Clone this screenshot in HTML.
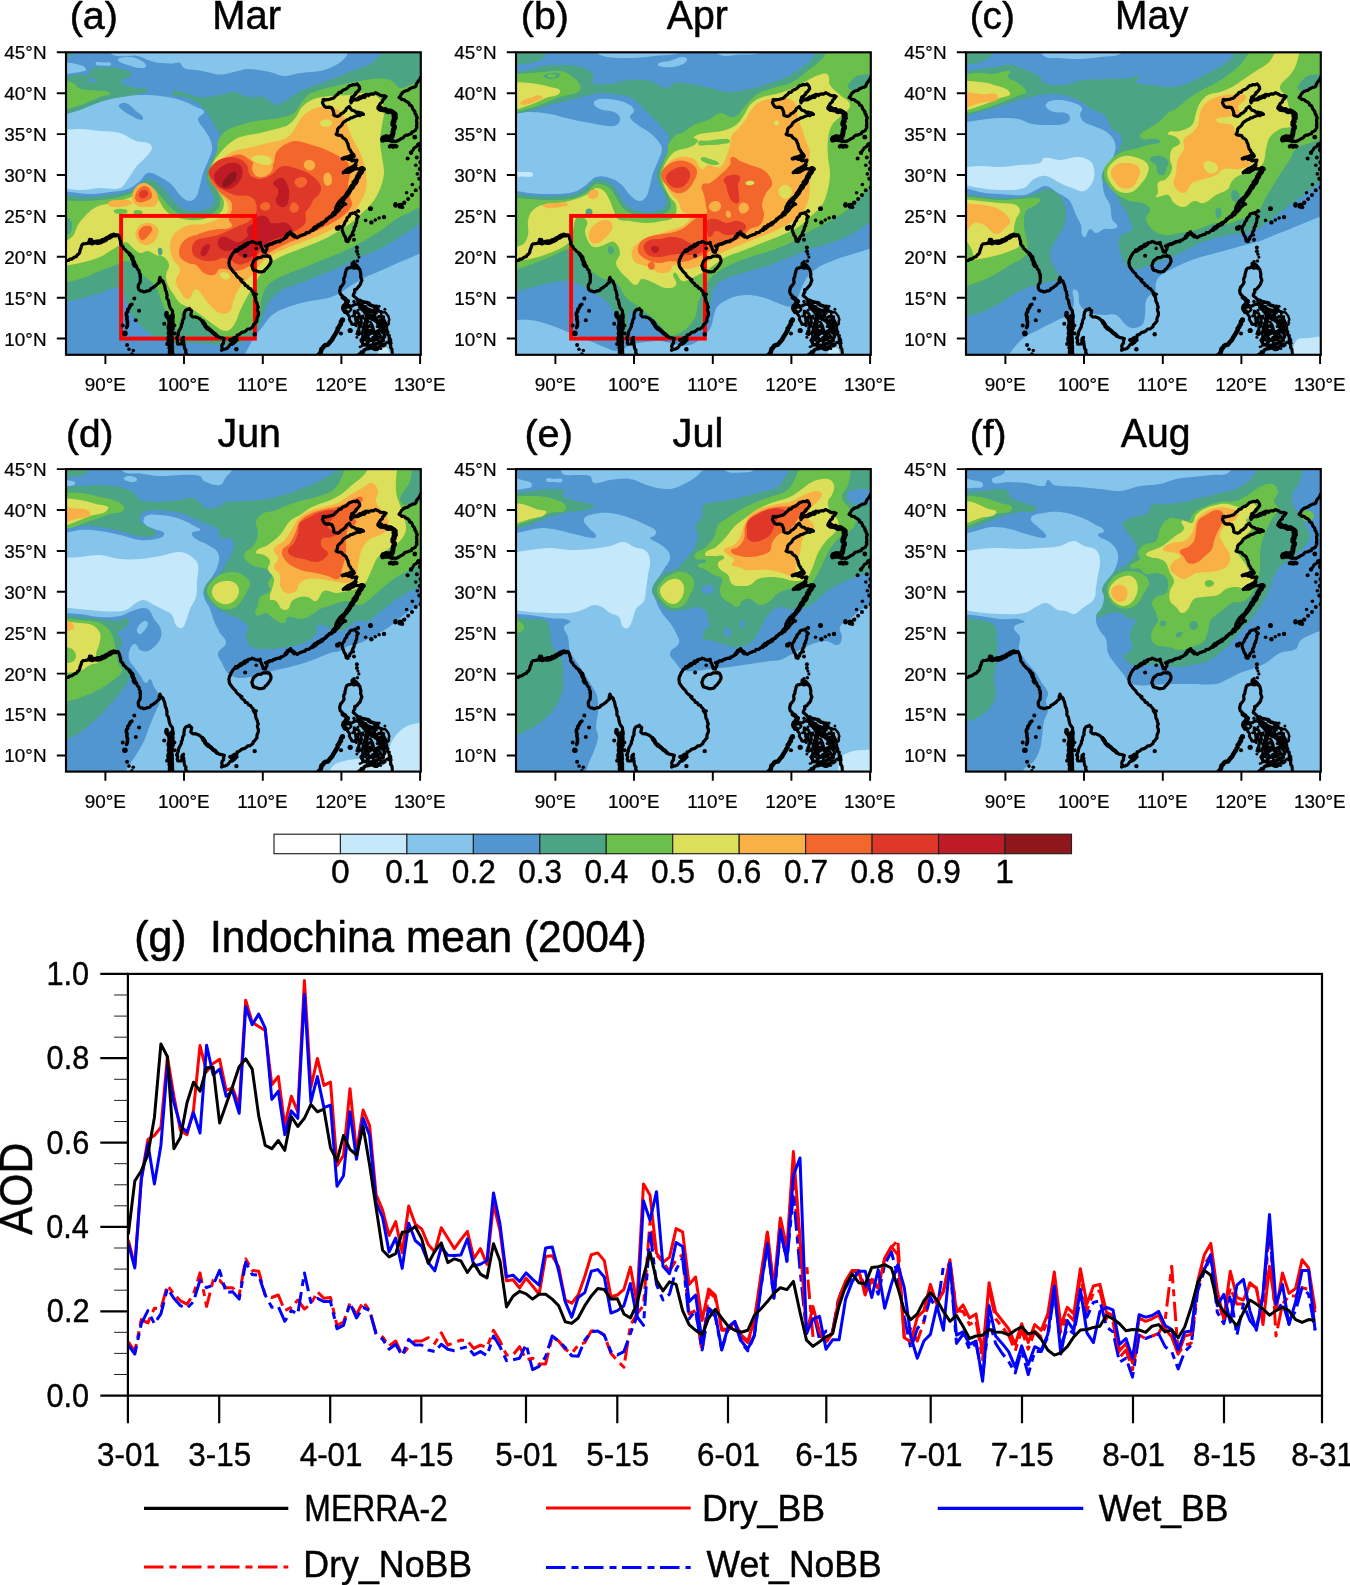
<!DOCTYPE html>
<html><head><meta charset="utf-8"><title>AOD</title>
<style>html,body{margin:0;padding:0;background:#fff}svg{display:block}text{font-family:"Liberation Sans",sans-serif;fill:#000;stroke:#000;stroke-width:0.013em;stroke-linejoin:round}</style></head><body>
<svg width="1350" height="1585" viewBox="0 0 1350 1585">
<rect width="1350" height="1585" fill="#fff"/>
<g style="opacity:0.9999">
<defs>
<clipPath id="pc"><rect x="0" y="0" width="354.8" height="302.5"/></clipPath>
<g id="coast" fill="none" stroke="#000" stroke-width="3.2" stroke-linejoin="round" stroke-linecap="round">
<path d="M-2.1 209.8 L-0.7 209 L0.8 208.2 L2.6 208.1 L3.8 206.9 L5.6 206.8 L7.1 205.8 L8.6 204.7 L10.4 204.3 L11.3 202.5 L12.9 201.4 L13.8 199.9 L13.9 198.3 L14.5 196.8 L15.1 195.4 L15.6 193.2 L17.1 191.5 L19.1 191.3 L21.2 191 L23 189.9 L23.3 188.2 L23.6 187.1 L25.6 187.3 L26.2 189.1 L27.7 189.6 L29.4 189.1 L31.1 188.7 L32.8 188.5 L34.7 188.7 L36 187.3 L37.8 186.9 L39.4 186.1 L40.9 185.1 L42.6 184.4 L44 183.1 L45.9 182.4 L48.1 181.8 L49.9 182.6 L52 182.6 L53.1 184.4 L53.7 186.5 L54.2 188.1 L54.7 189.6 L54.5 191.5 L55.6 193 L57 194.4 L57.6 196.2 L59.3 197.4 L60.6 199.1 L62.3 200.2 L64 201.4 L64.6 203.6 L66.8 204.7 L67.1 206.7 L67.4 208.8 L68.7 210.4 L69.3 212.5 L70.7 214.1 L71 215.9 L71.9 217.2 L73.1 218.3 L73.2 220.4 L74.3 222.1 L74.4 224.1 L74.3 226 L74.2 228 L74.2 229.9 L73.1 231.4 L72.3 232.9 L72.2 234.7 L72.5 236.5 L73.2 237.6 L74.7 238.7 L76.3 238.9 L78 239.7 L79.6 239.3 L81.2 238.5 L82.7 238.5 L84.2 237.8 L85 236.2 L86.6 235.7 L88.4 234.2 L90.2 233 L91.6 231.3 L93.7 229.9 L93.1 228.3 L93.4 226.7 L94 225 L94.7 227.2 L96.7 228.7 L97.3 230.5 L98.2 232.2 L98.7 233.8 L99.1 235.8 L99.4 237.7 L100.4 239.5 L100.6 241.2 L101.1 242.9 L100.8 244.7 L101.1 246.4 L102.4 247.9 L102.7 249.6 L103 251.3 L103.3 252.9 L103.8 254.5 L104.4 256 L105.5 257.3 L106.5 258.7 L106.5 260.8 L107.1 262.7 L107.3 264.6 L106.8 266.6 L107 268.5 L107.1 270.4 L106.8 272.4 L106.7 274.3 L107.3 276.3 L106.1 278.1 L106.2 280.1 L105.9 282 L105.9 283.9 L106.3 285.9 L106.2 287.8 L106.5 289.8 L105.8 291.7 L106.5 293.6 L106.6 295.2 L106.5 296.8 L106.6 298.4 L106.5 300 L106.9 301.6 L106.4 303.3"/>
<circle cx="-3" cy="208.8" r="1.1" fill="#000" stroke="none"/>
<circle cx="12.3" cy="202.8" r="1" fill="#000" stroke="none"/>
<circle cx="20.8" cy="190.7" r="1" fill="#000" stroke="none"/>
<circle cx="73.3" cy="223.7" r="1.1" fill="#000" stroke="none"/>
<circle cx="87.1" cy="235.3" r="1.2" fill="#000" stroke="none"/>
<circle cx="97.4" cy="229.3" r="1.2" fill="#000" stroke="none"/>
<circle cx="106.2" cy="294.3" r="1.4" fill="#000" stroke="none"/>
<path d="M23 190.8 L24.6 191 L26.1 191.6 L27.7 191 L29.4 190.5 L31.3 191.1 L33 191 L34.8 190.4 L36.7 189.5 L38.6 188.7 L40.5 187.8 L41.7 186.2 L43.6 185.9 L45.1 184.8 L46.5 183.8 L48.2 183.3 L50 183.6" stroke-width="3.2"/>
<path d="M63.5 201.9 L64.7 203.2 L65.7 204.6 L66.1 206.4 L66.6 207.9 L67.9 209.6 L67.6 211.7 L68.8 213.5" stroke-width="4"/>
<path d="M100.6 260.8 L100.4 262.6 L100.9 264.1 L102.3 265.4 L103 266.8 L103.5 268.5 L103.6 270.1 L103.7 271.7 L103.1 273.3 L102.7 275 L102.9 276.6 L103.6 278.2 L103.2 279.8 L102.9 281.4 L104 283 L103 284.6 L102.5 286.2 L102.6 287.9 L102.9 289.8 L103.6 291.7 L104.3 293.5 L103.6 295.6 L104.5 297.2 L104 299 L104 300.7 L105 302.3" stroke-width="4.5"/>
<path d="M105 263.7 L105.2 265.3 L105.1 266.9 L104.3 268.5 L104.6 270.1 L105.5 271.7 L105.6 273.4 L105.5 275 L104.3 276.5 L104.4 278.2 L105.4 279.8 L104.3 281.4 L104 283 L104.6 284.6 L105.1 286.2 L104.8 287.8 L105.5 289.4 L105.7 291 L105 292.6" stroke-width="4"/>
<path d="M65.9 252.1 L64.3 252.9 L63.8 254.5 L63 256 L61.7 257.3 L61.8 259.2 L60.5 260.7 L60.3 262.7 L61.1 264.7 L60.8 266.5 L61.1 268.1 L61.6 269.7 L61.4 271.4 L61.4 273.4 L60.6 275.3" stroke-width="3.6"/>
<path d="M121.2 303.3 L120.5 301.6 L119.6 300 L120 298 L118.8 296.6 L118.4 294.9 L118.1 293.3 L118 291.6 L116.9 289.8 L117 288 L117.5 285.1 L116.1 286.1 L115.8 287.9 L116 289.9 L115.1 291.7 L111.8 291.9 L111.2 290 L111.8 287.8 L110.6 285.8 L111.5 284.2 L112.2 282.6 L112.5 280.8 L112.8 279 L113.7 277.4 L114.5 275.8 L115.4 274.2 L115.4 272.2 L116.4 270.7 L116.5 268.9 L117 267.2 L118.1 265.6 L117.9 263.7 L118.2 261.8 L118.5 260 L119.8 257.9 L121.6 257 L123.5 256.8 L125.7 258.4 L125.3 260.5 L124.8 262.9 L126.5 264.6 L128.1 264.7 L129.7 264.6 L131 265.1 L133.1 266.1 L134.8 267.4 L136.2 269.1 L138.3 270.3 L139 271.8 L139.6 273.3 L140.6 274.5 L142.3 275.3 L143.2 276.6 L143.9 278.1 L145.4 278.7 L146.6 279.8 L148 280.6 L149.5 282.4 L151.4 283.8 L153.2 285.1 L155.5 285.5 L158.3 286.3 L157.6 288.5 L157.5 290.8 L156.2 292.3 L155.7 294 L156.2 295.9 L155.5 298 L157.3 297 L159.3 296.7 L161.3 295.9 L162.7 294.4 L163.9 292.5 L165.7 291.7 L167.3 290.8 L168.7 289.7 L169.2 288 L169.9 286.4 L171 284.9 L171.1 282.7 L172.8 282.4 L174.2 281.5 L175.4 280.2 L177 279.8 L178.7 279.3 L180.3 278.2 L181.7 276.7 L183.9 276.7 L185.6 275.5 L186.9 274.5 L187.4 272.5 L188.8 271.5 L189.6 270.3 L191 268.8 L190.9 267 L191.2 265.3 L192 263.7 L192.5 261.9 L192.4 260.2 L191.6 258.5 L191.4 256.8 L192.3 254.9 L191.5 253.1 L191.2 251.1 L190.1 249.3 L189.7 247.5 L189.6 245.3 L188.5 243.5 L187.3 241.8 L187.1 239.6 L185.6 238.2 L184.6 236.4 L182.5 235.8 L181.4 233.8 L179.2 233.2 L178.6 231.3 L177.1 230.4 L175.8 229.3 L174.8 227.9 L173.8 226.1 L171.9 224.9 L170.5 223.4 L169.6 221.5 L168 220.1 L166.6 218.6 L165.5 217 L164.3 215.4 L163.3 213.6 L163.2 211.9 L162.9 210.3 L163.2 208.8 L163.5 207.1 L164.5 205.8 L164.9 204.2 L165.9 202.8 L166.9 200.9 L168.4 199.5 L169.6 197.6 L171.5 197.3 L172.8 196.2 L174 194.9 L175.7 194.2 L177.4 193.8 L178.3 192.1 L180.2 192 L181.4 190.7 L183.1 190.3 L184.8 190.1 L186.3 189.1 L188.2 189.9 L190.2 190.9 L192.2 191 L194.2 190.1 L194.3 192 L195.1 193.6 L195.8 195.2 L196.4 196.7 L196.9 198.3 L197.1 199.5 L199.4 200.1 L199.7 198.4 L200.9 196.9 L200.8 195 L201.9 193.6 L203.1 192.2 L204.8 191.7 L206.4 191.2 L207.9 190.5 L209.4 189.6 L211.7 189.1 L214 188.9"/>
<circle cx="121.1" cy="302.4" r="1.2" fill="#000" stroke="none"/>
<circle cx="118.2" cy="289.2" r="1.2" fill="#000" stroke="none"/>
<circle cx="111.9" cy="285.3" r="1.1" fill="#000" stroke="none"/>
<circle cx="116.1" cy="270.6" r="1.2" fill="#000" stroke="none"/>
<circle cx="123.5" cy="255.6" r="1.1" fill="#000" stroke="none"/>
<circle cx="134.5" cy="266.2" r="0.9" fill="#000" stroke="none"/>
<circle cx="144.7" cy="278.9" r="1.2" fill="#000" stroke="none"/>
<circle cx="188.6" cy="240.9" r="1.3" fill="#000" stroke="none"/>
<circle cx="165.2" cy="216.4" r="1.3" fill="#000" stroke="none"/>
<circle cx="194.4" cy="192" r="1.4" fill="#000" stroke="none"/>
<path d="M136.6 269 L137.3 270.9 L138.7 272.2 L139.3 274.1 L140.7 275.5 L141.9 276.7 L143.7 277.4 L145.1 278.4 L146.1 279.6 L147.5 281 L149.3 281.8 L150.6 283.5" stroke-width="4"/>
<path d="M164.1 287.8 L166 287.5 L167.4 286.3 L168.8 285.5 L170.7 287.7 L169.4 288.5 L168.3 289.8 L166.4 291.3 L165.9 288.9 Z" stroke-width="4"/>
<path d="M169.9 199 L171.5 198.5 L172.8 197.3 L174.3 196.5 L175.8 195.9 L176.8 194.2 L178.8 194.3 L179.8 192.8 L181.5 192.3" stroke-width="3.4"/>
<path d="M186.8 210.6 L187.5 208.8 L188.8 207.5 L190.3 206.5 L191.7 205.3 L193.6 205.3 L195.4 205 L196.9 203.8 L198.6 203.7 L200.3 203.8 L202 204.1 L203.4 204 L204.3 205.8 L205 207.6 L204.9 209.6 L204.1 211.3 L203.2 212.9 L202 214.2 L200.9 215.9 L199.3 217 L198.1 218.9 L196.4 219.3 L194.7 219.6 L193.1 219.6 L191.4 218.9 L189.6 218.3 L187.5 217.9 L186.8 215.7 L185.8 213.5 Z"/>
<circle cx="201.3" cy="203" r="1.5" fill="#000" stroke="none"/>
<circle cx="186.7" cy="216.5" r="1.5" fill="#000" stroke="none"/>
<path d="M199.4 193.7 L201 193.1 L202.6 192.2 L204.3 191.6 L206.3 191.8 L207.6 190.5 L209.2 190.4 L210.6 189.4 L212.3 189.4 L214.1 189.3 L214.9 187.7 L216.7 187.5 L217.9 186.3 L219.5 185.8 L220.8 184.7 L221.3 183.1 L222.9 182.3 L223.5 180.7 L225.7 181.3 L227.7 182.3 L229.3 184.1 L231.2 185.3 L232.7 184.4 L234.1 183.5 L235.8 183 L237.3 182.2 L239.1 182 L240.2 180.3 L242.2 180.4 L243.7 179.7 L244.9 178.2 L246.9 178.2 L248.3 177 L250 176.3 L251.1 174.7 L252.7 173.8 L254.3 172.9 L256.2 172.2 L257.3 170.6 L258.6 169.2 L260.1 168.1 L261.4 167 L262.5 165.8 L263.9 164.9 L265.8 164.6 L266.8 163.1 L268.9 162.4 L269.9 160.5 L271.5 159.3 L273 157.9 L274 156 L275.5 154.5 L277.3 153 L278 150.8"/>
<path d="M219.6 184.1 L221.1 183.2 L221.6 181.4 L223.5 181.1 L224.5 179.7 L225.4 181.6 L226.8 183.1 L228.3 184.5" stroke-width="3.6"/>
<path d="M246.7 176.8 L247.8 175.6 L249 174.4 L251.2 174.7 L251.8 172.7 L253.5 172.3 L254.8 171.2 L256.1 170.3 L258 169.7 L259.7 168.9 L260.4 166.9 L262.2 166.2 L263.3 164.7 L265.1 163.9 L266.1 162.5 L267.1 161.1 L268.3 159.9 L269.6 158.8 L271.6 158.4 L272.4 156.8 L273.7 155.6" stroke-width="3.4"/>
<path d="M266.8 162.1 L267.2 160.5 L268.7 159.4 L269.5 158 L269.7 156.3 L270 154.7 L270.8 153.3 L271.4 151.8 L272.5 150.4 L273.4 148.9 L274.6 147.8 L275.8 146.5 L277.2 145.4 L278.6 144.4 L279.6 143 L280.2 141.4 L281.2 140.1 L282.3 138.8 L283.1 137.3 L284 136 L284.5 134.4 L285.6 133 L287.1 132 L287 130.1 L288.2 128.8 L289.1 127.5 L290.3 126.1 L290.7 124.1 L291.7 122.6 L292.6 121 L293.7 119.6 L294.7 118.3 L296.2 117.4 L296.7 115.4 L295.1 115.4 L293.5 116.5 L292.1 116.5 L290.2 116.3 L288.5 116.7 L287.1 117.8 L285.4 118.3 L283.9 119.7 L282.1 120 L280.4 120.1 L278.7 120 L277.2 120.5 L278.7 119.8 L279.7 118.1 L281 117.1 L282.5 116.3 L284.2 115.8 L285.9 114.7 L287.7 113.6 L289.2 112.1 L290.1 110.1 L290.9 107.8 L289.3 108.1 L287.7 108 L285.9 108.6 L284.3 107.1 L282.2 107.1 L280.3 105.6 L278.3 106.2 L276.2 106.4 L277.6 105.6 L279.2 105.1 L280.8 105 L282.3 104.4 L284.1 103.4 L286 103.1 L288.1 103.2 L287.2 101.9 L286 100.8 L284.9 99.5 L284.5 97.9 L283.2 96.8 L282.8 95.1 L282.2 93.6 L282 91.7 L281 90.1 L280.5 88.3 L279.3 86.9 L277.9 86.1 L276.6 85.2 L275.7 83.4 L274 83.1 L272.2 82.9 L270.1 81.9 L271 80.4 L271.5 78.8 L271.6 77.1 L272.7 75.4 L274.4 74.1 L275.8 72.8 L276.7 70.9 L278 69.5 L279.7 68.6 L281.2 67.5 L283.1 66.9 L284.5 65.5 L286.5 65.3 L288.1 64.4 L290 63.7 L291.8 62.9 L293.9 63.3 L295.5 62.2 L297.5 62 L295.7 60.6 L293.8 60.5 L291.9 59.7 L289.9 60 L288.3 58.4 L286.1 57.9 L284.9 56.8 L283.9 55.5 L283.3 54.1 L281.8 55.2 L280.3 56.2 L279.7 58.2 L278.2 59.3 L277 60.7 L275.2 61.2 L273.8 63.1 L271.5 64.2 L269.6 63.7 L267.7 62.7 L267.8 60.7 L267.3 58.7 L265.9 55.7 L264.4 55 L262.7 54.8 L260.9 55.2 L258.9 54.4 L257.7 52.9 L256.4 50.3 L258.1 47.2 L259.8 47.8 L261.3 47.3 L262.9 47.1 L264.5 46.7 L266.1 46.2 L267.3 45.9 L268.9 44.5 L270.2 43 L271.9 41.9 L273 40.1 L275.1 40 L276.3 38.3 L277.8 37.5 L279.6 37 L281 36 L282.2 34.7 L283.6 33.4 L285.5 33.1 L287.1 32.2 L289.1 32.6 L291.2 31.6 L292.5 33.2 L293.4 34.5 L293.7 36.5 L292.6 38 L291.7 39.2 L290.4 40.3 L289.7 41.9 L288.5 42.8 L287.5 44 L285.7 44.7 L285.4 46.3 L284.6 48.2 L285 50.5 L286.2 48.6 L287.9 47 L290.2 47 L292 45.8 L293.7 44.6 L295.5 44.5 L296.8 43.5 L298.4 42.9 L299.8 42 L301.6 42.3 L303.5 42.2 L305.4 41.6 L307.4 41.8 L309.4 40.4 L311.1 41.2 L312.7 41.9 L314.2 43 L315.9 43.5 L318 43.3 L320.1 44.1 L319 45.4 L318 46.8 L316.6 47.9 L316.3 49.7 L314.8 50.6 L313.8 52 L312.8 53.9 L311.9 56.2 L314.1 58 L315.8 57.7 L317.5 57.7 L319.2 57.7 L320.8 58.2 L322.9 57.7 L324.8 58.2 L326.4 59.1 L328.3 60.1 L330.1 61.7 L330.1 63.4 L329.5 65 L329.7 66.7 L327.7 67.6 L326.2 69.6 L326.8 71.3 L328.2 72.6 L329 74.5 L328.4 76.1 L327.3 77.5 L326.4 79.1 L326.7 80.7 L327 82.3 L326.7 84 L324.7 83.8 L322.8 83.7 L320.8 83.7 L319.2 83.9 L317.6 84.4 L316.5 84.9 L315.6 86.8 L316 88.5 L317.7 88.5 L319.2 88 L320.8 88.1 L322.9 88.1 L324.8 88.8 L326.6 89.4 L328.2 88.9 L330.2 89.2 L331.7 88.4 L333.3 87.6 L334.9 86.4 L337 85.7 L338.2 84 L339.8 82.9 L341.8 82.8 L343.4 81.9 L345.3 81.5 L346 79.7 L347.5 79.1 L349.2 78.3 L350 76.7 L350.9 75.2 L350.7 73.4 L350.9 71.4 L350.6 69.5 L350.5 67.6 L351.3 65.4 L350.3 64 L350.1 62.3 L348.9 61 L348.9 59.3 L347.8 57.9 L346.7 56.7 L346.2 55 L345.4 53.5 L343.6 52.8 L343.1 51 L341.5 49.7 L339.6 48.8 L338.2 47.4 L336.5 47 L334.9 46.3 L333.1 45.2 L334.5 43.5 L335.4 41.6 L336.8 40.2 L338.4 39 L340.3 38.4 L342.2 37.8 L343.5 36.5 L345.1 35.9 L346.6 35 L348.4 34.8 L349.9 33.8 L350.2 32.1 L351 30.6 L352.1 29.4 L353.1 28 L354 26.6 L354.6 25.1"/>
<circle cx="265.9" cy="162.6" r="1.1" fill="#000" stroke="none"/>
<circle cx="272.9" cy="150.1" r="1.1" fill="#000" stroke="none"/>
<circle cx="286.6" cy="100" r="0.9" fill="#000" stroke="none"/>
<circle cx="256.8" cy="47.3" r="1.3" fill="#000" stroke="none"/>
<circle cx="285.8" cy="32.8" r="1.2" fill="#000" stroke="none"/>
<circle cx="289.9" cy="40.3" r="1.5" fill="#000" stroke="none"/>
<circle cx="287.9" cy="47.8" r="1.5" fill="#000" stroke="none"/>
<circle cx="302.6" cy="43.4" r="1.5" fill="#000" stroke="none"/>
<circle cx="315.2" cy="57.7" r="1.4" fill="#000" stroke="none"/>
<circle cx="319.9" cy="83.1" r="1.1" fill="#000" stroke="none"/>
<circle cx="350" cy="73.1" r="1.2" fill="#000" stroke="none"/>
<circle cx="335.8" cy="47.6" r="1.4" fill="#000" stroke="none"/>
<circle cx="343.6" cy="37.2" r="0.9" fill="#000" stroke="none"/>
<path d="M272.6 152.5 L273.3 150.8 L275 150 L276 148.7 L277.3 147.5 L278 145.8 L279.3 144.7 L280.4 143.5 L281.2 142.1 L282.5 141 L283.2 139.5 L284.1 138.3 L284.5 136.6 L286.3 135.6 L287.1 133.9 L287.7 132.2 L289.4 131.1 L290.4 129.5 L290.9 127.7 L291.5 125.9 L292.8 124.6 L293.3 122.8 L294.3 121.3 L295.7 119.9 L296.2 118 L297.7 116.8" stroke-width="4.4"/>
<path d="M277.9 119.7 L279.4 118.8 L281.1 118.2 L282.3 116.8 L284.3 116.9 L285.3 115.2 L287.3 115.1 L288.8 114.2 L290 112.9" stroke-width="3.4"/>
<path d="M276.5 106.6 L278.4 106.2 L280.2 105 L282.3 105.2 L284.2 104.7 L286.2 105.2 L288 104.2" stroke-width="3.4"/>
<path d="M286.1 48.2 L287.9 47 L290.2 47.5 L292.1 47.1 L293.6 46.2 L295.1 45.8 L296.4 44.4 L298.3 45.1 L299.6 43.9" stroke-width="3.6"/>
<path d="M313.1 55 L314.7 55.7 L315.9 57 L317.5 57.6 L319.5 57.2 L320.7 58.8 L322.4 59.5 L324.4 58.7 L326 59.6 L327.2 60.4 L328.6 61.9 L328 64 L329.4 65.7 L328 67 L328.3 69 L327.1 70.4 L326.8 72.2 L328.2 73.6 L328.5 75.4 L327.4 77.2 L327.1 79.2 L326.9 81.1 L326.4 83 L325.7 84.9" stroke-width="5"/>
<path d="M317 85.9 L318.8 85 L321 85.9 L322.6 85.1 L323.8 86.8 L325.7 87.8" stroke-width="4"/>
<path d="M323.8 94.1 L325.4 93.5 L327.1 94.5 L328.8 93.5 L330.5 94.1" stroke-width="4.2"/>
<path d="M354.6 90.7 L353 91.9 L351.3 93.1 L350 94.7 L348.1 95.6 L347.3 97.4 L346.1 98.8 L345 100.4" stroke-width="3"/>
<path d="M289.5 160.4 L290.3 162.6 L292.4 164.4 L290.9 166.1 L290.8 168.1 L290.6 170.1 L289.6 171.9 L289.7 173.6 L288.3 174.9 L288.2 176.6 L287.8 178.2 L286.8 179.6 L286.2 181.4 L285.5 183.3 L283.9 184.6 L283.5 186.9 L281.6 187.1 L280.1 188.5 L279.8 186.7 L279.4 184.8 L278.2 183.3 L277.6 181.6 L276.9 179.8 L276.2 177.9 L276 175.6 L276.8 174 L278 172.5 L278.6 170.8 L279.4 169.1 L280.7 168 L280.9 166.1 L282 164.9 L283.4 163.8 L284 161.8 L285.8 161.1 L287.7 160.9 Z"/>
<circle cx="289.1" cy="159.7" r="1.3" fill="#000" stroke="none"/>
<circle cx="280.1" cy="186.6" r="1" fill="#000" stroke="none"/>
<path d="M286.1 211.1 L287.7 211.7 L289.2 212.4 L290.7 213.2 L291.8 214.6 L292.6 216 L293.7 216.9 L294.2 218.6 L294.5 220.4 L294.9 222 L294.6 224.2 L295.2 226.1 L295.9 228 L295 229.9 L294.5 231.9 L293.5 233.4 L292.1 234.8 L290.8 236.6 L288.6 237.5 L288.9 239.7 L287.7 241.5 L287.2 243.3 L288.8 244.6 L290.2 245.8 L291.8 247.6 L294 247.7 L295.7 248.9 L297.5 250 L299.8 249.8 L301.4 250.8 L302.8 252.2 L304.5 253.1 L306.4 253.6 L308.3 254.1 L310.6 253.9 L311.3 257.1 L309.4 258.1 L307.2 259.4 L305.5 257.9 L303.7 257.6 L302.4 256.7 L300.6 256.4 L299.8 254.6 L298.1 254.1 L296.4 253.8 L294.9 252.8 L293.2 252.5 L291.5 252.1 L290.2 251.6 L288.2 252.4 L286.4 253.6 L284.3 254.2 L282.3 254.7 L280.3 254.8 L278.4 254.6 L276.7 255.2 L277.2 253.5 L278.4 252.5 L279.3 251.1 L281 250.5 L282.3 249.2 L280.7 248.7 L279.5 247.6 L278.3 246.1 L276.2 245.5 L276.1 243.2 L274.3 241.7 L273.8 239.6 L273.7 238 L274.3 236.3 L274.4 235.1 L275.9 233.5 L277.2 231.8 L278.1 230 L277.7 228 L277.8 226 L278.9 224.2 L279 222.2 L279.6 220.3 L280 218.4 L280.5 216.9 L281.9 215.7 L283.7 215.5 L285.1 214.7 L288 215.9 L290 215.4 L291.9 215.4"/>
<circle cx="287.8" cy="237.8" r="0.9" fill="#000" stroke="none"/>
<circle cx="308.2" cy="257.1" r="1.5" fill="#000" stroke="none"/>
<circle cx="294" cy="251.6" r="0.9" fill="#000" stroke="none"/>
<path d="M288 212.5 L289.7 212.9 L290.5 214.6 L291.9 215.4" stroke-width="4"/>
<path d="M277.4 245.4 L279.2 246.5 L280.3 248.3 L281.8 248.9 L280.8 250.5 L280.9 252.8 L279.4 254" stroke-width="4.5"/>
<path d="M276.5 256 L277 257.6 L277.9 258.9 L278.8 260.3 L280.8 260.7 L281.7 262.1 L282.8 263.4 L283.7 264.9 L283.3 267 L284.1 268.5 L285.2 270 L285.9 271.9 L287.6 272.2 L289.5 272.4 L290.3 273.4 L290.1 271.7 L290.9 269.9 L289.8 268.3 L289.7 266.7 L289.4 264.7 L288.3 262.9 L288.2 260.9 L288.2 258.6 L289.8 260.1 L292.1 260.7 L293.1 262.1 L293.2 264.1 L294.8 265.1 L295.2 266.4 L295.1 268.5 L295.5 270.6 L294.5 272.4 L293.9 274.3 L292.8 275.7 L292.9 277.5 L291.8 278.8 L291.5 280.5 L290.9 281.6 L292.7 282.3 L294 280.7 L296.1 281.4 L296.6 279.5 L297.6 278.1 L299 277.1 L301 276.3 L301.6 274.4 L300.3 272.3 L301.3 270.4 L301.5 268.5 L301.5 266.7 L300.1 265.3 L300.1 263.4 L299.7 261.5 L301.3 263.2 L303.7 263.3 L304.6 265 L306.5 264.8 L308 265.5 L309.4 266.9 L311.2 265.6 L313.1 264 L315.1 264.9 L317.6 264.4 L317.3 266.3 L318.2 267.7 L318.8 269.2 L319.7 270.5 L320.4 272.3 L320.5 274.3 L320.8 276.2 L320.3 278.3 L322 279.9 L321.2 282.2 L323 283.8 L323.2 285.8 L323.6 287.7 L323.1 289.9 L324.2 291.7 L324.9 293.6 L324.5 295.4 L325.9 296.7 L326 298.4 L326.3 300.1 L326.3 301.7 L327.1 303.3" stroke-width="3"/>
<path d="M291.9 249.2 L292.8 250.7 L294.1 251.7 L295.6 252.5 L296.7 253.6 L298.1 254.6 L298.8 256.6 L300.4 257.6 L301.8 258.9 L303.3 259.3 L305.1 259.3 L307 259.3 L308.6 258.5 L310.8 258.2 L309.6 259.4 L308.2 260.5 L308.4 262.4 L307.8 263.5 L308.4 265.1 L308.6 266.9 L309.2 268.6 L310.9 269.6 L311.7 271.1 L312.5 272.6 L313.4 274.1 L314.1 275.8 L315.5 276.8 L316.6 278.3 L318 279.4 L318.2 280.9 L318.1 282.6 L318.6 284.6 L316.8 285.9 L317.4 288.3 L315.7 288.9 L313.7 289.1 L312.4 290.3 L311.1 291.3 L309.3 292.3 L307.5 293.1 L305.4 292.9 L303.3 294.2 L301.4 293.4 L299.6 292.5 L297.1 292.1 L296.6 290.5 L296.1 288.8 L295 288 L296.2 286.4 L297.8 285.1 L299.1 284.1 L300.3 283 L302.1 282.9 L303.4 281.9 L305.1 280.7 L306.6 279.2 L307.2 277.2 L306.8 275.5 L306.4 273.8 L305.5 272.5 L303.7 273.7 L301.2 274.2 L300.5 275.8 L300.2 277.6 L299.8 279.3 L299.1 281.3 L300.3 282.9 L301.4 284.5 L302.6 286.1 L303.5 287.5 L305.4 288 L307.3 287.2 L309.2 287.7 L311.2 286.9 L312.7 285.5 L314.1 284" stroke-width="3.4"/>
<path d="M293.8 255 L294.8 256.3 L296.4 257 L297.4 258.4 L298.5 259.6 L299.5 260.9 L301.2 261.9 L302.3 263.4 L303.5 264.9 L305.6 265.2 L306.8 266.6 L308.1 267.5 L309.8 267.6 L311.2 268.5 L311.9 270.3 L314.1 270.4 L314.8 272.2 L316.5 273.1 L316.6 275.2 L317.4 276.9 L318.9 278.2" stroke-width="3.6"/>
<path d="M303.5 278.2 L305.4 278.8 L307.6 278.8 L309.3 280.2 L311.2 279.2 L312.8 278 L312.4 279.8 L311.5 281.5 L310.5 283 L310.2 284.9 L308.7 285.7 L306.8 285.5 L305.7 287.2 L304 287.6 L302.9 288.9 L301.6 289.7" stroke-width="3.4"/>
<path d="M292.9 302.1 L294.5 301.5 L295.2 299.7 L297.4 300 L298.1 298.2 L299.5 296.8 L301.5 296.6 L303.4 296.3 L305.2 295.3 L307.3 295.4 L309 295.2 L310.8 295.4 L312.4 294.6 L314 294.2 L315.5 293.5 L317.5 293.6 L318.9 292.6" stroke-width="3.4"/>
<path d="M323.8 286.8 L323.6 289 L324.7 290.7" stroke-width="4"/>
<path d="M279.4 253.6 L281.3 253.4 L283.6 252.9 L283.8 255.2 L285.3 257.1 L284 258.7 L282 260.3 L280.8 258.5 L279.4 258 L279.3 255.7 Z" stroke-width="2.4"/>
<path d="M291.9 264.7 L293.5 264.3 L295.1 264.1 L297.1 263.5 L297.1 265.7 L298.9 266.8 L299.4 268.4 L298.5 270.3 L297.9 272.2 L297.7 274.4 L295.7 274.1 L293.9 273.3 L292.6 272 L293 269.9 L291.7 268.5 L292.5 266.6 Z" stroke-width="2.4"/>
<path d="M296.7 275.3 L298.6 274.4 L300.8 274.3 L301.2 275.9 L301.2 277.7 L301.8 279.3 L302.3 281.3 L300.7 282.7 L300.9 284.5 L300.5 286.2 L299.5 288.1 L296.7 286.9 L296.4 285.2 L296.5 283.4 L296.3 281.7 L295.6 280.1 L296.8 278.6 L297 277 Z" stroke-width="2.4"/>
<path d="M304 269.5 L305.3 270.8 L304.8 272.9 L305.3 274.4 L305.8 276.1 L307.2 277.6 L306.5 279.5 L307.1 281.1 L308.4 282.5 L308.8 284.1 L308.3 285.9" stroke-width="2.4"/>
<path d="M308.8 282 L311.1 282.2 L312.9 281.2 L314.2 282.6 L314.9 285 L313.2 285.9 L311 286.7 L309.2 284.9 Z" stroke-width="2.4"/>
<path d="M313.6 267.5 L315.4 267.8 L317.5 268.4 L316.7 270.5 L317.2 272.5 L318.5 274.4 L317.1 275.9 L317.3 277.7 L316.8 279.3 L317.1 280.8 L315.2 280 L314.9 278.4 L314.9 276.7 L313.7 275.1 L314.4 273.3 L314 271.4 L314.2 269.4 Z" stroke-width="2.4"/>
<path d="M314.1 258.9 L315.7 259.1 L317.2 260.1 L318.9 259.9 L320.2 261.1 L321.2 262.5 L322.3 263.8 L322.8 265.6 L323.4 267.4 L322.6 269 L323 270.7 L322.3 272.4 L320.6 271.9 L319 271.4 L318.7 269.7 L316.8 268.9 L317.2 266.8 L316 265.6 L315.6 263.9 L315.3 262.2 L315.1 260.4 Z" stroke-width="2.4"/>
<path d="M301.6 262.7 L303.1 262.2 L304.7 262 L305.9 262.3 L308.5 262.7 L309.6 264.5 L307.9 265.7 L306.2 267.8 L304.5 266.4 L302.8 266 L302.7 264.2 Z" stroke-width="2.4"/>
<path d="M301.6 250.2 L303.3 250.9 L304.4 252.8 L306.4 253.1 L308 254 L309.3 255.5 L311.8 255.6 L311.9 257.6 L313.1 258.9" stroke-width="3.2"/>
<path d="M293.8 294.6 L295.4 294 L296.6 292.9 L298.4 292.9 L299.7 291.5 L301.6 292 L303.5 292.4 L305.6 293.1 L307.2 291.6 L309.2 291.3 L311.2 290.6 L313.1 291.1 L315 291.9 L316.9 291.4 L319.2 291.2 L321 289.6 L322.1 290.7 L323.7 291.4 L324.7 292.6 L324.5 294.5 L325.4 295.9 L326.2 297.5" stroke-width="2.4"/>
<path d="M297.7 297.5 L299.8 297.3 L301.5 295.9 L303.6 295.3 L305.5 295.9 L307.3 297 L309.3 297.7 L311.3 297.6 L313 296.1 L315.1 296.5" stroke-width="2.4"/>
<path d="M251.9 303.3 L253.2 301.9 L254.5 300.5 L255.1 298.7 L255.5 296.7 L257 295.3 L258.1 293.7 L259.7 292.7 L261.9 292.4 L263.1 290.8 L264.1 289.5 L265.3 288.3 L266.4 287 L267 285.4 L267.9 284.1 L268.9 282.5 L270 280.9 L270.8 279.2 L271.7 277.8 L271.7 276 L273.1 274.9 L273.5 273.3 L274.9 271.8 L274.9 269.5 L276.5 268" stroke-width="4.6"/>
<circle cx="98.2" cy="271.4" r="2" fill="#000" stroke="none"/>
<circle cx="101.1" cy="291.7" r="2" fill="#000" stroke="none"/>
<circle cx="100.2" cy="263.7" r="1.6" fill="#000" stroke="none"/>
<circle cx="108.4" cy="273.3" r="2" fill="#000" stroke="none"/>
<circle cx="108.8" cy="281.1" r="2" fill="#000" stroke="none"/>
<circle cx="68.3" cy="246.3" r="2" fill="#000" stroke="none"/>
<circle cx="73.1" cy="258.4" r="2" fill="#000" stroke="none"/>
<circle cx="69.8" cy="268" r="2" fill="#000" stroke="none"/>
<circle cx="56.7" cy="273.3" r="2" fill="#000" stroke="none"/>
<circle cx="58.9" cy="281.1" r="2.8" fill="#000" stroke="none"/>
<circle cx="61.1" cy="292.6" r="2" fill="#000" stroke="none"/>
<circle cx="63" cy="297" r="1.8" fill="#000" stroke="none"/>
<circle cx="67.3" cy="298.2" r="1.8" fill="#000" stroke="none"/>
<circle cx="65.9" cy="301.8" r="1.8" fill="#000" stroke="none"/>
<circle cx="179.1" cy="203.4" r="2" fill="#000" stroke="none"/>
<circle cx="188.7" cy="282" r="2.2" fill="#000" stroke="none"/>
<circle cx="170.4" cy="297" r="2.2" fill="#000" stroke="none"/>
<circle cx="190.2" cy="196.1" r="1.8" fill="#000" stroke="none"/>
<circle cx="175.7" cy="227.5" r="1.8" fill="#000" stroke="none"/>
<circle cx="190.2" cy="242" r="1.8" fill="#000" stroke="none"/>
<circle cx="348.8" cy="84.9" r="2.4" fill="#000" stroke="none"/>
<circle cx="352.7" cy="92.6" r="2.6" fill="#000" stroke="none"/>
<circle cx="354.6" cy="97.5" r="2.6" fill="#000" stroke="none"/>
<circle cx="345" cy="100.4" r="2.2" fill="#000" stroke="none"/>
<circle cx="341.6" cy="106.1" r="2" fill="#000" stroke="none"/>
<circle cx="350.8" cy="105.2" r="2" fill="#000" stroke="none"/>
<circle cx="354.6" cy="110" r="2.2" fill="#000" stroke="none"/>
<circle cx="349.8" cy="112.9" r="1.8" fill="#000" stroke="none"/>
<circle cx="353.7" cy="116.8" r="2" fill="#000" stroke="none"/>
<circle cx="351.3" cy="121.6" r="1.8" fill="#000" stroke="none"/>
<circle cx="353.2" cy="126.4" r="2" fill="#000" stroke="none"/>
<circle cx="346.4" cy="132.2" r="1.8" fill="#000" stroke="none"/>
<circle cx="354.6" cy="135.1" r="2" fill="#000" stroke="none"/>
<circle cx="340.6" cy="140.4" r="1.8" fill="#000" stroke="none"/>
<circle cx="349.8" cy="138" r="2" fill="#000" stroke="none"/>
<circle cx="346" cy="142.8" r="2" fill="#000" stroke="none"/>
<circle cx="342.1" cy="146.7" r="2" fill="#000" stroke="none"/>
<circle cx="338.2" cy="150.5" r="2.2" fill="#000" stroke="none"/>
<circle cx="334.4" cy="153.4" r="2.4" fill="#000" stroke="none"/>
<circle cx="329.5" cy="152" r="2.2" fill="#000" stroke="none"/>
<circle cx="336.3" cy="154.9" r="2" fill="#000" stroke="none"/>
<circle cx="304.5" cy="156.3" r="2.4" fill="#000" stroke="none"/>
<circle cx="279.4" cy="152" r="1.8" fill="#000" stroke="none"/>
<circle cx="291.9" cy="158.3" r="1.6" fill="#000" stroke="none"/>
<circle cx="271.6" cy="175.9" r="2.6" fill="#000" stroke="none"/>
<circle cx="273.6" cy="174.4" r="2" fill="#000" stroke="none"/>
<circle cx="292.4" cy="159" r="1.8" fill="#000" stroke="none"/>
<circle cx="304.5" cy="156.6" r="2.2" fill="#000" stroke="none"/>
<circle cx="299.6" cy="168.1" r="1.8" fill="#000" stroke="none"/>
<circle cx="305.4" cy="170.1" r="2.2" fill="#000" stroke="none"/>
<circle cx="309.3" cy="167.7" r="1.8" fill="#000" stroke="none"/>
<circle cx="313.1" cy="165.7" r="1.8" fill="#000" stroke="none"/>
<circle cx="318" cy="164.8" r="2.2" fill="#000" stroke="none"/>
<circle cx="334.4" cy="153.5" r="3" fill="#000" stroke="none"/>
<circle cx="329.5" cy="153.2" r="2.2" fill="#000" stroke="none"/>
<circle cx="287.6" cy="182.6" r="1.6" fill="#000" stroke="none"/>
<circle cx="288" cy="187.4" r="2" fill="#000" stroke="none"/>
<circle cx="281.8" cy="188.9" r="2" fill="#000" stroke="none"/>
<circle cx="290.9" cy="195.2" r="2" fill="#000" stroke="none"/>
<circle cx="290.9" cy="199" r="2" fill="#000" stroke="none"/>
<circle cx="291.9" cy="201.9" r="1.6" fill="#000" stroke="none"/>
<circle cx="292.9" cy="204.8" r="1.6" fill="#000" stroke="none"/>
<circle cx="291.4" cy="208.7" r="1.8" fill="#000" stroke="none"/>
<circle cx="288" cy="209.6" r="1.8" fill="#000" stroke="none"/>
<circle cx="286.6" cy="212.1" r="2" fill="#000" stroke="none"/>
<circle cx="284.2" cy="278.2" r="2.6" fill="#000" stroke="none"/>
<circle cx="276.5" cy="267.5" r="2.6" fill="#000" stroke="none"/>
<circle cx="275" cy="281.1" r="2" fill="#000" stroke="none"/>
<circle cx="288" cy="249.2" r="1.7" fill="#000" stroke="none"/>
<circle cx="291.9" cy="257.9" r="1.5" fill="#000" stroke="none"/>
<circle cx="286.6" cy="263.7" r="1.5" fill="#000" stroke="none"/>
<circle cx="289" cy="271.4" r="1.7" fill="#000" stroke="none"/>
<circle cx="292.9" cy="278.2" r="1.5" fill="#000" stroke="none"/>
<circle cx="303.5" cy="258.9" r="1.5" fill="#000" stroke="none"/>
<circle cx="310.2" cy="260.8" r="1.7" fill="#000" stroke="none"/>
<circle cx="300.6" cy="271.4" r="1.5" fill="#000" stroke="none"/>
<circle cx="311.2" cy="274.3" r="1.5" fill="#000" stroke="none"/>
<circle cx="320.9" cy="278.2" r="1.7" fill="#000" stroke="none"/>
<circle cx="323.3" cy="283" r="1.5" fill="#000" stroke="none"/>
<circle cx="307.3" cy="289.7" r="1.5" fill="#000" stroke="none"/>
<circle cx="301.6" cy="290.7" r="1.5" fill="#000" stroke="none"/>
<circle cx="316" cy="287.8" r="1.7" fill="#000" stroke="none"/>
<circle cx="295.8" cy="289.7" r="1.5" fill="#000" stroke="none"/>
<circle cx="290.9" cy="284.9" r="1.5" fill="#000" stroke="none"/>
<circle cx="318.9" cy="256.9" r="1.5" fill="#000" stroke="none"/>
<circle cx="313.1" cy="254" r="1.5" fill="#000" stroke="none"/>
<circle cx="297.7" cy="249.2" r="1.5" fill="#000" stroke="none"/>
<circle cx="324.7" cy="287.8" r="1.7" fill="#000" stroke="none"/>
</g>
</defs>
<g transform="translate(66 52.3)">
<g clip-path="url(#pc)">
<rect x="0" y="0" width="354.8" height="302.5" fill="#5196d0"/>
<path d="M45 -7.3 C45 -7.3 42.9 -1.1 45 1.1 C47.7 4 51.7 3.6 55.6 3.9 C60.7 4.4 64.7 2.6 69.8 3.3 C74.3 3.9 77.3 6.1 81.6 7.5 C85.4 8.7 88.4 9.9 92.4 10.5 C97.5 11.2 101.5 11.1 106.6 11.1 C109.1 11.1 111.3 9.5 113.6 10.5 C116 11.5 116 14.9 118.4 15.9 C122.3 17.6 126 17 130.2 17.7 C134.5 18.4 137.8 19.1 142 19.9 C146.3 20.7 149.6 22.3 154 22.3 C159.1 22.3 163 20.7 168 19.7 C173.1 18.7 176.8 16.7 182 16.7 C190 16.7 196.2 18.2 204 19.7 C209.1 20.7 212.8 23.5 218 23.7 C223.9 23.9 228.2 21.5 234 20.7 C241.2 19.7 246.9 20 254 18.7 C258.5 17.9 261.9 16.7 266 14.7 C270.6 12.4 274.5 10.5 278 6.7 C281.9 2.4 286 -7.3 286 -7.3 C286 -7.3 45 -7.3 45 -7.3 Z" fill="#86c5eb"/>
<path d="M52 6.7 C55.9 4.7 59.6 4.5 64 4.7 C67.8 4.9 70.7 5.9 74 7.7 C76.7 9.2 80 10.6 80 13.7 C80 16 76.3 15.8 74 15.7 C69.6 15.5 66.3 14 62 12.7 C59.1 11.8 56.6 11.3 54 9.7 C52.9 9 50.8 7.3 52 6.7 Z" fill="#86c5eb"/>
<path d="M-10 8.7 C-10 8.7 3 9.8 10 11.7 C13.9 12.7 18.2 13.1 20 16.7 C21.1 18.9 16.4 19.2 14 19.7 C5.5 21.4 -10 22.7 -10 22.7 C-10 22.7 -10 8.7 -10 8.7 Z" fill="#86c5eb"/>
<path d="M-10 0.1 C-10 0.1 0.4 -1.3 6 0.1 C7.4 0.5 5.4 3.2 4 3.7 C-0.8 5.4 -10 5.7 -10 5.7 C-10 5.7 -10 0.1 -10 0.1 Z" fill="#4ba483"/>
<path d="M-10 61.7 C-10 61.7 5.5 59 14 56.7 C21.4 54.7 26.7 51.9 34 49.7 C41.1 47.6 46.7 46 54 44.7 C61.1 43.5 66.8 42.9 74 42.7 C81.2 42.5 86.8 42.8 94 43.7 C101.3 44.6 107 45.6 114 47.7 C120 49.5 124.4 51.9 130 54.7 C133 56.2 137.4 56.3 138 59.7 C138.5 63 132 63.4 132 66.7 C132 70.9 135.8 73.1 138 76.7 C140.2 80.3 142.4 82.8 144 86.7 C145.4 90.1 146.3 93 146 96.7 C145.6 101.2 143.6 104.4 142 108.7 C140.4 113.1 138.5 116.3 137 120.7 C135.6 124.9 135.2 128.4 134 132.7 C132.7 137.1 132.6 140.9 130 144.7 C128.4 147.1 125.9 149.1 123 148.7 C119.1 148.2 116.8 145.4 114 142.7 C110.6 139.5 109.4 135.8 106 132.7 C102.1 129.2 98.6 127 94 124.7 C89.9 122.7 86.5 119.8 82 120.7 C78 121.5 77.2 126.2 74 128.7 C69.9 131.9 66.9 134.9 62 136.7 C55.8 139 50.5 138.8 44 139.7 C36.8 140.6 31.2 142 24 141.7 C11.7 141.2 -10 137.7 -10 137.7 C-10 137.7 -10 61.7 -10 61.7 Z" fill="#86c5eb"/>
<path d="M53 52.7 C54.7 50.7 57.5 49.8 60 50.7 C64.3 52.2 66.4 55.8 70 58.7 C72.6 60.8 75.4 61.8 77 64.7 C77.6 65.8 76.3 67.9 75 67.7 C70.7 67 67.8 64.8 64 62.7 C60.6 60.8 57.9 59.3 55 56.7 C53.8 55.6 52 53.9 53 52.7 Z" fill="#5196d0"/>
<path d="M-10 78.7 C-10 78.7 5.3 76.7 14 76.7 C21.2 76.7 26.8 78 34 78.7 C41.2 79.4 47 78.8 54 80.7 C60.2 82.4 63.9 86.5 70 88.7 C74.1 90.2 78 88.9 82 90.7 C84.1 91.6 86.6 93.5 86 95.7 C84.8 100.5 81.2 103 78 106.7 C75.4 109.8 72.5 111.5 70 114.7 C66.8 118.8 65.1 122.6 62 126.7 C59.4 130.1 58.1 134.4 54 135.7 C47.1 137.9 41.2 135.3 34 135.7 C26.8 136.1 21.2 137.9 14 137.7 C5.3 137.4 -10 134.3 -10 134.3 C-10 134.3 -10 78.7 -10 78.7 Z" fill="#c5e8fa"/>
<path d="M174 312.7 C174 312.7 181 297 186 288.7 C189.7 282.5 193.6 278.4 198 272.7 C200.8 269 202.3 265.5 206 262.7 C211.2 258.8 216 256.9 222 254.7 C229.7 251.9 236 250.5 244 248.7 C251.1 247.1 256.9 247 264 245.1 C267.8 244.1 270.6 242.6 274 240.7 C278.5 238.2 281.6 235.4 286 232.7 C290.9 229.7 294.8 227.3 300 224.7 C304.9 222.2 309 220.9 314 218.7 C321.2 215.5 326.8 212.9 334 209.7 C344.8 205 364 196.7 364 196.7 C364 196.7 364 312.7 364 312.7 C364 312.7 174 312.7 174 312.7 Z" fill="#86c5eb"/>
<path d="M310 312.7 C310 312.7 310.4 301.4 314 296.7 C315.7 294.4 320.5 294.3 322 296.7 C325.1 301.6 324 312.7 324 312.7 C324 312.7 310 312.7 310 312.7 Z" fill="#c5e8fa"/>
<path d="M-10 24.7 C-10 24.7 -2.8 24.5 1.2 24.1 C5 23.7 8 22.7 11.8 22.3 C16 21.8 19.7 23.3 23.6 21.7 C25.5 20.9 24.2 17.5 26 16.5 C29 14.9 32 15.4 35.4 15.3 C40.9 15.2 45.3 15 50.8 15.9 C56 16.7 60.3 17.4 65 19.9 C66.1 20.5 65.9 22.6 65 23.5 C63 25.5 60.3 25.5 58 27.1 C56.9 27.9 54.8 29 55.6 30.1 C57.3 32.4 60.1 32.7 62.8 33.7 C66.1 34.8 68.8 35.3 72.2 35.9 C75.6 36.5 79.2 34.7 81.6 37.1 C83.1 38.6 79 40 77 40.7 C72.9 42.2 69.3 42.3 65 43.1 C59.9 44 55.9 44.6 50.8 45.5 C46.5 46.3 43.2 46.6 39 47.9 C33.3 49.6 29.1 51.5 23.6 53.7 C19.3 55.4 16.2 57.1 11.8 58.5 C4 61 -10 64.7 -10 64.7 C-10 64.7 -10 24.7 -10 24.7 Z" fill="#4ba483"/>
<path d="M21.8 27.1 C23 25.6 25.1 26 27 26.3 C28.6 26.6 31.8 27.5 30.8 28.7 C29.2 30.6 26.4 30.3 24 29.9 C22.7 29.7 21 28.1 21.8 27.1 Z" fill="#5196d0"/>
<path d="M29.6 11.1 C29.6 8.4 34.3 10.2 37 10.3 C39.9 10.4 45 8.8 45 11.7 C45 14.6 39.9 13.2 37 13.1 C34.2 13 29.6 13.9 29.6 11.1 Z" fill="#86c5eb"/>
<path d="M-10 28.3 C-10 28.3 -2.8 28.2 1.2 28.9 C3.8 29.3 5.9 30 8.2 31.3 C10.7 32.7 11.5 35.6 14.2 36.5 C19.5 38.2 24.1 37.5 29.6 38.3 C34.7 39 40.2 37 43.8 40.7 C46.1 43.1 38.4 43 35.4 44.3 C31.2 46.1 27.9 47.4 23.6 49.1 C19.4 50.8 16.1 52.3 11.8 53.7 C4 56.1 -10 59.7 -10 59.7 C-10 59.7 -10 28.3 -10 28.3 Z" fill="#6bc04b"/>
<path d="M106 40.3 C106 34.5 116.3 40.7 122 41.7 C126.4 42.5 129.5 45 134 45.1 C141.2 45.3 146.8 43.8 154 42.7 C159.1 41.9 162.9 39.3 168 39.7 C173.3 40.1 176.7 43.8 182 44.7 C187.7 45.6 192.5 43.1 198 44.7 C203 46.1 204.8 52.3 210 52.7 C214.8 53.1 217.8 49.1 222 46.7 C226.5 44.1 229.4 41 234 38.7 C239.5 35.9 244.2 34.9 250 32.7 C255.8 30.5 260.3 28.9 266 26.7 C273.2 23.9 278.8 21.6 286 18.7 C293.2 15.8 299.7 15.2 306 10.7 C313 5.6 322 -7.3 322 -7.3 C322 -7.3 364 -7.3 364 -7.3 C364 -7.3 364 164.7 364 164.7 C364 164.7 344.9 177.7 334 184.7 C326.9 189.2 321.5 192.9 314 196.7 C307.1 200.2 301.1 201.5 294 204.7 C286.7 208 281.3 211.4 274 214.7 C266.9 217.9 261.2 219.8 254 222.7 C246.8 225.6 241.2 227.8 234 230.7 C226.8 233.6 220.6 234.7 214 238.7 C209.6 241.3 207 244.6 204 248.7 C201.2 252.6 199.9 256.2 198 260.7 C196.2 264.9 196.2 268.7 194 272.7 C191.8 276.7 189.4 279.6 186 282.7 C182.1 286.2 179 289.2 174 290.7 C167.1 292.9 161.2 292.7 154 292.7 C146.8 292.7 141.2 291.1 134 290.7 C126.8 290.3 121.2 291.4 114 290.7 C106.7 290 100.8 289.4 94 286.7 C87.7 284.2 83.2 281.1 78 276.7 C73 272.4 69.6 268.3 66 262.7 C63 258.1 62.2 253.7 60 248.7 C57.9 244 58.9 237.2 54 235.7 C46.9 233.5 41.2 238.7 34 240.7 C26.8 242.7 21.3 244.9 14 246.7 C5.4 248.8 -10 251.7 -10 251.7 C-10 251.7 -10 141.7 -10 141.7 C-10 141.7 11.7 144.5 24 144.7 C31.2 144.8 36.8 143.6 44 142.7 C50.5 141.8 55.8 141.8 62 139.7 C66.7 138.1 69.9 135.6 74 132.7 C76.5 130.9 77.1 127.5 80 126.7 C82.9 125.9 85.4 127.3 88 128.7 C92 130.9 94.7 133.4 98 136.7 C101.3 140 102.9 143.3 106 146.7 C108.7 149.7 110.6 152.4 114 154.7 C117.2 156.9 120.2 158.2 124 158.7 C129 159.3 133.2 159.3 138 157.7 C142.2 156.3 146.1 154.7 148 150.7 C149.6 147.4 147.2 144.2 146 140.7 C145 137.6 143 135.8 142 132.7 C140.8 129.2 139.7 126.4 140 122.7 C140.4 118.2 142.1 114.8 144 110.7 C146.4 105.4 150 102.2 152 96.7 C153.7 91.9 154.8 87.7 154 82.7 C153.3 78.6 150 76.4 148 72.7 C146.1 69.2 145.3 66 143 62.7 C140.2 58.7 137.8 55.7 134 52.7 C130.1 49.6 126.6 47.7 122 45.7 C116.4 43.2 106 46.4 106 40.3 Z" fill="#4ba483"/>
<path d="M152 88.7 C153.9 84.5 156.3 81.4 160 78.7 C164.4 75.5 168.8 74.4 174 72.7 C179.6 70.8 184.2 69.8 190 68.7 C195.7 67.6 200.3 67.5 206 66.7 C210.3 66.1 213.8 65.9 218 64.7 C221.7 63.7 224.9 63 228 60.7 C230.9 58.5 231.8 55.5 234 52.7 C236.8 49.1 238.3 45.5 242 42.7 C245.7 39.9 249.5 39.1 254 37.7 C261.1 35.5 266.8 34.3 274 32.7 C281.2 31.1 286.7 29.9 294 28.7 C301.2 27.6 306.7 26.3 314 26.3 C318.4 26.3 322 26.8 326 28.7 C329.5 30.3 330.3 34.9 334 35.7 C337.7 36.5 340.5 34 344 32.7 C351.3 30 364 24.7 364 24.7 C364 24.7 364 150.7 364 150.7 C364 150.7 344.4 158.9 334 164.7 C326.3 169 321.4 173.9 314 178.7 C307 183.3 301.4 186.7 294 190.7 C286.9 194.6 281.3 197.4 274 200.7 C266.9 203.9 261.2 205.8 254 208.7 C246.8 211.6 241.2 213.8 234 216.7 C226.8 219.6 220.9 221.2 214 224.7 C209.4 227 205.5 228.8 202 232.7 C198.8 236.3 197.4 240.1 196 244.7 C194.5 249.6 195.1 253.7 194 258.7 C192.9 263.8 192.8 268.3 190 272.7 C187.5 276.6 184.1 278.5 180 280.7 C175.3 283.2 171.3 285.3 166 285.7 C161.6 286 158 284.6 154 282.7 C149.3 280.5 146.3 277.6 142 274.7 C137.7 271.8 134.3 269.6 130 266.7 C125.7 263.8 123.2 258.1 118 258.7 C114.2 259.2 115.6 265.2 114 268.7 C112.7 271.6 113.2 277.3 110 276.7 C105.9 275.9 106 270.4 104 266.7 C101.7 262.5 100 259.1 98 254.7 C96.4 251.2 95.4 248.3 94 244.7 C92.6 241.1 92.2 237.9 90 234.7 C87.7 231.3 85.1 229.4 82 226.7 C79.3 224.3 76.5 223.2 74 220.7 C71.5 218.2 70.7 215 68 212.7 C65.6 210.6 63.2 208.7 60 208.7 C56.1 208.7 53.6 211.3 50 212.7 C44.3 214.9 39.7 216.5 34 218.7 C26.8 221.5 21.4 224.5 14 226.7 C5.5 229.2 -10 231.7 -10 231.7 C-10 231.7 -10 147.7 -10 147.7 C-10 147.7 5.4 148.7 14 148.7 C21.2 148.7 26.8 148.4 34 147.7 C41.2 147 46.9 146.5 54 144.7 C60 143.2 64.6 141.6 70 138.7 C73.4 136.9 74.3 132.6 78 131.7 C81 131 83.5 133 86 134.7 C89.4 137 91.3 139.7 94 142.7 C97.1 146.1 98.7 149.4 102 152.7 C105.3 156 108 158.5 112 160.7 C116 162.9 119.5 164.2 124 164.7 C129.7 165.3 134.5 165.3 140 163.7 C144.8 162.3 148.8 160.6 152 156.7 C154.3 153.9 154.4 150.4 154 146.7 C153.6 142.8 151.9 140.1 150 136.7 C148.3 133.6 145.6 131.9 144 128.7 C142.7 126 141.7 123.7 142 120.7 C142.4 116.8 144.5 114.3 146 110.7 C147.8 106.4 149.8 103.2 151 98.7 C152 95.2 150.5 92 152 88.7 Z" fill="#6bc04b"/>
<path d="M-10 166.7 C-10 166.7 -2.1 164.2 2 165.7 C4.7 166.7 5.8 169.8 6 172.7 C6.2 176.1 5.9 179.9 3 181.7 C-1 184.2 -10 182.7 -10 182.7 C-10 182.7 -10 166.7 -10 166.7 Z" fill="#4ba483"/>
<path d="M146 112.7 C148.1 108 150.7 104.7 154 100.7 C157.2 96.8 160 93.9 164 90.7 C167.3 88.1 170 86 174 84.7 C181 82.4 186.8 82.3 194 80.7 C199.8 79.4 204.3 78.3 210 76.7 C214.4 75.4 218.1 75 222 72.7 C225.5 70.6 227.5 67.9 230 64.7 C232.6 61.4 233 57.7 236 54.7 C239.7 51 243.2 48.6 248 46.7 C253.5 44.6 258.2 44.3 264 43.7 C271.2 42.9 276.8 43.3 284 42.7 C290.5 42.2 295.5 39.8 302 40.7 C306.8 41.3 310.8 43.1 314 46.7 C317 50.1 317.7 54.2 318 58.7 C318.4 63.8 316.7 67.7 316 72.7 C315.2 78.5 314 82.9 314 88.7 C314 94.5 315.3 98.9 316 104.7 C316.7 110.5 318.4 114.9 318 120.7 C317.6 126.6 316.2 131.2 314 136.7 C311.8 142.1 309.5 146.1 306 150.7 C302.3 155.5 298.5 158.6 294 162.7 C289.9 166.5 286.6 169.4 282 172.7 C276.5 176.6 271.9 179.3 266 182.7 C261.8 185.1 258.4 186.8 254 188.7 C246.9 191.8 241.2 193.8 234 196.7 C226.8 199.6 220.9 201.2 214 204.7 C209.4 207 205.9 209.2 202 212.7 C198.6 215.8 196.6 218.9 194 222.7 C191.6 226.1 190.1 229.1 188 232.7 C185.1 237.7 182.8 241.6 180 246.7 C177.7 251 176 254.3 174 258.7 C171.7 263.7 171.1 268.2 168 272.7 C165.9 275.6 163.6 278.7 160 278.7 C155.2 278.7 152.1 275.2 148 272.7 C144.9 270.8 142.9 268.9 140 266.7 C137.1 264.5 135 262.7 132 260.7 C128.5 258.4 125.7 256.7 122 254.7 C119.2 253.1 116.4 252.8 114 250.7 C111.3 248.4 110 245.7 108 242.7 C105.7 239.2 103.6 236.6 102 232.7 C100.6 229.3 99.8 226.4 100 222.7 C100.2 218.9 103.4 216.4 103 212.7 C102.6 209.3 100.7 206.8 98 204.7 C95.6 202.9 92.8 203.7 90 202.7 C87 201.6 85.2 199.1 82 198.7 C79.1 198.3 76.9 201.4 74 200.7 C70.5 199.8 68.8 196.9 66 194.7 C63.8 193 62.8 190.2 60 189.7 C57.6 189.3 56.1 191.5 54 192.7 C50.3 194.8 47.6 196.5 44 198.7 C40.4 200.9 37.9 203.1 34 204.7 C27 207.5 21.3 209 14 210.7 C5.5 212.6 -10 214.7 -10 214.7 C-10 214.7 -10 192.7 -10 192.7 C-10 192.7 1.2 189 6 184.7 C9.6 181.5 9.4 176.8 12 172.7 C14.5 168.8 16.7 166 20 162.7 C23.3 159.4 25.9 156.8 30 154.7 C34.7 152.4 38.9 152.1 44 150.7 C49.7 149.2 54.4 148.7 60 146.7 C64.5 145.1 68 143.4 72 140.7 C74.5 139 75 135.4 78 134.7 C80.3 134.1 82.2 136.1 84 137.7 C87.3 140.5 89.4 143.3 92 146.7 C95.1 150.8 96.3 155 100 158.7 C103 161.7 106.1 163.2 110 164.7 C114.8 166.5 118.9 167.3 124 167.7 C129 168.1 133.1 167.8 138 166.7 C144 165.3 149.2 164.5 154 160.7 C157 158.3 158 154.6 158 150.7 C158 146.8 155.7 144.2 154 140.7 C152.1 136.9 150 134.4 148 130.7 C146.4 127.9 144.4 125.9 144 122.7 C143.6 119.1 144.5 116 146 112.7 Z" fill="#dbdf5a"/>
<path d="M48 157.7 C52 156.1 55.8 156.1 60 157.1 C61.3 157.4 62.2 160.2 61 160.7 C57.3 162.2 53.9 162 50 161.1 C48.6 160.8 46.7 158.2 48 157.7 Z" fill="#6bc04b"/>
<path d="M68 158.7 C70.1 157.3 72.6 157.4 75 158.3 C76.2 158.7 77.1 161 76 161.7 C73.9 163.1 71.4 163 69 162.1 C67.8 161.7 66.9 159.4 68 158.7 Z" fill="#6bc04b"/>
<path d="M92 196.7 C92.2 195.6 94.2 194.9 95 195.7 C96.4 197 96.7 198.9 96.4 200.7 C96.2 202 94.6 204 93.6 203.1 C91.8 201.5 91.6 199 92 196.7 Z" fill="#4ba483"/>
<path d="M148 114.7 C151.2 110.7 154 107.9 158 104.7 C161.3 102.1 164 100.1 168 98.7 C174.3 96.5 179.5 96.2 186 94.7 C191.8 93.3 196.2 92.1 202 90.7 C207.8 89.3 212.5 89 218 86.7 C221.3 85.3 223.6 83.4 226 80.7 C228.8 77.5 229.6 74.1 232 70.7 C234.6 66.9 236.3 63.4 240 60.7 C244.4 57.5 248.7 56 254 54.7 C257.5 53.8 260.5 54 264 54.7 C267.8 55.5 271.1 56.1 274 58.7 C277.2 61.5 278.3 64.9 280 68.7 C281.9 72.8 282.2 76.5 284 80.7 C285.9 85.2 287.8 88.4 290 92.7 C292.2 97 294.4 100.2 296 104.7 C298 110.3 299.3 114.8 300 120.7 C300.7 126.4 301.1 131.1 300 136.7 C298.9 142.1 296.6 145.9 294 150.7 C291.5 155.3 289.5 158.9 286 162.7 C282.2 166.9 278.8 169.7 274 172.7 C267.2 177 261.3 179.4 254 182.7 C246.9 185.9 241.2 187.8 234 190.7 C226.8 193.6 221 195.4 214 198.7 C208.7 201.2 204.7 203.3 200 206.7 C196.7 209.1 194.7 211.7 192 214.7 C188.9 218.1 187.1 221.3 184 224.7 C180.6 228.5 177 230.6 174 234.7 C171.2 238.6 169.9 242.2 168 246.7 C166.2 250.9 167.2 255.5 164 258.7 C161.4 261.3 157.5 261.8 154 260.7 C149.6 259.4 147.3 256 144 252.7 C140.7 249.4 139 246.2 136 242.7 C134 240.4 132.9 235.9 130 236.7 C125.6 238 126.6 246.1 122 246.7 C118 247.2 116.3 242.1 114 238.7 C111.8 235.5 110 232.6 110 228.7 C110 224.1 114.5 221.2 114 216.7 C113.6 213.1 109.6 211.9 108 208.7 C106 204.6 104.4 201.2 104 196.7 C103.6 192.3 104 188.6 106 184.7 C107.8 181.1 110.6 179 114 176.7 C117.2 174.5 120.2 173.5 124 172.7 C128.9 171.7 133.1 172.8 138 171.7 C143.2 170.6 147.3 169.2 152 166.7 C156.1 164.5 160.1 162.9 162 158.7 C163.5 155.3 161.6 152 160 148.7 C157.9 144.6 154.6 142.5 152 138.7 C149.6 135.3 147.5 132.6 146 128.7 C144.9 126 144.6 123.6 145 120.7 C145.3 118.3 146.5 116.6 148 114.7 Z" fill="#f9b146"/>
<path d="M254 69.7 C255.2 67.7 257.6 67.1 260 67.1 C262.4 67.1 265.1 67.5 266 69.7 C266.8 71.5 264.8 73.6 263 74.3 C260.7 75.2 258.3 74.9 256 73.7 C254.6 73 253.2 71.1 254 69.7 Z" fill="#dbdf5a"/>
<path d="M267 139.7 C268.3 137.7 270.6 136.2 273 136.7 C275.3 137.2 277 139.4 277 141.7 C277 143.7 274.9 145.1 273 145.7 C271.3 146.3 269.3 146 268 144.7 C266.7 143.4 266 141.3 267 139.7 Z" fill="#dbdf5a"/>
<path d="M154 221.7 C154.3 219.5 157.9 219.7 160 220.3 C162.1 220.9 164.3 222.6 164 224.7 C163.7 226.7 160.9 227.7 159 227.1 C156.5 226.3 153.6 224.3 154 221.7 Z" fill="#dbdf5a"/>
<path d="M66 144.7 C66 140.8 67.5 137.6 70 134.7 C72.1 132.3 74.8 130.7 78 130.7 C81.2 130.7 83.7 132.4 86 134.7 C89 137.7 91.1 140.6 92 144.7 C92.6 147.6 92.3 150.8 90 152.7 C87.2 155.1 83.7 154.7 80 154.7 C76.3 154.7 73 154.8 70 152.7 C67.4 150.8 66 147.9 66 144.7 Z" fill="#f9b146"/>
<path d="M69 144.7 C69.2 141.5 70.8 139.1 73 136.7 C74.6 134.9 76.6 133.5 79 133.7 C81.3 133.9 82.8 135.8 84 137.7 C85.4 139.9 86.9 142.2 86 144.7 C85.1 147.1 82.4 147.8 80 148.7 C77.3 149.7 74.7 150.7 72 149.7 C70 149 68.8 146.8 69 144.7 Z" fill="#f3672c"/>
<path d="M73 141.7 C73.5 139.7 75 138.1 77 137.7 C78.9 137.3 81.2 137.9 82 139.7 C82.8 141.5 81.5 143.4 80 144.7 C78.6 145.9 76.7 146.4 75 145.7 C73.5 145.1 72.6 143.3 73 141.7 Z" fill="#e03828"/>
<path d="M42 150.7 C44.9 147.3 49.6 147.9 54 147.7 C58.4 147.5 62.9 146.6 66 149.7 C67.8 151.5 62.5 153 60 153.7 C55.8 154.9 52.3 155.4 48 154.7 C45.4 154.3 40.3 152.7 42 150.7 Z" fill="#f9b146"/>
<path d="M70 178.7 C71.4 175.7 73.1 173.3 76 171.7 C78.5 170.3 81.2 169.8 84 170.7 C87.4 171.8 90.7 173.3 92 176.7 C93.3 180.1 91.9 183.6 90 186.7 C88.1 189.8 85.5 191.8 82 192.7 C79.1 193.4 76.5 192.3 74 190.7 C71.8 189.3 70.8 187.2 70 184.7 C69.3 182.7 69.1 180.7 70 178.7 Z" fill="#f9b146"/>
<path d="M73 178.7 C74.4 176.3 76.3 174.3 79 173.7 C81.6 173.1 85.2 173.2 86 175.7 C86.9 178.8 84.1 181.2 82 183.7 C80.3 185.7 78.6 187.7 76 187.7 C74.2 187.7 73.6 185.4 73 183.7 C72.4 182 72.1 180.2 73 178.7 Z" fill="#f3672c"/>
<path d="M149 116.7 C152.4 112.5 155.4 109.4 160 106.7 C164.6 104.1 168.7 102.1 174 102.3 C178.1 102.5 180.5 105.7 184 107.7 C186.9 109.4 188.7 111.9 192 112.7 C196.9 113.8 201.8 115.5 206 112.7 C209.8 110.2 207.7 104.6 210 100.7 C212.1 97.2 214.5 94.8 218 92.7 C221.9 90.4 225.4 88.7 230 88.7 C235.9 88.7 240.3 91.1 246 92.7 C250.4 94 253.8 94.9 258 96.7 C263.9 99.2 268.4 101.5 274 104.7 C277.1 106.5 280.1 107.6 282 110.7 C283.9 113.8 284 117 284 120.7 C284 125.1 282 128.3 282 132.7 C282 137.1 283.1 140.4 284 144.7 C284.6 147.6 286.9 149.9 286 152.7 C284.5 157.1 281.4 159.6 278 162.7 C274.1 166.2 270.5 168.1 266 170.7 C261.8 173.1 258.3 174.5 254 176.7 C248.2 179.6 243.9 182.1 238 184.7 C232.4 187.2 227.6 188.2 222 190.7 C216.1 193.3 211.6 195.5 206 198.7 C201.5 201.3 198.3 203.8 194 206.7 C189.7 209.6 186.6 212.4 182 214.7 C177.9 216.7 174.5 218.4 170 218.7 C164.2 219.1 159.7 215.7 154 216.7 C151 217.2 151 222 148 222.7 C144.4 223.6 141.2 222.5 138 220.7 C134.4 218.7 133.5 214.9 130 212.7 C127.5 211.1 124.7 212 122 210.7 C118.8 209.1 115.6 207.9 114 204.7 C112.4 201.5 112.9 198.1 114 194.7 C115.1 191.3 117.1 188.9 120 186.7 C123.1 184.4 126.4 184 130 182.7 C134.3 181.1 137.6 179.8 142 178.7 C146.2 177.6 149.7 177.2 154 176.7 C156.4 176.4 158.3 177.1 160.6 176.5 C162.8 175.9 165.6 175.6 166.2 173.3 C166.8 171 163 170.1 162.8 167.7 C162.6 164.8 164.3 162.7 165.2 159.9 C165.6 158.7 166.2 157.8 166.2 156.5 C166.2 154.1 166.3 152 165.2 149.9 C164.2 147.9 162.3 147 160.6 145.5 C158.7 143.8 157.1 142.8 155.2 141.1 C153.1 139.2 151.3 137.8 149.6 135.5 C147.3 132.5 144.1 130.3 144 126.5 C143.9 122.5 146.5 119.8 149 116.7 Z" fill="#f3672c"/>
<path d="M238 110.7 C239 108.5 241.6 107.5 244 107.7 C246.3 107.9 248.5 109.4 249 111.7 C249.5 114.1 248.1 116.5 246 117.7 C244.1 118.8 241.6 118.1 240 116.7 C238.3 115.2 237.1 112.8 238 110.7 Z" fill="#f9b146"/>
<path d="M258 122.7 C258.8 120.9 261.4 119.5 263 120.7 C265.5 122.5 266.2 125.6 266 128.7 C265.8 131 264.2 133.1 262 133.7 C260.4 134.1 259 132.3 258.4 130.7 C257.4 128 256.8 125.3 258 122.7 Z" fill="#f9b146"/>
<path d="M142.3 121 C142.1 117.9 144.3 115.7 146.2 113.3 C148.2 110.8 150.1 109.2 152.9 107.7 C155.8 106.1 158.5 105.3 161.8 104.9 C165 104.5 167.6 104.7 170.7 105.5 C173.3 106.1 175.2 107.1 177.3 108.8 C179.3 110.4 180.7 112 181.8 114.4 C182.8 116.6 181.9 118.8 182.9 121 C183.6 122.6 184.7 123.5 186.2 124.4 C188.4 125.6 190.4 126.6 192.9 126.6 C196.2 126.6 198.7 125.7 201.8 124.4 C204.4 123.2 206.2 121.7 208.4 119.9 C210.2 118.5 211 116.7 212.9 115.5 C214.7 114.4 216.4 113.9 218.4 113.8 C221.3 113.7 223.5 114.3 226.2 114.9 C229.5 115.7 232 116.4 235.1 117.7 C238.4 119 241 120.2 244 122.1 C247.1 124.2 249.4 126 251.8 128.8 C253.5 130.9 254.9 132.8 255.1 135.5 C255.3 138 254.2 140 252.9 142.1 C251.4 144.5 249 145.4 247.3 147.7 C245.8 149.9 245.4 152.1 244 154.4 C242.6 156.5 240.3 157.5 239.6 159.9 C238.6 163.4 240.9 166.6 239.6 169.9 C238.3 173.1 235.6 174.6 232.9 176.6 C230.7 178.2 228.5 178.5 226.2 179.9 C223.3 181.7 221.3 183.6 218.4 185.5 C215.7 187.2 213.5 188.4 210.7 189.9 C207.5 191.6 204.9 192.6 201.8 194.4 C199.3 195.8 197.4 197 195.1 198.8 C193.3 200.2 192.3 201.7 190.7 203.3 C189.1 204.9 188.1 206.4 186.2 207.7 C184 209.2 182.1 210.2 179.6 211 C176.9 211.9 174.6 212.6 171.8 212.1 C169.5 211.8 168.3 209.8 166.2 208.8 C163.1 207.4 160.7 205.7 157.3 205.5 C154.8 205.3 153.1 207.2 150.7 207.7 C147.5 208.4 145 209 141.8 208.8 C138.5 208.6 135.9 208 132.9 206.6 C130.6 205.5 128.6 204.4 127.3 202.1 C126 199.7 125.6 197.1 126.2 194.4 C126.9 191.6 128.3 189.3 130.7 187.7 C133.4 185.9 136.3 186.2 139.6 185.5 C143.5 184.6 146.8 184.4 150.7 183.3 C154.8 182 157.8 180.6 161.8 178.8 C165 177.4 167.4 175.9 170.7 174.4 C172.6 173.5 174.2 172.9 176.2 172.1 C178.2 171.3 180 171.1 181.8 169.9 C183.7 168.7 184.6 167.1 186.2 165.5 C187.4 164.3 188.8 163.7 189.6 162.1 C190.5 160.3 190.7 158.6 190.7 156.6 C190.7 154.2 190.5 152.2 189.6 149.9 C188.8 148.1 187.9 146.6 186.2 145.5 C184.1 144.1 182.1 143.6 179.6 143.3 C176.8 142.8 174.5 143.7 171.8 143.3 C168.9 142.8 166.7 142.1 164 141 C161.5 140.1 159.7 139 157.3 137.7 C155.3 136.6 153.5 135.9 151.8 134.4 C149.9 132.7 148.8 130.9 147.3 128.8 C145.4 126.1 142.6 124.4 142.3 121 Z" fill="#e03828"/>
<path d="M194 153.3 C194.9 151.5 196.5 150.4 198.4 149.9 C200 149.5 201.7 149.9 202.9 151 C204.1 152.2 204.7 154 204 155.5 C203.2 157.2 201.4 158 199.6 158.3 C197.9 158.5 196.4 157.7 195.1 156.6 C194.2 155.7 193.4 154.4 194 153.3 Z" fill="#f3672c"/>
<path d="M224 154.4 C224.8 152.5 225.4 150.2 227.3 149.9 C229.5 149.6 231.2 151.4 232.3 153.3 C233.2 154.6 233.2 156.4 232.3 157.7 C231.2 159.4 229.4 160.5 227.3 160.5 C225.8 160.5 224.7 159.1 224 157.7 C223.4 156.6 223.5 155.5 224 154.4 Z" fill="#f3672c"/>
<path d="M228.4 128.8 C229.3 126.5 231.6 125.5 234 124.9 C236 124.4 238.1 124.7 239.6 126 C240.9 127.3 241.5 129.4 240.7 131 C239.6 133.4 237.6 134.8 235.1 135.5 C233.5 135.9 231.9 135 230.7 133.8 C229.3 132.4 227.8 130.7 228.4 128.8 Z" fill="#f3672c"/>
<path d="M238.4 111 C239.5 109.3 240.9 107.7 242.9 107.7 C245.2 107.7 247.1 109.1 248.4 111 C249.4 112.3 249.5 114.3 248.4 115.5 C247 117 245 117.4 242.9 117.1 C241.2 116.9 240 115.8 239 114.4 C238.3 113.4 237.8 112.1 238.4 111 Z" fill="#f9b146"/>
<path d="M147.9 124.4 C147.7 122.1 149.2 120.5 150.7 118.8 C152.7 116.4 154.6 114.8 157.3 113.3 C159.9 111.8 162.2 110.8 165.1 110.5 C167.9 110.2 170.4 110.2 172.9 111.6 C174.8 112.6 175.6 114.5 176.2 116.6 C176.9 118.9 176.8 120.9 176.2 123.3 C175.6 125.9 174.6 127.8 172.9 129.9 C170.9 132.3 169.1 134.2 166.2 135.5 C163.7 136.7 161.2 137.2 158.4 136.6 C155.6 135.9 153.7 134.3 151.8 132.1 C149.7 129.8 148.1 127.5 147.9 124.4 Z" fill="#be1b26"/>
<path d="M156.2 132.1 C156.5 129.5 157.9 127.6 159.6 125.5 C161.2 123.3 162.8 121.9 165.1 120.5 C166.5 119.6 168.1 118.6 169.6 119.4 C170.9 120 170.8 121.8 170.7 123.3 C170.4 125.4 169.8 127.1 168.4 128.8 C166.9 130.8 165.1 131.9 162.9 133.3 C161.4 134.1 160.1 135.2 158.4 134.9 C157.2 134.7 156.1 133.4 156.2 132.1 Z" fill="#8f161b"/>
<path d="M207.3 131 C207.3 128.8 209.8 127.6 211.8 126.6 C213.6 125.7 215.5 125.1 217.3 126 C219.3 127 219.7 129.1 220.7 131 C221.8 133.3 222.5 135.2 222.9 137.7 C223.3 140.5 223.3 142.7 222.9 145.5 C222.5 148.4 222.3 150.9 220.7 153.3 C219.7 154.7 217.9 155.1 216.2 154.9 C214.3 154.7 213.1 153.5 211.8 152.1 C210.6 150.8 209.6 149.5 209.6 147.7 C209.6 145.5 211.4 144.3 211.8 142.1 C212.2 140.2 212.5 138.4 211.8 136.6 C210.8 134.2 207.3 133.6 207.3 131 Z" fill="#be1b26"/>
<path d="M190.7 165.5 C192.3 164.1 194.1 163.3 196.2 163.3 C198.4 163.3 200.1 164.1 201.8 165.5 C203.1 166.6 202.5 169 204 169.9 C206.1 171.2 208.2 171 210.7 171 C213.5 171 215.7 169.5 218.4 169.9 C220.7 170.3 222.5 171.5 224 173.3 C225.4 174.9 226.7 176.7 226.2 178.8 C225.7 180.8 223.6 181.3 221.8 182.1 C218.7 183.7 216.1 184.3 212.9 185.5 C209.7 186.7 207.1 187.3 204 188.8 C201.4 190.1 199.6 191.5 197.3 193.3 C195.6 194.7 194.5 196.1 192.9 197.7 C190.9 199.7 189.7 201.6 187.3 203.3 C185.6 204.5 183.9 205.3 181.8 205.5 C179.4 205.7 177.3 205.5 175.1 204.4 C173.1 203.4 172.5 201.3 170.7 199.9 C169.2 198.8 168 197.9 166.2 197.7 C164.2 197.5 162.7 199 160.7 198.8 C158.5 198.6 156.8 197.9 155.1 196.6 C153.5 195.4 152.2 194.1 151.8 192.1 C151.3 190.2 151.7 188.2 152.9 186.6 C153.9 185.1 155.5 184.4 157.3 184.4 C159.9 184.4 161.7 185.6 164 186.6 C166.5 187.6 168 189.7 170.7 189.9 C173.2 190.1 175.2 189 177.3 187.7 C179.3 186.5 181.1 185.4 181.8 183.3 C182.4 181.3 180.2 179.7 180.7 177.7 C181.1 175.7 182.6 174.7 184 173.3 C185.4 171.8 187.1 171.4 188.4 169.9 C189.6 168.6 189.3 166.6 190.7 165.5 Z" fill="#be1b26"/>
<path d="M134.6 199.9 C135 197.7 135.9 196.1 137.3 194.4 C138.6 192.9 139.9 191.7 141.8 191.6 C142.9 191.5 143.9 192.7 144 193.8 C144.1 195.7 143.3 197.2 142.3 198.8 C141.2 200.8 140.3 202.5 138.4 203.8 C137.6 204.4 136.4 204 135.7 203.3 C134.8 202.4 134.3 201.2 134.6 199.9 Z" fill="#be1b26"/>
<path d="M186.2 116.6 C185.9 114.6 186.4 112.9 187.3 111 C188.1 109.5 189.1 108.4 190.7 107.7 C192.9 106.7 194.9 106.5 197.3 106.6 C199.8 106.7 202 106.8 204 108.3 C205.7 109.4 206.5 111.2 206.8 113.3 C207.1 115.3 206.6 117 205.7 118.8 C204.7 120.6 203.5 121.7 201.8 122.7 C199.6 124 197.6 124.8 195.1 124.9 C193 125 191.1 124.7 189.6 123.3 C187.6 121.4 186.7 119.2 186.2 116.6 Z" fill="#f9b146"/>
<path d="M185.7 106 C186 104 188.7 103.7 190.7 103.3 C193 102.7 195 102.9 197.3 103.3 C199.8 103.7 202 103.9 204 105.5 C205.3 106.5 206.2 108.3 205.7 109.9 C205.2 111.6 203.5 112.4 201.8 112.7 C199.4 113.1 197.5 112.1 195.1 111.6 C193.1 111.1 191.4 111 189.6 109.9 C187.8 108.9 185.3 108 185.7 106 Z" fill="#dbdf5a"/>
<rect x="55.1" y="163.6" width="133.8" height="122.7" fill="none" stroke="#ff0000" stroke-width="3.9"/>
<use href="#coast"/>
</g>
<rect x="0" y="0" width="354.8" height="302.5" fill="none" stroke="#000" stroke-width="2.15"/>
<text transform="translate(-61.65 293.20) scale(1.0100 1)" font-size="18.70">10°N</text>
<text transform="translate(-61.65 252.30) scale(1.0100 1)" font-size="18.70">15°N</text>
<text transform="translate(-61.65 211.40) scale(1.0100 1)" font-size="18.70">20°N</text>
<text transform="translate(-61.65 170.50) scale(1.0100 1)" font-size="18.70">25°N</text>
<text transform="translate(-61.65 129.60) scale(1.0100 1)" font-size="18.70">30°N</text>
<text transform="translate(-61.65 88.70) scale(1.0100 1)" font-size="18.70">35°N</text>
<text transform="translate(-61.65 47.80) scale(1.0100 1)" font-size="18.70">40°N</text>
<text transform="translate(-61.65 6.90) scale(1.0100 1)" font-size="18.70">45°N</text>
<text transform="translate(18.72 338.90) scale(1.0100 1)" font-size="18.70">90°E</text>
<text transform="translate(91.92 338.90) scale(1.0100 1)" font-size="18.70">100°E</text>
<text transform="translate(171.30 338.90) scale(1.0100 1)" font-size="18.70">110°E</text>
<text transform="translate(249.32 338.90) scale(1.0100 1)" font-size="18.70">120°E</text>
<text transform="translate(328.02 338.90) scale(1.0100 1)" font-size="18.70">130°E</text>
<path d="M-9.2 286.3 H0 M-9.2 245.4 H0 M-9.2 204.5 H0 M-9.2 163.6 H0 M-9.2 122.7 H0 M-9.2 81.8 H0 M-9.2 40.9 H0 M-9.2 0 H0 M39.4 302.5 v9.2 M118 302.5 v9.2 M196.8 302.5 v9.2 M275.4 302.5 v9.2 M354.1 302.5 v9.2" stroke="#000" stroke-width="1.95" fill="none"/>
<text transform="translate(3.63 -23.60) scale(0.9986 1)" font-size="39.60">(a)</text>
<text transform="translate(146.31 -23.60) scale(0.9822 1)" font-size="40.60">Mar</text>
</g>
<g transform="translate(516 52.3)">
<g clip-path="url(#pc)">
<rect x="0" y="0" width="354.8" height="302.5" fill="#5196d0"/>
<path d="M76 -7.3 C76 -7.3 79.6 1.2 84 2.7 C94.3 6.2 103.1 5.5 114 5.7 C122.7 5.9 129.4 4.5 138 3.7 C145.9 3 152.1 2.8 160 1.7 C165.1 1 174 -1.3 174 -1.3 C174 -1.3 174 -7.3 174 -7.3 C174 -7.3 76 -7.3 76 -7.3 Z" fill="#86c5eb"/>
<path d="M142 11.7 C145.1 8.6 149.7 9.9 154 8.7 C158.4 7.4 161.5 5 166 4.7 C168.1 4.6 171.9 5.8 171 7.7 C169.4 11.3 165.7 12.6 162 13.7 C157.2 15.2 153 15.2 148 14.7 C145.6 14.5 140.3 13.4 142 11.7 Z" fill="#86c5eb"/>
<path d="M194 -7.3 C194 -7.3 199.2 1.1 204 2.7 C210.9 4.9 216.8 2.7 224 2.3 C231.2 1.9 237.1 2.9 244 0.7 C248.4 -0.7 254 -7.3 254 -7.3 C254 -7.3 194 -7.3 194 -7.3 Z" fill="#86c5eb"/>
<path d="M-10 61.7 C-10 61.7 5.3 59.7 14 59.7 C21.2 59.7 26.9 60.5 34 61.7 C41.3 63 46.8 65.1 54 66.7 C61.2 68.3 66.7 69.5 74 70.7 C82.6 72.1 89.3 74.6 98 73.7 C101 73.4 103.5 70.7 104 67.7 C104.4 64.8 102.5 62.1 100 60.7 C94.8 57.8 89.4 59.2 84 56.7 C81.2 55.4 78 53.8 78 50.7 C78 48.1 81.4 47.1 84 46.7 C89.7 45.9 94.3 46.6 100 47.7 C105.2 48.7 109.4 49.9 114 52.7 C116.2 54.1 118 56.1 118 58.7 C118 61.3 113.3 62.2 114 64.7 C115.1 68.6 118.8 70.2 122 72.7 C126.1 75.9 129.9 77.5 134 80.7 C137.2 83.2 139.6 85.4 142 88.7 C143.9 91.3 146 93.5 146 96.7 C146 101.3 143.6 104.4 142 108.7 C140.4 113.1 138.5 116.3 137 120.7 C135.6 124.9 135.2 128.4 134 132.7 C132.7 137.1 132.6 140.9 130 144.7 C128.4 147.1 125.9 149.1 123 148.7 C119.1 148.2 116.8 145.4 114 142.7 C110.6 139.5 109.5 135.7 106 132.7 C102.2 129.5 98.8 127.2 94 125.7 C89.2 124.2 84.9 123.3 80 124.7 C75.6 126 73.8 130.1 70 132.7 C65.9 135.5 62.9 138.5 58 139.7 C49.6 141.8 42.7 141.5 34 141.7 C26.8 141.9 21.2 141.6 14 140.7 C5.3 139.6 -10 136.3 -10 136.3 C-10 136.3 -10 61.7 -10 61.7 Z" fill="#86c5eb"/>
<path d="M-10 118.7 C-10 118.7 0.3 118.9 6 119.7 C10 120.2 17 118.2 17 122.3 C17 126.3 10 123.9 6 124.3 C0.3 124.9 -10 125.1 -10 125.1 C-10 125.1 -10 118.7 -10 118.7 Z" fill="#c5e8fa"/>
<path d="M-10 268.7 C-10 268.7 5.4 266.9 14 267.7 C21.4 268.4 26.9 270.4 34 272.7 C41.4 275.1 46.8 277.8 54 280.7 C61.2 283.6 66.8 285.7 74 288.7 C79.1 290.8 82.8 292.9 88 294.7 C92.9 296.5 96.8 299.1 102 298.7 C106.8 298.3 109.5 294.5 114 292.7 C116.8 291.6 119.1 291.1 122 290.7 C129.9 289.6 136.1 288.5 144 288.7 C149.2 288.8 152.9 291 158 291.7 C163.7 292.5 168.3 293.8 174 292.7 C178.1 291.9 180.7 289.3 184 286.7 C188 283.5 191.4 281.1 194 276.7 C196.6 272.2 196.4 267.7 198 262.7 C199 259.6 199.3 256.8 201.4 254.3 C204 251.2 207 249.6 210.6 247.7 C214.3 245.8 217.3 244.4 221.4 243.7 C227.1 242.7 231.7 242.6 237.4 243.1 C242.3 243.5 245.9 244.8 250.6 246.3 C255.5 247.9 259.1 250.1 264 251.7 C267.7 252.9 270.7 254.9 274.6 254.3 C277.3 253.9 278.7 251.4 280 249.1 C283.1 243.7 283.8 238.7 286.6 233.1 C288.7 229 290.4 225.8 293.4 222.3 C295.8 219.5 298.3 217.7 301.4 215.7 C305 213.4 308.1 212 312 210.3 C316.7 208.2 320.5 206.8 325.4 205.1 C330.1 203.5 333.8 202.5 338.6 201.1 C347.7 198.4 364 193.7 364 193.7 C364 193.7 364 312.7 364 312.7 C364 312.7 -10 312.7 -10 312.7 C-10 312.7 -10 268.7 -10 268.7 Z" fill="#86c5eb"/>
<path d="M311 312.7 C311 312.7 309.9 302.2 313 297.7 C314.8 295 320.1 294.1 322 296.7 C325.4 301.4 324 312.7 324 312.7 C324 312.7 311 312.7 311 312.7 Z" fill="#c5e8fa"/>
<path d="M-10 -7.3 C-10 -7.3 32 -7.3 32 -7.3 C32 -7.3 31.2 1.5 28 4.7 C24.1 8.6 19.4 9.6 14 10.7 C5.5 12.5 -10 12.7 -10 12.7 C-10 12.7 -10 -7.3 -10 -7.3 Z" fill="#4ba483"/>
<path d="M-10 20.7 C-10 20.7 5.5 19.4 14 17.7 C18.5 16.8 21.5 14.4 26 13.7 C32.4 12.6 37.5 12.5 44 12.7 C51.2 12.9 57.1 12.7 64 14.7 C69.6 16.3 74.4 18.2 78 22.7 C79.6 24.7 73.7 28.4 76 29.7 C81.7 32.9 87.5 32 94 31.7 C101.3 31.3 106.7 28.2 114 27.7 C121.2 27.2 126.9 27.4 134 28.7 C137.2 29.3 139 31.5 142 32.7 C145.5 34.1 148.3 36.2 152 35.7 C154.8 35.4 155.2 31.2 158 30.7 C163.7 29.7 168.3 30.9 174 31.7 C181.3 32.7 186.8 34.3 194 35.7 C201.2 37.1 206.7 39.5 214 39.7 C221.3 39.9 226.9 38.3 234 36.7 C241.3 35 246.8 32.9 254 30.7 C257.6 29.6 260.5 29.1 264 27.7 C267.7 26.2 270.5 24.6 274 22.7 C277.7 20.7 280.6 19.1 284 16.7 C287.8 14.1 291 12.2 294 8.7 C298.3 3.5 304 -7.3 304 -7.3 C304 -7.3 364 -7.3 364 -7.3 C364 -7.3 364 162.7 364 162.7 C364 162.7 345.3 176.4 334 182.7 C327.2 186.5 321.3 188.1 314 190.7 C306.9 193.2 301.1 194.2 294 196.7 C286.7 199.3 281.2 201.8 274 204.7 C266.8 207.6 261.3 210.1 254 212.7 C246.9 215.2 241.2 216.5 234 218.7 C226.8 220.9 221 221.8 214 224.7 C208.6 226.9 204.1 228.6 200 232.7 C197.3 235.4 196.9 238.9 196 242.7 C194.8 247.6 195 251.7 194 256.7 C192.8 262.5 193 267.6 190 272.7 C187.7 276.7 184 278.4 180 280.7 C175.3 283.5 171.3 285.5 166 286.7 C161.8 287.7 158.1 287.9 154 286.7 C150.6 285.7 148.7 283.1 146 280.7 C142.9 278 140.9 275.6 138 272.7 C135.8 270.5 134.4 268.6 132 266.7 C128.6 263.9 126.2 261.1 122 259.7 C119.2 258.8 115.8 258.4 114 260.7 C111.3 264.2 113.3 268.5 112 272.7 C111.1 275.8 111.2 280.7 108 280.7 C104.6 280.7 104.5 275.7 103 272.7 C100.9 268.5 100.1 264.9 98 260.7 C96.1 256.9 94.8 253.8 92 250.7 C88.9 247.3 85.8 245.3 82 242.7 C77.9 239.9 74.5 237.9 70 235.7 C64.4 232.9 60.2 229.6 54 228.7 C46.8 227.7 41.1 229.5 34 230.7 C26.7 232 21.2 233.8 14 235.7 C5.3 238 -10 242.3 -10 242.3 C-10 242.3 -10 139.7 -10 139.7 C-10 139.7 5.3 142.2 14 143.1 C21.2 143.8 26.8 144.2 34 144.1 C42.7 143.9 49.6 144.3 58 142.3 C62.8 141.2 65.9 138.4 70 135.7 C73.8 133.2 75.5 128.6 80 127.7 C85 126.6 89.6 128.1 94 130.7 C98 133 99.3 137 102 140.7 C105.1 144.9 106.1 149.2 110 152.7 C113.6 155.9 117.3 157.5 122 158.7 C127.6 160.1 132.4 160.9 138 159.7 C142.9 158.7 147.7 157.1 150 152.7 C152 148.8 149.3 144.9 148 140.7 C146.8 136.9 144.3 134.5 143 130.7 C141.8 127.2 140.5 124.3 141 120.7 C141.6 116.1 144.2 113 146 108.7 C148.1 103.7 150.8 100 152 94.7 C153 90.5 153.5 86.8 152 82.7 C150.4 78.4 147 76.2 144 72.7 C142 70.4 140.2 68.9 138 66.7 C135.1 63.8 132.9 61.6 130 58.7 C127.1 55.8 125.1 53.4 122 50.7 C119.3 48.3 117.4 46 114 44.7 C108.5 42.6 103.8 42.4 98 41.7 C92.3 41 87.8 40.5 82 40.7 C79 40.8 76.9 42 74 42.7 C66.8 44.5 61.2 45.9 54 47.7 C46.8 49.5 41.2 50.7 34 52.7 C26.8 54.7 21.3 57 14 58.7 C5.5 60.7 -10 63.1 -10 63.1 C-10 63.1 -10 20.7 -10 20.7 Z" fill="#4ba483"/>
<path d="M-10 22.7 C-10 22.7 5.4 21.4 14 20.7 C19 20.3 23 20 28 19.7 C33.8 19.3 38.3 18 44 18.7 C47.9 19.1 50.8 20.5 54 22.7 C58.2 25.6 61.8 28.1 64 32.7 C65.1 35.1 64.2 38.4 62 39.7 C56.2 43.2 50.4 42.5 44 44.7 C36.7 47.2 31.3 50.1 24 52.7 C16.9 55.2 11.2 56.7 4 58.7 C-1 60.1 -10 62.1 -10 62.1 C-10 62.1 -10 22.7 -10 22.7 Z" fill="#6bc04b"/>
<path d="M28 22.7 C30.3 20.8 33 20.7 36 20.7 C39 20.7 44 19.7 44 22.7 C44 25.9 39.1 26 36 26.7 C33.9 27.2 32 26.7 30 25.7 C28.8 25.1 27 23.5 28 22.7 Z" fill="#4ba483"/>
<path d="M31 23.1 C31.2 21.3 34.1 21.9 36 21.9 C37.5 21.9 40.2 21.6 40 23.1 C39.8 24.8 37.3 25.1 35.6 25.1 C33.8 25.1 30.8 24.9 31 23.1 Z" fill="#6bc04b"/>
<path d="M-10 29.7 C-10 29.7 5.4 29.7 14 30.7 C21.3 31.5 27 32.6 34 34.7 C37.9 35.9 45.4 35.9 44 39.7 C42.1 44.9 35 43.5 30 45.7 C24.2 48.2 19.9 50.6 14 52.7 C5.5 55.8 -10 60.1 -10 60.1 C-10 60.1 -10 29.7 -10 29.7 Z" fill="#dbdf5a"/>
<path d="M4 50.7 C6.6 47.6 10.1 46.8 14 45.7 C18.2 44.5 22.9 41.2 26 44.3 C28.5 46.8 21.1 48.2 18 49.7 C14.6 51.3 11.7 52.4 8 52.7 C6.4 52.8 3 51.9 4 50.7 Z" fill="#f9b146"/>
<path d="M152 92.7 C154.1 88.6 156.5 85.7 160 82.7 C161.7 81.2 164 81.8 166 80.7 C170.5 78.2 173.4 75 178 72.7 C183.5 69.9 188.4 69.3 194 66.7 C197.8 64.9 199.8 61 204 60.7 C209.2 60.3 213 66.2 218 64.7 C223.8 62.9 225.7 57 230 52.7 C233.6 49.1 235.8 45.5 240 42.7 C244.6 39.7 248.9 38.6 254 36.7 C257.5 35.4 260.4 34.8 264 33.7 C267.6 32.6 270.6 32.2 274 30.7 C277.8 29 280.6 27.1 284 24.7 C287.8 22.1 290.4 19.6 294 16.7 C298.4 13.1 302.4 11 306 6.7 C309.7 2.2 314 -7.3 314 -7.3 C314 -7.3 364 -7.3 364 -7.3 C364 -7.3 364 128.7 364 128.7 C364 128.7 350.9 138.6 344 144.7 C338.7 149.4 335.6 154.2 330 158.7 C324.7 162.9 319.9 165.4 314 168.7 C307 172.6 301.1 174.8 294 178.7 C286.6 182.7 281.5 186.9 274 190.7 C267.1 194.2 261.3 196.1 254 198.7 C246.9 201.2 241.1 202.2 234 204.7 C226.7 207.3 221 209.4 214 212.7 C208.7 215.2 204.8 217.4 200 220.7 C197.5 222.5 195.8 224.3 194 226.7 C191.5 230.1 189.9 232.9 188 236.7 C185.5 241.6 183.6 245.5 182 250.7 C180.7 254.9 181.5 258.6 180 262.7 C178.6 266.6 176.8 269.6 174 272.7 C170.9 276.1 168.1 278.6 164 280.7 C160.7 282.3 157.4 284.1 154 282.7 C149.3 280.8 147.6 276.3 144 272.7 C141.1 269.8 139.1 267.4 136 264.7 C133.3 262.3 130.9 260.9 128 258.7 C125.1 256.5 122.9 254.8 120 252.7 C117.9 251.2 116 250.4 114 248.7 C111.7 246.7 109.8 245.2 108 242.7 C106.1 240.1 105.9 237.3 104 234.7 C102.2 232.2 100.7 230.1 98 228.7 C94.7 227.1 91.5 227.9 88 226.7 C84.9 225.7 82.6 224.6 80 222.7 C77.5 220.9 76.2 218.9 74 216.7 C71.1 213.8 68.7 211.8 66 208.7 C63.6 206 62.5 203.2 60 200.7 C58.2 198.9 56.6 196.3 54 196.7 C46.3 197.9 41.2 201.8 34 204.7 C26.8 207.6 21.3 210.1 14 212.7 C5.5 215.7 -10 220.3 -10 220.3 C-10 220.3 -10 144.7 -10 144.7 C-10 144.7 5.4 146.1 14 146.7 C21.2 147.2 26.8 147.9 34 147.7 C42.7 147.5 49.6 147.7 58 145.7 C63.5 144.4 67.2 141.7 72 138.7 C75.2 136.6 76.2 132.5 80 131.7 C84.4 130.8 88.3 132.3 92 134.7 C95.9 137.2 97.3 141 100 144.7 C103.1 148.9 104.1 153.2 108 156.7 C111.6 159.9 115.3 161.6 120 162.7 C126.3 164.2 131.6 164.8 138 163.7 C144.2 162.6 150.5 161.9 154 156.7 C156.8 152.5 153.6 147.5 152 142.7 C150.7 138.7 147.4 136.6 146 132.7 C144.5 128.6 143.6 125.1 144 120.7 C144.4 116.2 146.4 113 148 108.7 C149.3 105.1 151.1 102.5 152 98.7 C152.5 96.6 151 94.6 152 92.7 Z" fill="#6bc04b"/>
<path d="M364 22.7 C364 22.7 351 21.1 344 22.7 C339.7 23.7 337 26.5 334 29.7 C332.5 31.4 330.6 33.9 332 35.7 C333.8 38.1 337.1 38.2 340 37.7 C344 37 346.1 33.8 350 32.7 C354.9 31.3 364 30.7 364 30.7 C364 30.7 364 22.7 364 22.7 Z" fill="#4ba483"/>
<path d="M-10 194.7 C-10 194.7 0.9 195.5 6 192.7 C9.7 190.7 11 186.8 12 182.7 C13.2 177.8 11.2 173.7 12 168.7 C12.6 164.9 13.4 161.6 16 158.7 C18.8 155.5 22 153.9 26 152.7 C32.3 150.9 37.6 151.8 44 150.7 C49.8 149.7 54.4 148.6 60 146.7 C65.2 145 69.2 143.3 74 140.7 C76.5 139.3 77.2 136.1 80 135.7 C83 135.3 85.7 136.6 88 138.7 C91.1 141.6 92.1 144.9 94 148.7 C95.7 152.2 96.4 155.2 98 158.7 C99.3 161.6 99.3 165 102 166.7 C105.7 169 109.7 168.1 114 168.7 C119.7 169.5 124.2 170.7 130 170.7 C135.8 170.7 140.3 169.9 146 168.7 C150.5 167.7 155 168.1 158 164.7 C160.9 161.4 160.9 157 160 152.7 C159.3 149.2 155.9 147.8 154 144.7 C151.5 140.6 149.5 137.3 148 132.7 C146.6 128.5 145.3 125 146 120.7 C146.8 115.3 149.1 111.3 152 106.7 C154.2 103.3 156.4 100.7 160 98.7 C164.6 96.2 169.2 96.9 174 94.7 C177.3 93.2 180.7 92 182 88.7 C182.8 86.8 176.6 86.1 178 84.7 C181.2 81.5 185.5 81.7 190 80.7 C195.7 79.5 200.4 80.2 206 78.7 C211.3 77.3 215.6 75.9 220 72.7 C223.7 70 225.4 66.5 228 62.7 C230.4 59.3 231.1 55.8 234 52.7 C237 49.5 239.9 47.3 244 45.7 C250.9 42.9 256.9 43 264 40.7 C271.4 38.3 277 36 284 32.7 C287.8 30.9 290.2 28.6 294 26.7 C298.2 24.6 301.4 22.7 306 21.7 C308.1 21.2 310.7 20.9 312 22.7 C314.2 25.7 312.1 29.6 314 32.7 C316.6 37.1 320.4 39.1 324 42.7 C327.6 46.3 333.5 47.6 334 52.7 C334.5 57.3 329.1 59.3 326 62.7 C322.6 66.5 318.6 68.3 316 72.7 C313.4 77.2 312.7 81.5 312 86.7 C311.2 93.1 311.6 98.2 312 104.7 C312.3 110.5 314 114.9 314 120.7 C314 126.5 313.4 131.1 312 136.7 C310.5 142.7 309.3 147.5 306 152.7 C302.7 157.8 298.5 160.6 294 164.7 C289.9 168.5 286.7 171.7 282 174.7 C276.6 178.2 271.9 180.1 266 182.7 C258.9 185.8 253.2 187.8 246 190.7 C238.8 193.6 233.2 195.9 226 198.7 C220.3 200.9 215.5 201.9 210 204.7 C205.4 207 202.3 209.7 198 212.7 C195.1 214.8 193.1 216.8 190 218.7 C187.3 220.4 184.9 221.3 182 222.7 C179.1 224.1 177 225.6 174 226.7 C171.2 227.7 168.8 229.7 166 228.7 C162.2 227.3 161.4 218.4 158 220.7 C154.4 223.1 162.1 228.8 160 232.7 C158.2 236 153.7 236 150 235.7 C145.3 235.3 142.4 232.3 138 230.7 C133.7 229.1 130.5 226.2 126 226.7 C123 227 123.1 232.7 120 232.7 C116.4 232.7 114.7 229.1 112 226.7 C108.9 224 106.4 222 104 218.7 C102.1 216.1 100 213.9 100 210.7 C100 206.8 104.4 204.6 104 200.7 C103.6 196.2 102 191.7 98 189.7 C94.6 188 91.6 191.8 88 192.7 C84.4 193.6 81.6 195.6 78 194.7 C75 194 73.5 191.4 72 188.7 C70.2 185.4 69.2 182.5 69 178.7 C68.8 175 72.6 172 71 168.7 C69.4 165.5 65.4 163.7 62 164.7 C58.9 165.6 58.9 169.6 58 172.7 C56.7 176.9 57.6 180.6 56 184.7 C54.7 188 52.9 190.6 50 192.7 C44.8 196.5 40 198.4 34 200.7 C27 203.4 21.3 205.1 14 206.7 C5.5 208.6 -10 210.3 -10 210.3 C-10 210.3 -10 194.7 -10 194.7 Z" fill="#dbdf5a"/>
<path d="M185 105.7 C187.3 103.4 190.9 105.8 194 106.7 C197.4 107.6 200.5 108.2 203 110.7 C203.9 111.6 201.3 112.7 200 112.7 C196.3 112.7 193.3 112.3 190 110.7 C187.7 109.6 183.2 107.5 185 105.7 Z" fill="#6bc04b"/>
<path d="M182 90.7 C182 86.3 189.7 89 194 88.3 C198.3 87.6 201.6 86.6 206 86.7 C209 86.8 214 85.7 214 88.7 C214 91.8 209 91.1 206 91.7 C201.7 92.6 198.3 92.9 194 92.7 C189.6 92.5 182 95.1 182 90.7 Z" fill="#6bc04b"/>
<path d="M92 195.7 C92.4 194.3 94.8 193.9 96 194.7 C97.6 195.8 98.5 197.8 98 199.7 C97.6 201.2 95.3 202.6 94 201.7 C92.1 200.4 91.4 197.9 92 195.7 Z" fill="#4ba483"/>
<path d="M70 157.7 C71 156.2 73.5 155.7 75 156.7 C76.5 157.7 77 160.2 76 161.7 C75 163.2 72.5 163.7 71 162.7 C69.5 161.7 69 159.2 70 157.7 Z" fill="#4ba483"/>
<path d="M146 120.7 C146.4 116.5 148.9 113.5 152 110.7 C155.6 107.5 159.2 105.4 164 104.7 C169 103.9 173.5 104.3 178 106.7 C182 108.9 181.8 114.9 186 116.7 C188.4 117.7 189.4 113 192 112.7 C196.4 112.2 200 116.5 204 114.7 C207.8 113 208.3 108.5 210 104.7 C211.9 100.6 212.8 97.1 214 92.7 C215 89.2 214.4 86 216 82.7 C217.4 80 220 79 222 76.7 C225 73.2 227.4 70.5 230 66.7 C232.4 63.3 233.2 59.8 236 56.7 C239.1 53.3 241.7 50.4 246 48.7 C252.1 46.3 257.4 46.2 264 45.7 C267.6 45.4 270.7 45.2 274 46.7 C276.8 47.9 278.8 49.9 280 52.7 C281.8 56.7 280.9 60.5 282 64.7 C283.1 69.1 284.6 72.4 286 76.7 C287.4 81 288.6 84.4 290 88.7 C291.4 93 293.7 96.2 294 100.7 C294.4 106.5 292 110.9 292 116.7 C292 122.5 294 126.9 294 132.7 C294 138.5 293.6 143.1 292 148.7 C290.7 153.3 289.1 157 286 160.7 C282.4 165.1 278.8 167.7 274 170.7 C267.2 175 261.3 177.4 254 180.7 C246.9 183.9 241.2 185.8 234 188.7 C226.8 191.6 221.1 193.6 214 196.7 C208.1 199.3 203.6 201.5 198 204.7 C194.9 206.5 193.1 209 190 210.7 C186.6 212.6 183.7 213.6 180 214.7 C176.5 215.8 173.7 217 170 216.7 C165.5 216.3 162.5 212.1 158 212.7 C155.4 213 156.3 217.4 154 218.7 C150.8 220.5 147.6 221.4 144 220.7 C139.9 219.9 137.8 216.4 134 214.7 C131.3 213.5 128.8 213.7 126 212.7 C123 211.6 119.9 211.3 118 208.7 C115.9 205.7 115.2 202.3 116 198.7 C116.8 195.2 119.3 193.1 122 190.7 C125.2 187.9 128.1 186.3 132 184.7 C136.8 182.7 141 182.2 146 180.7 C150.4 179.4 153.7 178.3 158 176.7 C161.6 175.4 164.9 175 168 172.7 C170.9 170.5 174.5 168.3 174 164.7 C173.5 161.1 168.2 161.6 166 158.7 C163.7 155.6 164.1 152 162 148.7 C160.4 146.1 157.8 145.1 156 142.7 C153.5 139.3 151.7 136.5 150 132.7 C148.1 128.6 145.6 125.2 146 120.7 Z" fill="#f9b146"/>
<path d="M263 136.7 C264.1 134 267.1 132.3 270 132.7 C273 133.2 275.5 135.7 276 138.7 C276.4 141.6 274.5 144.3 272 145.7 C269.8 146.9 266.8 146.5 265 144.7 C262.9 142.6 261.9 139.4 263 136.7 Z" fill="#dbdf5a"/>
<path d="M258 69.7 C258.5 68.4 260.3 67.8 261.6 68.3 C262.8 68.8 263.5 70.5 263 71.7 C262.5 72.9 260.8 73.6 259.6 73.1 C258.3 72.6 257.5 70.9 258 69.7 Z" fill="#dbdf5a"/>
<path d="M72 142.7 C72.3 140.4 73.9 138.6 76 137.7 C78 136.9 80.7 136.9 82 138.7 C83.3 140.5 82.4 143.1 81 144.7 C79.5 146.4 77.2 147.2 75 146.7 C73.2 146.3 71.8 144.5 72 142.7 Z" fill="#f9b146"/>
<path d="M27 152.7 C31 150.2 35.3 150.9 40 150.7 C44.3 150.5 48.9 148.6 52 151.7 C54.2 153.9 47 154.1 44 154.7 C39.7 155.6 36.3 156.2 32 155.7 C29.9 155.5 25.2 153.8 27 152.7 Z" fill="#f9b146"/>
<path d="M73 180.7 C73.6 177.4 75.4 174.9 78 172.7 C81 170.1 84 168.4 88 167.7 C90.6 167.2 93.3 167.7 95 169.7 C96.7 171.6 96.8 174.3 96 176.7 C94.9 180.1 92.5 182.2 90 184.7 C87.5 187.2 85.4 189.6 82 190.7 C79.6 191.5 76.7 191.6 75 189.7 C72.8 187.2 72.4 184 73 180.7 Z" fill="#f9b146"/>
<path d="M145 122.7 C145 118.3 148.5 115.4 152 112.7 C155.7 109.9 159.4 108.5 164 108.3 C168.5 108.1 172.2 109.4 176 111.7 C178.6 113.3 180.6 115.6 181 118.7 C181.4 122.4 179.8 125.4 178 128.7 C175.8 132.7 173.8 136.1 170 138.7 C166.9 140.7 163.6 141.5 160 140.7 C156.5 139.9 154.3 137.5 152 134.7 C148.8 130.9 145 127.7 145 122.7 Z" fill="#f3672c"/>
<path d="M150 124.7 C151 120.7 154.4 118.7 158 116.7 C161.2 114.9 164.4 113.8 168 114.7 C171 115.4 173.4 117.7 174 120.7 C174.7 124.4 173.3 127.8 171 130.7 C168.7 133.6 165.7 135.3 162 135.7 C158.9 136.1 156.3 134.8 154 132.7 C151.6 130.5 149.2 127.8 150 124.7 Z" fill="#e03828"/>
<path d="M186 132.7 C187.3 130 191.4 132.1 194 130.7 C198 128.5 200.6 125.8 204 122.7 C207.8 119.3 211.2 116.9 214 112.7 C215.6 110.2 213.2 105.8 216 104.7 C219 103.5 221.1 107.4 224 108.7 C227.5 110.3 230.4 111.4 234 112.7 C238.3 114.3 242.1 114.4 246 116.7 C249.5 118.8 251.8 121.2 254 124.7 C255.6 127.2 256.7 129.8 256 132.7 C255.1 136.2 251.6 137.5 250 140.7 C248 144.8 246.4 148.2 246 152.7 C245.7 156.4 248.4 159 248 162.7 C247.6 166.6 246.7 170 244 172.7 C241.3 175.4 237.2 174.5 234 176.7 C230.6 179 229.3 182.4 226 184.7 C222 187.5 218.5 188.8 214 190.7 C209.8 192.5 206.2 192.9 202 194.7 C197.5 196.6 194.3 198.5 190 200.7 C185.7 202.9 182.5 205 178 206.7 C173.8 208.3 170.4 209.3 166 209.7 C161.7 210.1 158.3 208.5 154 208.7 C150.3 208.9 147.7 210.7 144 210.7 C140.3 210.7 137.4 210.1 134 208.7 C130.1 207.1 126.7 205.9 124 202.7 C122.1 200.4 121.3 197.6 122 194.7 C122.9 191.2 125 188.7 128 186.7 C131.8 184.2 135.6 183.7 140 182.7 C145 181.6 149 181.8 154 180.7 C158.4 179.7 161.9 178.7 166 176.7 C169.2 175.1 171.1 172.9 174 170.7 C176.9 168.5 178.8 166.3 182 164.7 C184.7 163.4 188.4 165.2 190 162.7 C192 159.7 190.4 156.3 190 152.7 C189.6 149 188.7 146.3 188 142.7 C187.3 139.1 184.4 136 186 132.7 Z" fill="#f3672c"/>
<path d="M193 152.7 C194.3 150.1 197.1 148.7 200 148.7 C202.3 148.7 204.5 150.4 205 152.7 C205.5 155.1 204.1 157.5 202 158.7 C199.8 159.9 197.1 159.7 195 158.3 C193.2 157.1 192 154.6 193 152.7 Z" fill="#f9b146"/>
<path d="M223 153.7 C223.9 151.7 225.9 149.9 228 150.3 C230.6 150.8 233 153.1 233 155.7 C233 158.3 230.4 160 228 161.1 C226.6 161.7 224.9 161 224 159.7 C222.8 157.9 222.1 155.7 223 153.7 Z" fill="#f9b146"/>
<path d="M230 129.7 C232.1 128.3 234.5 128.1 237 128.7 C238.1 129 238.9 131.1 238 131.7 C235.9 133.1 233.5 133.3 231 132.7 C229.9 132.4 229.1 130.3 230 129.7 Z" fill="#dbdf5a"/>
<path d="M210 159.7 C210.2 158.6 212.1 158 213 158.7 C214.5 159.9 215.4 161.8 215 163.7 C214.7 165 212.6 165.9 211.6 165.1 C210 163.8 209.6 161.7 210 159.7 Z" fill="#f9b146"/>
<path d="M132 211.7 C132.7 209.9 135.4 208.7 137 209.7 C138.9 210.9 139.2 213.6 138.4 215.7 C137.8 217.2 135.4 218 134 217.1 C132.2 216 131.2 213.6 132 211.7 Z" fill="#f3672c"/>
<path d="M208 126.7 C209.7 123.9 212.8 123.1 216 122.7 C218.9 122.3 222.5 122.2 224 124.7 C225.5 127.2 222.2 129.7 222 132.7 C221.8 136.3 223 139.1 223 142.7 C223 145.6 224.2 148.8 222 150.7 C220.3 152.2 217.6 150.3 216 148.7 C213.7 146.4 213.1 143.7 212 140.7 C211 137.9 210.8 135.6 210 132.7 C209.4 130.5 206.8 128.7 208 126.7 Z" fill="#e03828"/>
<path d="M191 168.7 C193 166 196.7 166.4 200 166.7 C203.9 167.1 206.1 170.3 210 170.7 C214.4 171.1 217.7 167.8 222 168.7 C225.5 169.4 230 171.1 230 174.7 C230 178.3 225.3 179.4 222 180.7 C217.9 182.3 214.4 183.1 210 182.7 C206.1 182.3 203.8 178.2 200 178.7 C197 179.1 197.1 184.7 194 184.7 C191.6 184.7 191.4 181.1 191 178.7 C190.3 175.2 188.8 171.6 191 168.7 Z" fill="#e03828"/>
<path d="M128 192.7 C129.2 190.1 131.4 188.7 134 187.7 C137.4 186.4 140.4 187.2 144 186.7 C147.6 186.2 150.3 184.9 154 184.7 C157.6 184.5 160.5 184.7 164 185.7 C167.9 186.9 170.2 189.2 174 190.7 C176.8 191.8 179.1 193.1 182 192.7 C184.6 192.3 185.5 188.1 188 188.7 C190.4 189.2 191.8 192.4 191 194.7 C190 197.8 187 199.3 184 200.7 C180.7 202.3 177.7 202.5 174 202.7 C170.4 202.9 167.6 201.7 164 201.7 C160.4 201.7 157.6 202.2 154 202.7 C150.4 203.2 147.7 204.5 144 204.7 C140.4 204.9 137.4 205 134 203.7 C131.6 202.8 130.2 200.9 129 198.7 C128 196.8 127.1 194.7 128 192.7 Z" fill="#e03828"/>
<path d="M135 195.7 C135.3 193.8 138.1 193.5 140 193.7 C141.5 193.9 143.2 195.2 143 196.7 C142.7 198.7 141 201 139 200.7 C136.7 200.4 134.7 198 135 195.7 Z" fill="#be1b26"/>
<rect x="55.1" y="163.6" width="133.8" height="122.7" fill="none" stroke="#ff0000" stroke-width="3.9"/>
<use href="#coast"/>
</g>
<rect x="0" y="0" width="354.8" height="302.5" fill="none" stroke="#000" stroke-width="2.15"/>
<text transform="translate(-61.65 293.20) scale(1.0100 1)" font-size="18.70">10°N</text>
<text transform="translate(-61.65 252.30) scale(1.0100 1)" font-size="18.70">15°N</text>
<text transform="translate(-61.65 211.40) scale(1.0100 1)" font-size="18.70">20°N</text>
<text transform="translate(-61.65 170.50) scale(1.0100 1)" font-size="18.70">25°N</text>
<text transform="translate(-61.65 129.60) scale(1.0100 1)" font-size="18.70">30°N</text>
<text transform="translate(-61.65 88.70) scale(1.0100 1)" font-size="18.70">35°N</text>
<text transform="translate(-61.65 47.80) scale(1.0100 1)" font-size="18.70">40°N</text>
<text transform="translate(-61.65 6.90) scale(1.0100 1)" font-size="18.70">45°N</text>
<text transform="translate(18.72 338.90) scale(1.0100 1)" font-size="18.70">90°E</text>
<text transform="translate(91.92 338.90) scale(1.0100 1)" font-size="18.70">100°E</text>
<text transform="translate(171.30 338.90) scale(1.0100 1)" font-size="18.70">110°E</text>
<text transform="translate(249.32 338.90) scale(1.0100 1)" font-size="18.70">120°E</text>
<text transform="translate(328.02 338.90) scale(1.0100 1)" font-size="18.70">130°E</text>
<path d="M-9.2 286.3 H0 M-9.2 245.4 H0 M-9.2 204.5 H0 M-9.2 163.6 H0 M-9.2 122.7 H0 M-9.2 81.8 H0 M-9.2 40.9 H0 M-9.2 0 H0 M39.4 302.5 v9.2 M118 302.5 v9.2 M196.8 302.5 v9.2 M275.4 302.5 v9.2 M354.1 302.5 v9.2" stroke="#000" stroke-width="1.95" fill="none"/>
<text transform="translate(4.84 -23.60) scale(0.9940 1)" font-size="39.60">(b)</text>
<text transform="translate(150.70 -23.60) scale(0.9676 1)" font-size="40.60">Apr</text>
</g>
<g transform="translate(966 52.3)">
<g clip-path="url(#pc)">
<rect x="0" y="0" width="354.8" height="302.5" fill="#5196d0"/>
<path d="M-10 71.7 C-10 71.7 5.3 68.9 14 67.7 C21.2 66.7 26.8 65.9 34 65.7 C40.5 65.5 45.6 65.5 52 66.7 C57.3 67.7 60.8 70.7 66 71.7 C71.7 72.8 76.2 72.7 82 72.7 C87.8 72.7 92.4 73.2 98 71.7 C100.7 71 103.5 69.5 104 66.7 C104.5 64.1 102.4 61.7 100 60.7 C96 59 92.2 60.9 88 59.7 C84.7 58.7 81.7 57.6 80 54.7 C79 53 80.3 50.6 82 49.7 C85.9 47.7 89.6 47.5 94 47.7 C99.2 47.9 103.2 48.9 108 50.7 C111.2 51.9 114.5 52.7 116 55.7 C117.2 58 113.6 60.1 114 62.7 C114.4 65.6 115.7 68 118 69.7 C121.7 72.5 125.7 72.8 130 74.7 C134.4 76.7 138.3 77.6 142 80.7 C145.4 83.5 147.8 86.5 149 90.7 C150.1 94.9 149.3 98.6 148 102.7 C146.7 106.7 143.9 108.9 142 112.7 C139.9 116.9 137.7 120.1 137 124.7 C136.2 130.4 136.6 135.1 138 140.7 C139.2 145.4 142.6 148.1 144 152.7 C145.5 157.6 144.5 161.8 146 166.7 C147 169.9 153.1 172 151 174.7 C148 178.4 142.6 175.4 138 176.7 C134.9 177.6 133.2 180.7 130 180.7 C127.4 180.7 126.5 175.9 124 176.7 C120.6 177.8 121.3 186.2 118 184.7 C113.9 182.9 116.5 176.9 115 172.7 C113.6 168.9 111.7 166.4 110 162.7 C108.4 159.2 107.7 156.2 106 152.7 C104.8 150.4 104 148.4 102 146.7 C98.8 144 95.6 142.8 92 140.7 C87.7 138.2 85 134.1 80 133.7 C75.3 133.3 72.3 136.9 68 138.7 C64.4 140.2 61.9 142.4 58 142.7 C49.4 143.5 42.6 142.3 34 141.7 C26.8 141.2 21.1 141.2 14 139.7 C5.2 137.9 -10 132.7 -10 132.7 C-10 132.7 -10 71.7 -10 71.7 Z" fill="#86c5eb"/>
<path d="M-10 115.7 C-10 115.7 5.3 113.9 14 113.7 C21.2 113.5 26.8 114.9 34 114.7 C41.2 114.5 46.8 113.4 54 112.7 C61.2 112 67.1 112.7 74 110.7 C76.2 110.1 75.7 106 78 105.7 C83.7 104.8 88.2 107.9 94 107.7 C100.6 107.5 105.4 104.5 112 104.7 C116.6 104.9 120.4 106 124 108.7 C126.6 110.6 127.5 113.5 128 116.7 C128.6 121 128.8 124.8 127 128.7 C125 133.1 122.6 137.2 118 138.7 C113.8 140.1 110.2 137.1 106 135.7 C101.6 134.2 98.2 132.7 94 130.7 C88.9 128.3 85.6 124.6 80 123.7 C75.6 123 71.9 124.6 68 126.7 C63.7 129 62.6 134.2 58 135.7 C49.8 138.4 42.7 137.7 34 137.7 C26.8 137.7 21.1 136.8 14 135.7 C5.3 134.3 -10 130.7 -10 130.7 C-10 130.7 -10 115.7 -10 115.7 Z" fill="#c5e8fa"/>
<path d="M36 312.7 C36 312.7 46.2 296.1 54 288.7 C60.1 282.9 66.6 280.7 74 276.7 C81.1 272.8 86.8 270.4 94 266.7 C98 264.6 102.2 264.3 105 260.7 C107.7 257.2 107.6 253.1 108 248.7 C108.3 244.7 105.4 241.3 107 237.7 C107.8 235.9 111.2 237.9 112 239.7 C114 244 111.7 248.6 114 252.7 C116.3 256.7 119.7 258.9 124 260.7 C128.7 262.7 132.9 262.3 138 262.7 C142.3 263 146.1 260.9 150 262.7 C154.6 264.8 156 269.5 160 272.7 C161.9 274.2 163.6 275.7 166 275.7 C169.8 275.7 173.3 275.4 176 272.7 C178.7 270 178.4 266.4 179 262.7 C179.8 257.7 178.8 253.6 180 248.7 C180.6 246.2 182.2 244.5 184 242.7 C185.5 241.2 188.1 241.6 189 239.7 C190.5 236.8 189 233.8 190 230.7 C190.9 227.9 191.7 225.4 194 223.7 C200.6 218.8 206.6 216.2 214 212.7 C221 209.4 226.7 207.4 234 204.9 C239.1 203.2 243.2 202.5 248.4 201.1 C253.6 199.7 257.6 198.7 262.8 197.3 C268 195.9 272 194.7 277.2 193.3 C282.4 191.9 286.6 191.1 291.8 189.5 C295.3 188.4 298 187.1 301.4 185.7 C304.9 184.3 307.5 183.1 311 181.7 C316.2 179.6 320.2 178.1 325.4 176.1 C330.6 174 334.6 172.4 339.8 170.3 C344.9 168.2 348.9 166.5 354 164.5 C357.6 163.1 364 160.7 364 160.7 C364 160.7 364 312.7 364 312.7 C364 312.7 36 312.7 36 312.7 Z" fill="#86c5eb"/>
<path d="M326 312.7 C326 312.7 325.1 296 330 288.7 C332.9 284.4 338.9 286.6 344 285.7 C351.2 284.4 364 282.7 364 282.7 C364 282.7 364 312.7 364 312.7 C364 312.7 326 312.7 326 312.7 Z" fill="#c5e8fa"/>
<path d="M74 -7.3 C74 -7.3 74.5 1.4 78 3.7 C82.9 6.9 88.2 5.2 94 5.7 C101.2 6.3 106.8 6.9 114 6.7 C121.2 6.5 126.8 5.6 134 4.7 C141.2 3.8 147.4 4.8 154 1.7 C157.5 0.1 160 -7.3 160 -7.3 C160 -7.3 74 -7.3 74 -7.3 Z" fill="#86c5eb"/>
<path d="M-10 0.1 C-10 0.1 13.2 -1.6 26 0.1 C27.8 0.3 25.4 3.6 24 4.7 C20.9 7.2 17.8 8.2 14 9.7 C11.2 10.8 8.9 11.3 6 11.7 C0.3 12.4 -10 12.7 -10 12.7 C-10 12.7 -10 0.1 -10 0.1 Z" fill="#4ba483"/>
<path d="M-10 20.7 C-10 20.7 5.3 18 14 16.7 C19.7 15.8 24.2 15.4 30 14.7 C35.8 14 40.2 12 46 12.7 C52.1 13.5 56.3 16.3 62 18.7 C66.4 20.6 70.1 21.8 74 24.7 C76.1 26.3 75.5 29.9 78 30.7 C84.9 33 90.8 33.2 98 32.7 C105.4 32.1 110.6 28.7 118 27.7 C126.6 26.5 133.4 27.1 142 26.7 C149.9 26.4 156.1 26.4 164 25.7 C167.7 25.4 170.9 21.7 174 23.7 C176.2 25.1 167.9 28.1 170 29.7 C174.7 33.2 180.2 31.8 186 32.7 C192.5 33.6 197.5 34.9 204 34.7 C209.9 34.5 214.4 33.6 220 31.7 C225.3 29.9 229 27.2 234 24.7 C239.8 21.8 244.3 19.8 250 16.7 C253.7 14.7 256.6 13.2 260 10.7 C262.4 8.9 264.6 7.4 266 4.7 C268 0.7 269 -7.3 269 -7.3 C269 -7.3 364 -7.3 364 -7.3 C364 -7.3 364 122.7 364 122.7 C364 122.7 357.5 127 354 129.7 C348.8 133.7 345.2 137.3 340 141.3 C335.2 145 331.3 147.4 326.4 150.9 C322.6 153.6 319.7 155.8 316 158.7 C312.1 161.7 309.2 164.3 305.2 167.3 C301.8 169.9 299.2 171.9 295.6 174.1 C293 175.7 290.9 176.8 288 177.9 C284.2 179.3 281.2 180.1 277.2 180.9 C273.1 181.7 269.9 181.7 265.8 182.3 C261.2 183 257.7 183.6 253.2 184.7 C249.7 185.5 247 186.4 243.6 187.5 C240.1 188.6 237.3 189.2 234 190.7 C226.6 194 221.3 197.3 214 200.7 C209 203 205.1 204.7 200 206.7 C194.3 209 189.8 210.8 184 212.7 C179 214.4 175.2 216.7 170 216.7 C166.1 216.7 162.9 215.2 160 212.7 C157.6 210.6 157.2 207.7 156 204.7 C154.6 201.2 153.4 198.4 153 194.7 C152.6 191.1 151.9 187.6 154 184.7 C157 180.5 163.2 181.1 166 176.7 C167.6 174.2 164.9 171.5 164 168.7 C162.8 165 161.9 162.1 160 158.7 C158.3 155.6 155.8 153.8 154 150.7 C152.2 147.6 152 144.7 150 141.7 C147.6 138.1 145 135.9 142 132.7 C139.9 130.5 136.7 129.7 136 126.7 C135.1 123.1 136.5 120.1 138 116.7 C139.5 113.4 141.8 111.5 144 108.7 C146.8 105.1 149.6 102.7 152 98.7 C154 95.4 155.5 92.6 156 88.7 C156.3 86.1 155.7 83.7 154 81.7 C151.8 79.1 148.3 79.2 146 76.7 C143.8 74.3 143.6 71.5 142 68.7 C140.7 66.4 140.1 64.3 138 62.7 C134.1 59.8 130.2 59.1 126 56.7 C121.5 54.1 118.6 51 114 48.7 C108.5 45.9 104 44 98 42.7 C92.4 41.5 87.8 41.5 82 41.7 C77.6 41.9 74.3 42.8 70 43.7 C64.2 44.9 59.7 46.1 54 47.7 C46.8 49.7 41.2 51.5 34 53.7 C26.8 55.9 21.3 57.7 14 59.7 C5.4 62 -10 65.7 -10 65.7 C-10 65.7 -10 20.7 -10 20.7 Z" fill="#4ba483"/>
<path d="M-10 141.7 C-10 141.7 5.4 142.9 14 143.7 C21.2 144.4 26.8 145.5 34 145.7 C42.6 145.9 49.4 145.9 58 144.7 C62.5 144.1 65.7 142.3 70 140.7 C73.6 139.4 76.1 137.1 80 136.7 C83 136.4 85.5 137.1 88 138.7 C91.5 140.9 93.9 143.2 96 146.7 C98.3 150.6 99.4 154.2 100 158.7 C100.5 163 100.1 166.5 99 170.7 C97.9 174.6 95.9 177.2 94 180.7 C92 184.4 89.9 186.9 88 190.7 C86.3 194.2 84.4 196.8 84 200.7 C83.6 204.4 84.6 207.3 86 210.7 C87.6 214.6 90 217 92 220.7 C92.9 222.4 94.9 224 94 225.7 C92.9 227.9 90.3 228 88 228.7 C83.1 230.2 78.9 230.2 74 231.7 C66.7 233.9 60.9 235.4 54 238.7 C46.4 242.3 41.4 246.7 34 250.7 C26.9 254.6 21.6 257.9 14 260.7 C5.6 263.7 -10 266.7 -10 266.7 C-10 266.7 -10 141.7 -10 141.7 Z" fill="#4ba483"/>
<path d="M-10 22.7 C-10 22.7 5.3 20.9 14 20.7 C19.1 20.6 23 22 28 21.7 C33.8 21.3 38.3 17.5 44 18.7 C46.2 19.2 40.7 22.8 42 24.7 C44.3 28.2 48.8 28 52 30.7 C55.3 33.5 59.3 35.4 60 39.7 C60.4 42.1 56.2 41.8 54 42.7 C46.9 45.7 41.3 48 34 50.7 C26.9 53.4 21.3 55.5 14 57.7 C5.5 60.2 -10 63.7 -10 63.7 C-10 63.7 -10 22.7 -10 22.7 Z" fill="#6bc04b"/>
<path d="M-10 27.7 C-10 27.7 5.4 28.6 14 29.7 C19.1 30.4 23.2 30.9 28 32.7 C34 34.9 41.3 34.9 44 40.7 C45.7 44.4 37.7 44.1 34 45.7 C26.9 48.8 21.3 51.1 14 53.7 C5.5 56.7 -10 61.1 -10 61.1 C-10 61.1 -10 27.7 -10 27.7 Z" fill="#dbdf5a"/>
<path d="M-10 37.7 C-10 37.7 5.4 40.3 14 41.7 C20.5 42.8 32 38.1 32 44.7 C32 51.5 20.5 48.5 14 50.7 C5.4 53.6 -10 58.7 -10 58.7 C-10 58.7 -10 37.7 -10 37.7 Z" fill="#f9b146"/>
<path d="M-10 143.7 C-10 143.7 5.4 144.9 14 145.7 C21.2 146.4 26.8 147.5 34 147.7 C41.2 147.9 46.8 146.9 54 146.7 C61.2 146.5 67.3 144.2 74 146.7 C76.4 147.6 72 151 70 152.7 C66.8 155.4 62.2 155.1 60 158.7 C57.4 163.1 58 167.6 58 172.7 C58 177.1 59.3 180.4 60 184.7 C60.7 189 62.4 192.3 62 196.7 C61.7 199.9 60.4 202.6 58 204.7 C53.7 208.6 49 209.8 44 212.7 C36.8 217 31.6 221.2 24 224.7 C12.1 230.2 -10 237.7 -10 237.7 C-10 237.7 -10 143.7 -10 143.7 Z" fill="#6bc04b"/>
<path d="M-10 145.7 C-10 145.7 5.3 147.7 14 148.7 C21.2 149.5 26.8 149.9 34 150.7 C39.8 151.3 44.6 150.5 50 152.7 C52.4 153.7 54 156.1 54 158.7 C54 161.9 50.8 163.6 50 166.7 C48.7 171.6 47.4 175.6 48 180.7 C48.2 182.7 51.1 182.9 52 184.7 C53.3 187.4 55.5 190.1 54 192.7 C51.9 196.3 47.9 197.1 44 198.7 C37 201.5 31.3 203 24 204.7 C17.6 206.2 12.5 206.9 6 207.7 C0.3 208.4 -10 208.7 -10 208.7 C-10 208.7 -10 145.7 -10 145.7 Z" fill="#dbdf5a"/>
<path d="M-10 184.7 C-10 184.7 -0.8 186.7 2 190.7 C5.6 195.9 9 202.2 6 207.7 C3.1 213 -10 212.7 -10 212.7 C-10 212.7 -10 184.7 -10 184.7 Z" fill="#6bc04b"/>
<path d="M-10 150.7 C-10 150.7 8 151.1 18 152.7 C24 153.6 28.9 154.5 34 157.7 C38.6 160.5 42.9 163.5 44 168.7 C44.7 172.2 40.6 174.3 38 176.7 C35.5 179 33.3 182.4 30 181.7 C24.7 180.6 22.8 175.1 18 172.7 C14.7 171.1 11.5 169.5 8 170.7 C4.1 172 3.6 176.7 0 178.7 C-3.2 180.5 -10 180.7 -10 180.7 C-10 180.7 -10 150.7 -10 150.7 Z" fill="#f9b146"/>
<path d="M288 -7.3 C288 -7.3 279.8 6.1 274 12.7 C270.3 16.9 266.5 19.3 262 22.7 C257.8 25.8 254.5 28.1 250 30.7 C244.4 33.9 239.6 35.5 234 38.7 C229.5 41.3 226.2 43.6 222 46.7 C217.5 50.1 214.6 53.5 210 56.7 C207.4 58.5 204.6 58.8 202 60.7 C198.7 63.1 197.2 66.2 194 68.7 C189.9 71.9 186.3 73.7 182 76.7 C179.1 78.8 175.9 79.6 174 82.7 C173.2 84.1 174.5 86.2 176 86.7 C182.2 88.6 189.4 84.1 194 88.7 C197.2 91.9 186.4 91.4 182 92.7 C177 94.2 173 95.3 168 96.7 C163 98.1 158.7 98.4 154 100.7 C149.9 102.8 147.1 105.3 144 108.7 C141.2 111.8 138.3 114.5 138 118.7 C137.6 123.9 139.4 128.2 142 132.7 C144.6 137.1 147.9 139.7 152 142.7 C155.9 145.5 159.4 147.2 164 148.7 C168.2 150.1 171.9 149.1 176 150.7 C179.3 152 183.1 153.2 184 156.7 C184.9 160.5 179.6 162.8 180 166.7 C180.4 170.9 182.9 173.9 186 176.7 C189.6 179.9 193.2 182 198 182.7 C203.7 183.5 208.3 181.5 214 180.7 C218.3 180.1 221.8 179.8 226 178.7 C230.4 177.6 233.7 176.1 238 174.7 C242.3 173.3 245.5 171.3 250 170.7 C254.6 170.1 258.2 172.1 262.8 171.3 C267.9 170.4 271.4 167.9 276.4 166.3 C279.1 165.4 281.4 165.6 284 164.5 C286.7 163.3 288.6 162.1 290.8 160.1 C292.9 158.2 294.1 156.3 295.6 153.9 C297.2 151.2 297.9 148.8 299.4 146.1 C301.4 142.6 303.1 140 305.2 136.5 C307.3 133 308.8 130.3 311 126.9 C313.7 122.7 315.9 119.5 318.6 115.3 C320.4 112.6 321.9 110.5 323.6 107.7 C326 103.8 326.5 99.6 330 96.7 C334.2 93.2 338.8 92.5 344 90.7 C351.1 88.2 364 84.7 364 84.7 C364 84.7 364 -7.3 364 -7.3 C364 -7.3 288 -7.3 288 -7.3 Z" fill="#6bc04b"/>
<path d="M364 22.7 C364 22.7 351 20.8 344 22.7 C339.5 23.9 337 27.2 334 30.7 C332.5 32.4 330.6 34.9 332 36.7 C333.8 39.1 337.1 39.1 340 38.7 C343.2 38.3 344.9 35.5 348 34.7 C353.6 33.3 364 32.7 364 32.7 C364 32.7 364 22.7 364 22.7 Z" fill="#4ba483"/>
<path d="M312 -7.3 C312 -7.3 308.2 3.8 304 8.7 C300 13.4 295.1 15.2 290 18.7 C285.7 21.7 282.3 23.8 278 26.7 C273.7 29.6 270.6 32.2 266 34.7 C261.9 36.9 258.4 38.2 254 39.7 C249.8 41.1 245.9 40.6 242 42.7 C238.4 44.7 236.3 47.3 234 50.7 C231.8 53.9 231.3 57.1 230 60.7 C228.4 65 229 69.3 226 72.7 C222.8 76.3 218.6 77.2 214 78.7 C209.8 80.1 204.4 77.1 202 80.7 C200.2 83.4 207.5 82.6 210 84.7 C212 86.4 214.8 88.2 214 90.7 C212.9 94.1 207.9 93.6 206 96.7 C204.1 99.8 204 103 204 106.7 C204 110.4 206.7 113.1 206 116.7 C205.2 120.8 203 123.7 200 126.7 C197.7 129 193.6 127.9 192 130.7 C190.2 133.8 192.5 137.1 192 140.7 C191.8 142.3 188.4 144.4 190 144.7 C194.3 145.6 197.8 141.3 202 142.7 C205.4 143.8 205.1 148.5 208 150.7 C211.1 153 214.1 155.1 218 154.7 C222.2 154.3 223.9 149.5 228 148.7 C231.6 148 234.5 151.7 238 150.7 C243 149.3 245.5 145.3 250 142.7 C254.2 140.3 258.4 139.9 262 136.7 C264.4 134.6 263.9 131.1 266 128.7 C268.3 126 270.7 124.2 274 122.7 C277.4 121.2 280.5 121.9 284 120.7 C287.1 119.7 289.6 118.8 292 116.7 C294.7 114.4 296.7 112 298 108.7 C299.6 104.6 298.9 100.9 300 96.7 C301.1 92.3 301.4 88.4 304 84.7 C306.6 80.9 310 78.9 314 76.7 C318 74.5 323.6 76.6 326 72.7 C328.3 69 324.9 65 324 60.7 C322.8 54.9 322.1 50.2 320 44.7 C318.5 40.8 313.2 38.8 314 34.7 C315 29.2 320.7 27.2 324 22.7 C326.5 19.3 328.6 16.6 330 12.7 C332.6 5.7 335 -7.3 335 -7.3 C335 -7.3 312 -7.3 312 -7.3 Z" fill="#dbdf5a"/>
<path d="M258 42.7 C253.5 43.4 250.1 44.7 246 46.7 C242.8 48.3 240.3 50 238 52.7 C235.9 55.1 234.9 57.6 234 60.7 C232.7 64.9 233.6 68.6 232 72.7 C230.7 76 228.5 78.2 226 80.7 C223.5 83.2 219.6 83.5 218 86.7 C216.4 89.9 219 93.3 218 96.7 C216.8 100.7 213.3 102.7 212 106.7 C210.4 111.5 210.8 115.7 210 120.7 C209.3 125 206.4 128.6 208 132.7 C209.7 137 213.4 141.2 218 140.7 C222.6 140.2 222.2 133.3 226 130.7 C229.7 128.1 233.7 128.1 238 126.7 C242.3 125.3 245.9 124.7 250 122.7 C253.2 121.1 254.5 117.6 258 116.7 C262.9 115.4 267 117.5 272 116.7 C276.5 116 280.5 115.7 284 112.7 C286.3 110.8 286.3 107.7 286 104.7 C285.6 100.8 283.9 98.1 282 94.7 C280.3 91.6 278.3 89.4 276 86.7 C274 84.4 271.8 83.2 270 80.7 C268.1 78.1 268.7 74.4 266 72.7 C262.3 70.4 258.1 72.2 254 70.7 C252.1 70 248.4 67.9 250 66.7 C253.5 64.1 257.8 65.8 262 64.7 C266.4 63.6 270.8 63.9 274 60.7 C275.6 59.1 271.2 56.8 272 54.7 C273.6 50.4 280.8 49.2 280 44.7 C279.4 41.1 273.7 43 270 42.7 C265.7 42.3 262.3 42 258 42.7 Z" fill="#f9b146"/>
<path d="M238 110.7 C238.8 108.6 241.8 108.1 244 108.7 C247.5 109.7 250.9 111.3 252 114.7 C252.8 117.2 250.5 119.9 248 120.7 C245.2 121.6 242.1 120.8 240 118.7 C237.9 116.6 236.9 113.5 238 110.7 Z" fill="#dbdf5a"/>
<path d="M141 120.7 C141 116.7 143.2 113.5 146 110.7 C149.5 107.2 153.1 104.6 158 103.7 C163 102.7 167.2 103.9 172 105.7 C176.1 107.2 179.9 108.8 182 112.7 C183.7 115.9 182.3 119.3 181 122.7 C179.4 126.8 176.9 129.4 174 132.7 C171.5 135.6 169.6 138.4 166 139.7 C161.9 141.1 158.1 141.1 154 139.7 C150.4 138.4 148.2 135.9 146 132.7 C143.4 128.8 141 125.4 141 120.7 Z" fill="#dbdf5a"/>
<path d="M145 120.7 C145.2 117.3 147.2 114.6 150 112.7 C153.1 110.7 156.3 110.7 160 110.7 C163.7 110.7 166.8 110.9 170 112.7 C172.3 114 173.6 116.1 174 118.7 C174.4 121.6 173.3 124 172 126.7 C170.4 129.9 169.1 132.9 166 134.7 C162.8 136.5 159.5 136.7 156 135.7 C152.8 134.8 151 132.4 149 129.7 C146.9 126.8 144.8 124.2 145 120.7 Z" fill="#f9b146"/>
<path d="M184 106.7 C185.5 103.3 190.3 103.3 194 103.7 C197.4 104.1 200.6 105.6 202 108.7 C203.2 111.4 200.8 113.8 200 116.7 C199.4 118.9 200 121.7 198 122.7 C196 123.7 193.4 122.5 192 120.7 C190.1 118.4 191.5 115.3 190 112.7 C188.5 110 182.8 109.5 184 106.7 Z" fill="#4ba483"/>
<path d="M250 156.7 C250.4 155.3 253.1 154.5 254 155.7 C255.7 158.1 255.8 160.9 255 163.7 C254.5 165.2 251.9 167 251 165.7 C249.1 163 249.1 159.8 250 156.7 Z" fill="#4ba483"/>
<path d="M266 138.7 C267.1 136.8 270.7 138 272 139.7 C273.8 142 274.4 145.2 273 147.7 C271.9 149.6 268.3 150.4 267 148.7 C264.8 145.8 264.2 141.9 266 138.7 Z" fill="#4ba483"/>
<use href="#coast"/>
</g>
<rect x="0" y="0" width="354.8" height="302.5" fill="none" stroke="#000" stroke-width="2.15"/>
<text transform="translate(-61.65 293.20) scale(1.0100 1)" font-size="18.70">10°N</text>
<text transform="translate(-61.65 252.30) scale(1.0100 1)" font-size="18.70">15°N</text>
<text transform="translate(-61.65 211.40) scale(1.0100 1)" font-size="18.70">20°N</text>
<text transform="translate(-61.65 170.50) scale(1.0100 1)" font-size="18.70">25°N</text>
<text transform="translate(-61.65 129.60) scale(1.0100 1)" font-size="18.70">30°N</text>
<text transform="translate(-61.65 88.70) scale(1.0100 1)" font-size="18.70">35°N</text>
<text transform="translate(-61.65 47.80) scale(1.0100 1)" font-size="18.70">40°N</text>
<text transform="translate(-61.65 6.90) scale(1.0100 1)" font-size="18.70">45°N</text>
<text transform="translate(18.72 338.90) scale(1.0100 1)" font-size="18.70">90°E</text>
<text transform="translate(91.92 338.90) scale(1.0100 1)" font-size="18.70">100°E</text>
<text transform="translate(171.30 338.90) scale(1.0100 1)" font-size="18.70">110°E</text>
<text transform="translate(249.32 338.90) scale(1.0100 1)" font-size="18.70">120°E</text>
<text transform="translate(328.02 338.90) scale(1.0100 1)" font-size="18.70">130°E</text>
<path d="M-9.2 286.3 H0 M-9.2 245.4 H0 M-9.2 204.5 H0 M-9.2 163.6 H0 M-9.2 122.7 H0 M-9.2 81.8 H0 M-9.2 40.9 H0 M-9.2 0 H0 M39.4 302.5 v9.2 M118 302.5 v9.2 M196.8 302.5 v9.2 M275.4 302.5 v9.2 M354.1 302.5 v9.2" stroke="#000" stroke-width="1.95" fill="none"/>
<text transform="translate(3.68 -23.60) scale(0.9785 1)" font-size="39.60">(c)</text>
<text transform="translate(148.99 -23.60) scale(0.9579 1)" font-size="40.60">May</text>
</g>
<g transform="translate(66 469.1)">
<g clip-path="url(#pc)">
<rect x="0" y="0" width="354.8" height="302.5" fill="#86c5eb"/>
<path d="M-10 -8.1 C-10 -8.1 364 -8.1 364 -8.1 C364 -8.1 364 129.9 364 129.9 C364 129.9 347.1 139.7 338 145.9 C333.4 149.1 330.6 152.6 326 155.9 C320.5 159.8 315.9 162.6 310 165.9 C304.4 169.1 300 171.5 294 173.9 C289.1 175.8 284.9 176 280 177.9 C277.6 178.9 276.4 181 274 181.9 C270.6 183.2 267.5 182.7 264 183.9 C256.6 186.4 251.3 189.3 244 191.9 C236.9 194.4 231.3 196 224 197.9 C217.6 199.6 212.4 200.2 206 201.9 C201.6 203.1 198.4 204.7 194 205.9 C190.5 206.9 187.6 207.4 184 207.9 C180.4 208.4 177.6 209.1 174 208.9 C171 208.7 168.7 208.2 166 206.9 C163.5 205.6 161.7 204.1 160 201.9 C158 199.3 157.3 196.8 156 193.9 C154.4 190.4 151.2 187.7 152 183.9 C152.9 179.4 159.5 178.5 160 173.9 C160.4 169.7 156 167.6 154 163.9 C151.7 159.7 149.9 156.4 148 151.9 C146.2 147.7 145.8 144.1 144 139.9 C142.1 135.4 139.4 132.5 138 127.9 C137.2 125.1 136.9 122.6 138 119.9 C139.9 115.1 143.4 112.4 146 107.9 C148.4 103.7 150.8 100.6 152 95.9 C153 91.7 153.9 87.8 152 83.9 C149.9 79.8 145.9 78.4 142 75.9 C137.9 73.3 133.9 72.8 130 69.9 C127.9 68.3 124.9 66.3 126 63.9 C127.2 61.1 132.3 63.5 134 60.9 C135 59.4 131.6 58.8 130 57.9 C124.4 54.8 120.1 51.9 114 49.9 C107 47.6 101.3 46.5 94 45.9 C89 45.5 84.5 44.6 80 46.9 C77.7 48.1 76.6 51.7 78 53.9 C80.2 57.5 84.2 58 88 59.9 C91.5 61.6 95.8 60.7 98 63.9 C99.3 65.8 96.2 68.3 94 68.9 C87.1 70.9 81.2 71.4 74 70.9 C66.6 70.3 61.2 67.5 54 65.9 C46.8 64.3 41.3 62.8 34 61.9 C26.8 61 21.2 60.1 14 60.9 C5.2 61.9 -10 66.9 -10 66.9 C-10 66.9 -10 -8.1 -10 -8.1 Z" fill="#5196d0"/>
<path d="M52 -8.1 C52 -8.1 54.1 0.7 58 2.9 C63 5.7 68.3 3.7 74 4.3 C81.2 5.1 86.7 6.6 94 6.9 C101.2 7.2 106.8 5.9 114 5.9 C121.2 5.9 127 5.2 134 6.9 C136.2 7.5 135.9 11 138 11.9 C143.4 14.3 148.2 17 154 15.9 C157.5 15.3 157.8 10.7 160 7.9 C162.1 5.3 164.5 3.9 166 0.9 C167.5 -2.1 168 -8.1 168 -8.1 C168 -8.1 52 -8.1 52 -8.1 Z" fill="#86c5eb"/>
<path d="M58 8.9 C59.2 6.9 61.7 6.7 64 6.9 C66.7 7.1 69.5 7.6 71 9.9 C71.8 11.2 69.5 12.6 68 12.9 C65.5 13.4 63.4 12.8 61 11.9 C59.6 11.3 57.2 10.2 58 8.9 Z" fill="#86c5eb"/>
<path d="M-10 10.9 C-10 10.9 -1 10.6 4 11.5 C6 11.9 9.7 12.4 9 14.3 C8.1 16.8 4.7 16.5 2 16.9 C-2.3 17.5 -10 16.9 -10 16.9 C-10 16.9 -10 10.9 -10 10.9 Z" fill="#86c5eb"/>
<path d="M-10 143.3 C-10 143.3 5.4 144 14 144.9 C21.2 145.7 26.7 147.5 34 147.9 C41.2 148.3 46.9 148.2 54 146.9 C58.6 146 61.6 143.4 66 141.9 C70.2 140.5 73.5 138.9 78 138.9 C80.4 138.9 82.4 140.1 84 141.9 C86.2 144.3 86.3 147.2 88 149.9 C89.9 153 92.7 154.5 94 157.9 C95.3 161.3 95.8 164.4 95 167.9 C94.3 171.2 92.3 173.4 90 175.9 C87.6 178.5 85.4 180.8 82 181.9 C79.2 182.8 76.6 182.3 74 180.9 C71.5 179.6 71.8 175.2 69 174.9 C66.5 174.6 64.9 177.5 64 179.9 C62.7 183.3 62.2 186.4 63 189.9 C63.7 193.2 66.1 195.1 68 197.9 C70 200.9 71.8 203 74 205.9 C76.2 208.8 76.7 212.6 80 213.9 C81.9 214.7 82.2 209 84 209.9 C86.9 211.3 86.4 215.1 88 217.9 C89.3 220.2 91 221.5 92 223.9 C93.2 226.6 94.3 228.9 94 231.9 C93.6 235.8 91.5 238.3 90 241.9 C87.9 247 86 250.8 84 255.9 C81.7 261.6 80.6 266.3 78 271.9 C75.5 277.2 73 281 70 285.9 C67.3 290.3 64.5 293.3 62 297.9 C59.4 302.7 56 311.9 56 311.9 C56 311.9 -10 311.9 -10 311.9 C-10 311.9 -10 143.3 -10 143.3 Z" fill="#5196d0"/>
<path d="M71 159.9 C72.4 156.3 74.5 153.5 78 151.9 C79.6 151.2 82.3 153.1 82 154.9 C81.4 158.7 78.6 161 76 163.9 C75.2 164.7 73.9 165.6 73 164.9 C71.5 163.7 70.3 161.7 71 159.9 Z" fill="#86c5eb"/>
<path d="M-10 88.9 C-10 88.9 5.4 88.5 14 87.9 C21.2 87.4 26.8 85.5 34 85.9 C41.3 86.3 46.7 89.2 54 89.9 C61.2 90.6 66.8 90.4 74 89.9 C81.3 89.4 86.8 88.2 94 86.9 C101.2 85.6 106.7 82.7 114 82.9 C118.7 83 122.2 85.2 126 87.9 C128.9 90 131.3 92.4 132 95.9 C133.2 101.5 131.4 106.1 131 111.9 C130.6 117.7 131.4 122.3 130 127.9 C128.8 132.6 125.9 135.4 124 139.9 C122.2 144.1 121.8 147.7 120 151.9 C118.9 154.6 118.7 157.8 116 158.9 C113.8 159.8 111.5 157.8 110 155.9 C107.6 152.8 108.4 148.9 106 145.9 C103.9 143.2 101 142.5 98 140.9 C94.5 138.9 91.6 137.7 88 135.9 C84.4 134.1 82 131.3 78 130.9 C74.9 130.6 72.7 132.4 70 133.9 C66.2 136 64.2 139.5 60 140.9 C54.5 142.7 49.8 142.3 44 142.3 C36.8 142.3 31.2 141.5 24 140.9 C11.7 139.8 -10 137.5 -10 137.5 C-10 137.5 -10 88.9 -10 88.9 Z" fill="#c5e8fa"/>
<path d="M262 311.9 C262 311.9 262.7 302 266 297.9 C269 294.1 273.4 293.2 278 291.9 C283.6 290.3 288.2 289.9 294 289.9 C299.8 289.9 304.4 293.5 310 291.9 C315.4 290.4 318.5 286.3 322 281.9 C324.4 278.9 324 275.2 326 271.9 C328.4 267.9 330.6 265 334 261.9 C337.1 259.1 340 257.2 344 255.9 C351 253.6 364 251.9 364 251.9 C364 251.9 364 311.9 364 311.9 C364 311.9 262 311.9 262 311.9 Z" fill="#c5e8fa"/>
<path d="M-10 -8.1 C-10 -8.1 22 -8.1 22 -8.1 C22 -8.1 22.7 0.4 20 3.9 C17.7 6.9 13.8 6.9 10 7.5 C2.9 8.7 -10 8.9 -10 8.9 C-10 8.9 -10 -8.1 -10 -8.1 Z" fill="#4ba483"/>
<path d="M-10 17.9 C-10 17.9 5.4 17.3 14 16.9 C21.2 16.6 26.8 15.7 34 15.9 C41.2 16.1 47 16.2 54 17.9 C59.3 19.2 63.4 20.9 68 23.9 C70.8 25.7 70.9 29.8 74 30.9 C80.8 33.3 86.8 32.9 94 32.9 C101.2 32.9 106.8 31.8 114 30.9 C118.3 30.4 121.7 28.3 126 28.9 C129.4 29.4 131.2 32 134 33.9 C137 35.9 138.4 39.4 142 39.9 C146.4 40.6 149.8 38.5 154 36.9 C156.4 36 157.5 33.4 160 32.9 C167.1 31.5 172.8 32.4 180 31.9 C187.2 31.4 192.9 31 200 29.9 C206.6 28.9 211.6 27.8 218 25.9 C223.9 24.2 228.2 22.1 234 19.9 C239.8 17.7 244.4 16.5 250 13.9 C253.8 12.1 256.4 10.1 260 7.9 C263.6 5.7 267.4 5.2 270 1.9 C272.4 -1 273 -8.1 273 -8.1 C273 -8.1 364 -8.1 364 -8.1 C364 -8.1 364 111.9 364 111.9 C364 111.9 344.5 121.5 334 127.9 C327.8 131.6 323.8 135.6 318 139.9 C312.2 144.2 308.6 149.1 302 151.9 C298 153.6 294.1 150.4 290 151.9 C285.7 153.5 284.1 157.8 280 159.9 C276.7 161.5 273.6 162.3 270 161.9 C266.8 161.5 265.1 158.9 262 157.9 C258.5 156.7 255.3 154.3 252 155.9 C249.3 157.2 251.6 161.4 250 163.9 C247.8 167.4 245.5 169.8 242 171.9 C238.1 174.2 234.4 174.8 230 175.9 C224.3 177.3 219.8 178.2 214 178.9 C208.3 179.6 203.8 180.1 198 179.9 C193.6 179.7 189.6 180.3 186 177.9 C182.5 175.6 180.8 172 180 167.9 C179.3 164.3 183.2 161.4 182 157.9 C180.7 154 177.4 152.2 174 149.9 C170.8 147.7 167.5 147.5 164 145.9 C159.6 143.9 156 142.6 152 139.9 C148.4 137.5 145.7 135.3 143 131.9 C140.5 128.7 138 125.9 138 121.9 C138 117.9 140.3 114.9 143 111.9 C145.6 109 149.2 108.6 152 105.9 C154.6 103.4 156 100.9 158 97.9 C160.3 94.4 162.1 91.7 164 87.9 C165.7 84.4 167.6 81.8 168 77.9 C168.3 74.9 168.4 71.6 166 69.9 C162.4 67.4 157.6 70.4 154 67.9 C151.6 66.2 154.2 61.9 152 59.9 C147.9 56.3 143 56.2 138 53.9 C133.6 51.9 130.5 49.7 126 47.9 C120.4 45.7 115.9 44.1 110 42.9 C102.9 41.5 97.2 40.7 90 40.9 C84.8 41.1 80.2 41 76 43.9 C73.6 45.6 72.8 49.2 74 51.9 C75.4 55.2 79.2 55.6 82 57.9 C85 60.3 92.5 62 90 64.9 C86.1 69.2 79.8 67.4 74 66.9 C66.6 66.3 61.2 63.5 54 61.9 C46.8 60.3 41.3 58.8 34 57.9 C26.8 57 21.2 56.2 14 56.9 C5.2 57.8 -10 62.3 -10 62.3 C-10 62.3 -10 17.9 -10 17.9 Z" fill="#4ba483"/>
<path d="M-10 146.9 C-10 146.9 5.4 147.3 14 147.9 C21.2 148.4 26.8 149.1 34 149.9 C40.5 150.6 45.5 151.9 52 151.9 C55.7 151.9 59.1 147.7 62 149.9 C64.4 151.7 61.7 155.5 60 157.9 C57.9 160.8 53 160.4 52 163.9 C51.1 167 55.6 168.7 56 171.9 C56.4 175.5 53.6 178.2 54 181.9 C54.4 185.8 56.3 188.4 58 191.9 C59.9 195.7 63.2 197.8 64 201.9 C64.7 205.5 63.5 208.6 62 211.9 C59.9 216.6 57.2 219.8 54 223.9 C50 229.2 46.5 233 42 237.9 C36.4 243.9 32.1 248.5 26 253.9 C20.6 258.6 16.3 262.4 10 265.9 C3.2 269.8 -10 274.3 -10 274.3 C-10 274.3 -10 146.9 -10 146.9 Z" fill="#4ba483"/>
<path d="M-10 148.9 C-10 148.9 5.4 149.9 14 150.9 C21.2 151.7 27.2 151.4 34 153.9 C38.3 155.5 41.2 158.3 44 161.9 C46.4 165 47 168.2 48 171.9 C49.2 176.1 49.2 179.6 50 183.9 C50.7 187.5 50.8 190.4 52 193.9 C53 197 57 198.8 56 201.9 C54.4 206.7 50 208.8 46 211.9 C40.6 216 36.1 218.9 30 221.9 C23.1 225.4 17.4 227.6 10 229.9 C3 232.1 -10 234.3 -10 234.3 C-10 234.3 -10 148.9 -10 148.9 Z" fill="#6bc04b"/>
<path d="M-10 151.9 C-10 151.9 5.4 152.9 14 153.9 C18.4 154.4 22.1 153.9 26 155.9 C29.6 157.7 32.7 160.1 34 163.9 C35.4 168 33.8 171.6 33 175.9 C32.3 179.6 29.8 182.1 30 185.9 C30.2 188.5 35.3 189.7 34 191.9 C32 195.2 27.5 194.2 24 195.9 C20.2 197.8 18.1 200.9 14 201.9 C5.6 204 -10 204.3 -10 204.3 C-10 204.3 -10 151.9 -10 151.9 Z" fill="#dbdf5a"/>
<path d="M-10 179.9 C-10 179.9 -0.8 177.4 4 178.9 C7.2 179.9 9.5 182.6 10 185.9 C10.4 188.8 8.7 191.8 6 192.9 C0.7 195.1 -10 194.3 -10 194.3 C-10 194.3 -10 179.9 -10 179.9 Z" fill="#6bc04b"/>
<path d="M-10 149.9 C-10 149.9 -2 150.1 2 151.9 C4.8 153.1 8 154.8 8 157.9 C8 160.5 4.4 161 2 161.9 C-2.2 163.4 -10 164.3 -10 164.3 C-10 164.3 -10 149.9 -10 149.9 Z" fill="#f9b146"/>
<path d="M-10 24.9 C-10 24.9 5.4 23.3 14 23.9 C21.3 24.4 26.8 26.3 34 27.9 C39.8 29.2 44.7 29.2 50 31.9 C53.6 33.7 59.7 36.2 58 39.9 C55.8 44.8 49 43.1 44 44.9 C36.8 47.4 31.2 49.4 24 51.9 C16.8 54.4 11.4 56.9 4 58.9 C-0.9 60.3 -10 61.3 -10 61.3 C-10 61.3 -10 24.9 -10 24.9 Z" fill="#6bc04b"/>
<path d="M-10 28.9 C-10 28.9 5.4 29.6 14 30.9 C19.9 31.8 24.3 33.1 30 34.9 C34.5 36.3 44.1 35.7 42 39.9 C38.9 46.1 30.5 44.3 24 46.9 C16.8 49.7 11.3 52.2 4 54.9 C-1 56.7 -10 59.3 -10 59.3 C-10 59.3 -10 28.9 -10 28.9 Z" fill="#dbdf5a"/>
<path d="M-10 34.9 C-10 34.9 0.3 37.4 6 38.9 C12.5 40.6 21.7 37.6 24 43.9 C25.9 49.1 15.2 48.2 10 49.9 C2.9 52.3 -10 55.3 -10 55.3 C-10 55.3 -10 34.9 -10 34.9 Z" fill="#f9b146"/>
<path d="M178 85.9 C178.5 80.8 185.3 80.2 188 75.9 C190.4 72.1 191.6 68.4 192 63.9 C192.4 59.5 188.7 56.1 190 51.9 C191.2 48 194.4 45.9 198 43.9 C201.2 42.1 204.5 43.1 208 41.9 C213.2 40.2 216.9 37.9 222 35.9 C226.3 34.3 229.6 33.2 234 31.9 C239.7 30.3 244.3 29.7 250 27.9 C255.9 26.1 260.9 25.3 266 21.9 C269.8 19.3 271.8 16 274 11.9 C277.6 5.1 282 -8.1 282 -8.1 C282 -8.1 346 -8.1 346 -8.1 C346 -8.1 346.2 5 344 11.9 C341.8 19 335.2 22.6 334 29.9 C333.5 32.9 337 36.1 340 35.9 C349.1 35.3 364 27.9 364 27.9 C364 27.9 364 91.9 364 91.9 C364 91.9 344.5 100.2 334 105.9 C328.6 108.9 324.9 112.1 320 115.9 C314.8 120 311.3 123.9 306 127.9 C301.9 131.1 299.1 135.1 294 135.9 C288.8 136.7 285.2 131.9 280 131.9 C274.8 131.9 271 134.4 266 135.9 C261.6 137.2 258.1 137.9 254 139.9 C249.4 142.2 246.6 145.6 242 147.9 C239.3 149.2 237 149.9 234 149.9 C229.6 149.9 226.2 146.8 222 147.9 C219.5 148.5 220.6 153.5 218 153.9 C214.2 154.4 211.4 151.8 208 149.9 C204.9 148.2 203.5 144.7 200 143.9 C196.4 143.1 192.6 148.5 190 145.9 C187.4 143.3 191.2 139.5 192 135.9 C192.6 133 192.1 130.2 194 127.9 C196.7 124.7 201.9 125.5 204 121.9 C205.5 119.3 201.6 116.8 202 113.9 C202.4 110.7 206.5 109.1 206 105.9 C205.6 102.9 202.7 101.3 200 99.9 C195.3 97.6 190.4 98.7 186 95.9 C182.1 93.4 177.5 90.5 178 85.9 Z" fill="#6bc04b"/>
<path d="M141 121.9 C141 117.9 143.3 114.9 146 111.9 C148.9 108.6 151.9 106.6 156 104.9 C160.1 103.2 163.6 102.5 168 102.9 C171.9 103.3 174.8 104.7 178 106.9 C180.7 108.8 183.6 110.6 184 113.9 C184.5 117.8 181.7 120.4 180 123.9 C178.1 127.7 176.8 130.7 174 133.9 C171.6 136.6 169.5 139 166 139.9 C161.8 141 158 140.5 154 138.9 C150.4 137.5 148.3 134.9 146 131.9 C143.6 128.7 141 125.9 141 121.9 Z" fill="#6bc04b"/>
<path d="M146 121.9 C146.4 119 147.6 116.6 150 114.9 C153.1 112.7 156.2 112.1 160 111.9 C163.3 111.7 166.4 111.9 169 113.9 C171.6 115.9 173 118.7 173 121.9 C173 125.4 171.3 128.2 169 130.9 C167.1 133.1 164.8 134.3 162 134.9 C159.2 135.5 156.7 135 154 133.9 C151.4 132.8 149.6 131.2 148 128.9 C146.5 126.7 145.6 124.5 146 121.9 Z" fill="#dbdf5a"/>
<path d="M190 82.9 C191.9 78.3 197.9 78.8 202 75.9 C206.6 72.6 210.2 70 214 65.9 C218.2 61.3 219.6 56.3 224 51.9 C227 48.9 230.5 48.2 234 45.9 C238.4 43.1 241.4 40.2 246 37.9 C251.5 35.1 256.3 34.3 262 31.9 C266.4 30 270 28.6 274 25.9 C278.7 22.8 281.7 19.5 286 15.9 C290.3 12.3 294.4 10.2 298 5.9 C301.7 1.4 306 -8.1 306 -8.1 C306 -8.1 332 -8.1 332 -8.1 C332 -8.1 329.1 11.1 330 21.9 C330.6 29.4 334.1 34.6 336 41.9 C337.7 48.3 340.4 53.3 340 59.9 C339.7 64.7 337.2 68.3 334 71.9 C330.5 75.8 326.2 76.8 322 79.9 C318.3 82.6 314.9 84.3 312 87.9 C309 91.7 308.2 95.6 306 99.9 C303.1 105.7 302 110.9 298 115.9 C296 118.4 293 118.8 290 119.9 C287.2 120.9 284.9 121.3 282 121.9 C277.7 122.8 274.4 123.9 270 123.9 C265.6 123.9 262.1 120.3 258 121.9 C253.7 123.6 254.3 130.3 250 131.9 C247 133 245.1 128.7 242 127.9 C239.2 127.2 236.8 127.2 234 127.9 C230.9 128.7 228.3 129.6 226 131.9 C223.7 134.2 224.5 137.9 222 139.9 C220.3 141.2 217.8 141.1 216 139.9 C213 137.9 212.8 134.2 210 131.9 C208.3 130.4 204.7 132.1 204 129.9 C202.8 126.4 205.3 123.5 206 119.9 C206.7 116.3 208.7 113.5 208 109.9 C207.2 105.8 202.9 104 202 99.9 C201.4 97 204.8 94.8 204 91.9 C203.2 89 200.6 87.6 198 85.9 C195.4 84.2 188.9 85.8 190 82.9 Z" fill="#dbdf5a"/>
<path d="M208 79.9 C209.5 75.5 214.9 75.3 218 71.9 C221.5 68 223.2 64.3 226 59.9 C228.3 56.4 229 52.9 232 49.9 C235.7 46.2 239.3 44.1 244 41.9 C248.8 39.7 253 39.3 258 37.9 C263 36.5 267.2 36.1 272 33.9 C276.7 31.7 279.6 28.6 284 25.9 C288.9 22.9 292.9 20.7 298 17.9 C300.8 16.4 302.9 13 306 13.9 C309.5 14.9 311.2 18.4 312 21.9 C312.8 25.5 309.3 28.3 310 31.9 C310.8 36 313.7 38.4 316 41.9 C318 44.9 320.9 46.5 322 49.9 C323.1 53.3 323.6 56.7 322 59.9 C320.4 63.1 317.1 64.2 314 65.9 C310.6 67.8 307.1 67.5 304 69.9 C300.4 72.7 297.9 75.7 296 79.9 C293.5 85.3 293.2 90.1 292 95.9 C291.1 100.2 292.1 104.1 290 107.9 C288.3 111 285.6 113.3 282 113.9 C276.3 114.9 271.7 112.7 266 111.9 C261.7 111.3 258.4 110.3 254 109.9 C249.7 109.5 246.2 109.1 242 109.9 C238.8 110.5 236.3 111.6 234 113.9 C231.7 116.2 232.6 120 230 121.9 C227 124 223.4 125.2 220 123.9 C216.6 122.6 215.1 119.3 214 115.9 C212.9 112.5 215.1 109.3 214 105.9 C212.9 102.5 208.4 101.5 208 97.9 C207.6 94.7 212 93.1 212 89.9 C212 86 206.8 83.6 208 79.9 Z" fill="#f9b146"/>
<path d="M216 81.9 C216.9 77.9 221.7 77.2 224 73.9 C226.8 69.9 228 66.3 230 61.9 C231.6 58.4 231.4 54.8 234 51.9 C237.4 48 241.3 46.1 246 43.9 C250.8 41.7 254.9 41.2 260 39.9 C265 38.6 269.1 38.6 274 36.9 C278.6 35.3 281.5 32.7 286 30.9 C289.5 29.5 292.8 25.9 296 27.9 C298.5 29.5 295.2 33.2 294 35.9 C292.3 39.7 288.9 41.8 288 45.9 C287.4 48.8 291.2 51.2 290 53.9 C288.6 57.2 283.7 56.8 282 59.9 C279.9 63.7 280.4 67.5 280 71.9 C279.6 76.2 280.6 79.6 280 83.9 C279.2 89.8 277.7 94.2 276 99.9 C274.9 103.6 275.5 108.2 272 109.9 C268.6 111.6 265.6 107.9 262 106.9 C257.7 105.7 254.4 104.8 250 103.9 C245.7 103 242.2 103.1 238 101.9 C234.3 100.9 231.4 99.8 228 97.9 C224.9 96.2 222.2 94.8 220 91.9 C217.7 88.8 215.2 85.7 216 81.9 Z" fill="#f3672c"/>
<path d="M222 81.9 C222 78.3 226.3 77 228 73.9 C229.9 70.5 230.9 67.6 232 63.9 C233.1 60.4 231.8 56.8 234 53.9 C236.5 50.5 240.3 49.9 244 47.9 C247.5 46 250.2 44.1 254 42.9 C258.2 41.6 261.6 41.1 266 40.9 C268.2 40.8 272 39.7 272 41.9 C272 45.5 267.9 46.8 266 49.9 C264.3 52.6 261.1 54.8 262 57.9 C263 61.4 268.7 60.6 270 63.9 C270.8 65.8 267.9 67.1 266 67.9 C262.6 69.3 258.6 67.3 256 69.9 C254 71.9 254.9 75.3 256 77.9 C257.2 80.7 261.5 80.9 262 83.9 C262.4 86.5 260.1 88.3 258 89.9 C255.5 91.7 253.1 92.9 250 92.9 C245.5 92.9 242.3 90.9 238 89.9 C234.4 89.1 231.3 89.5 228 87.9 C225.3 86.5 222 85 222 81.9 Z" fill="#e03828"/>
<use href="#coast"/>
</g>
<rect x="0" y="0" width="354.8" height="302.5" fill="none" stroke="#000" stroke-width="2.15"/>
<text transform="translate(-61.65 293.20) scale(1.0100 1)" font-size="18.70">10°N</text>
<text transform="translate(-61.65 252.30) scale(1.0100 1)" font-size="18.70">15°N</text>
<text transform="translate(-61.65 211.40) scale(1.0100 1)" font-size="18.70">20°N</text>
<text transform="translate(-61.65 170.50) scale(1.0100 1)" font-size="18.70">25°N</text>
<text transform="translate(-61.65 129.60) scale(1.0100 1)" font-size="18.70">30°N</text>
<text transform="translate(-61.65 88.70) scale(1.0100 1)" font-size="18.70">35°N</text>
<text transform="translate(-61.65 47.80) scale(1.0100 1)" font-size="18.70">40°N</text>
<text transform="translate(-61.65 6.90) scale(1.0100 1)" font-size="18.70">45°N</text>
<text transform="translate(18.72 338.90) scale(1.0100 1)" font-size="18.70">90°E</text>
<text transform="translate(91.92 338.90) scale(1.0100 1)" font-size="18.70">100°E</text>
<text transform="translate(171.30 338.90) scale(1.0100 1)" font-size="18.70">110°E</text>
<text transform="translate(249.32 338.90) scale(1.0100 1)" font-size="18.70">120°E</text>
<text transform="translate(328.02 338.90) scale(1.0100 1)" font-size="18.70">130°E</text>
<path d="M-9.2 286.3 H0 M-9.2 245.4 H0 M-9.2 204.5 H0 M-9.2 163.6 H0 M-9.2 122.7 H0 M-9.2 81.8 H0 M-9.2 40.9 H0 M-9.2 0 H0 M39.4 302.5 v9.2 M118 302.5 v9.2 M196.8 302.5 v9.2 M275.4 302.5 v9.2 M354.1 302.5 v9.2" stroke="#000" stroke-width="1.95" fill="none"/>
<text transform="translate(-0.03 -22.10) scale(0.9825 1)" font-size="39.60">(d)</text>
<text transform="translate(151.61 -22.10) scale(0.9675 1)" font-size="40.60">Jun</text>
</g>
<g transform="translate(516 469.1)">
<g clip-path="url(#pc)">
<rect x="0" y="0" width="354.8" height="302.5" fill="#86c5eb"/>
<path d="M-10 -8.1 C-10 -8.1 364 -8.1 364 -8.1 C364 -8.1 364 131.9 364 131.9 C364 131.9 352.1 136.3 346 139.9 C341.2 142.8 338.4 146.3 334 149.9 C330.4 152.8 325.9 153.7 324 157.9 C322.5 161.3 326.4 164.3 326 167.9 C325.6 171.1 325.1 175.1 322 175.9 C317.6 177 314.6 171.9 310 171.9 C304.1 171.9 299.6 173.8 294 175.9 C288 178.2 283.8 181 278 183.9 C273 186.4 269.3 189.1 264 190.9 C260.6 192 257.6 191.4 254 191.9 C246.8 192.9 241.2 193.8 234 194.9 C226.8 196 221.2 197 214 197.9 C206.8 198.8 201.2 199.1 194 199.9 C188.2 200.5 183.8 201.7 178 201.9 C173.7 202.1 170 202.7 166 200.9 C163 199.6 161.9 196.6 160 193.9 C157.6 190.5 153.4 188.1 154 183.9 C154.7 179.1 161.6 178.5 163 173.9 C164.1 170.3 161.5 167.3 160 163.9 C158.3 160.1 156.4 157.3 154 153.9 C151.4 150.1 148.5 147.8 146 143.9 C143.4 139.8 141.7 136.4 140 131.9 C138.4 127.7 136.6 124.3 137 119.9 C137.4 115.9 140.1 113.4 142 109.9 C144 106.2 145.8 103.5 148 99.9 C150.2 96.3 153.1 94 154 89.9 C154.6 87 153.8 84.3 152 81.9 C149.2 78.2 145.7 76.6 142 73.9 C139.2 71.9 135.7 71.8 134 68.9 C133.2 67.5 137 68.1 138 66.9 C139.3 65.4 141.1 63.5 140 61.9 C137.5 58.5 133.8 57.8 130 55.9 C124.4 53.1 120 50.9 114 48.9 C107 46.6 101.4 44.7 94 43.9 C88.3 43.3 83.6 43.6 78 44.9 C74.1 45.8 69.7 46.2 68 49.9 C66.7 52.8 70.1 55.3 72 57.9 C74.4 61.2 78 62.3 80 65.9 C80.6 67 79.3 69 78 68.9 C70.7 68.6 65.2 66.5 58 64.9 C52.2 63.6 47.8 62 42 60.9 C36.3 59.8 31.8 58.7 26 58.9 C20.1 59.1 15.7 60.7 10 61.9 C2.8 63.4 -10 66.3 -10 66.3 C-10 66.3 -10 -8.1 -10 -8.1 Z" fill="#5196d0"/>
<path d="M48 -8.1 C48 -8.1 43.1 0.6 46 3.9 C49.3 7.8 54.9 5.4 60 5.9 C65 6.4 69.4 4.8 74 6.9 C76.7 8.1 75.2 13.3 78 13.9 C83.7 15 88.2 11.5 94 10.9 C101.2 10.1 106.9 8.8 114 9.9 C121.5 11 126.6 15 134 16.9 C141.1 18.7 146.7 20.5 154 19.9 C160.1 19.4 164.5 16.7 170 13.9 C174.6 11.6 178.2 9.4 182 5.9 C186.9 1.4 194 -8.1 194 -8.1 C194 -8.1 48 -8.1 48 -8.1 Z" fill="#86c5eb"/>
<path d="M-10 7.9 C-10 7.9 0.4 9.2 6 10.9 C9.8 12.1 16 11.9 16 15.9 C16 19.8 9.8 19 6 19.9 C0.3 21.2 -10 21.9 -10 21.9 C-10 21.9 -10 7.9 -10 7.9 Z" fill="#86c5eb"/>
<path d="M30 10.9 C30 8 35.1 9.8 38 9.9 C41.1 10 46.4 8.2 46.4 11.3 C46.4 14.4 41.1 13 38 12.9 C35 12.8 30 13.9 30 10.9 Z" fill="#86c5eb"/>
<path d="M204 -8.1 C204 -8.1 206.4 -0.2 210 1.9 C214.4 4.4 218.9 3.7 224 3.5 C229.1 3.3 233.8 3.9 238 0.9 C240.7 -1 240 -8.1 240 -8.1 C240 -8.1 204 -8.1 204 -8.1 Z" fill="#86c5eb"/>
<path d="M-10 144.3 C-10 144.3 5.4 145 14 145.9 C21.2 146.7 26.8 147.8 34 148.9 C41.2 150 47.9 148 54 151.9 C56.6 153.6 48.4 154.9 48 157.9 C47.5 161.7 51.1 164.1 52 167.9 C53.2 172.8 52.4 177.1 54 181.9 C55.3 185.9 57.7 188.4 60 191.9 C62.8 196.3 65.2 199.5 68 203.9 C70.3 207.4 71.8 210.3 74 213.9 C76.2 217.5 78.3 220.1 80 223.9 C81.2 226.6 81.7 228.9 82 231.9 C82.4 236.2 82.3 239.6 82 243.9 C81.6 249 80 252.8 80 257.9 C80 261.6 82.3 264.2 82 267.9 C81.6 273.1 79.8 277 78 281.9 C76.2 287.1 73.7 290.7 72 295.9 C70.1 301.5 68 311.9 68 311.9 C68 311.9 -10 311.9 -10 311.9 C-10 311.9 -10 144.3 -10 144.3 Z" fill="#5196d0"/>
<path d="M-10 146.9 C-10 146.9 5.4 148.8 14 149.9 C19.8 150.6 25 148.9 30 151.9 C33.3 153.9 33.1 158.1 34 161.9 C35.2 166.8 34.7 171 36 175.9 C36.8 179 38.3 181.2 40 183.9 C41.9 187 45 188.4 46 191.9 C47.6 197.4 47 202.1 47 207.9 C47 213.7 47.6 218.3 46 223.9 C44.3 230.1 41.8 234.7 38 239.9 C33.8 245.6 29.7 249.6 24 253.9 C18.1 258.3 12.7 260.8 6 263.9 C0.5 266.4 -10 269.5 -10 269.5 C-10 269.5 -10 146.9 -10 146.9 Z" fill="#4ba483"/>
<path d="M-10 149.9 C-10 149.9 -2.1 150.3 2 151.9 C4.6 152.9 7 154.3 8 156.9 C8.7 158.7 7.7 161 6 161.9 C0.7 164.7 -10 166.3 -10 166.3 C-10 166.3 -10 149.9 -10 149.9 Z" fill="#6bc04b"/>
<path d="M-10 84.9 C-10 84.9 5.3 82.1 14 80.9 C21.2 79.9 26.8 78.9 34 78.9 C41.2 78.9 46.8 80.7 54 80.9 C61.2 81.1 66.8 80.6 74 79.9 C81.2 79.2 86.9 78.4 94 76.9 C99.1 75.8 102.8 72.7 108 72.9 C112 73.1 114.3 76.4 118 77.9 C122.2 79.6 126.6 78.9 130 81.9 C132.9 84.5 133.7 88 134 91.9 C134.4 97 132.7 100.9 132 105.9 C131.3 110.9 130.8 114.9 130 119.9 C129.3 124.2 130 128 128 131.9 C126.2 135.5 122.1 136.4 120 139.9 C117.7 143.8 117.8 147.7 116 151.9 C114.9 154.6 114.4 157.3 112 158.9 C110.5 159.9 108.2 159.3 107 157.9 C104.5 154.9 105.6 150.7 103 147.9 C100.6 145.3 97.1 145.7 94 143.9 C90.9 142.1 89.2 139.5 86 137.9 C83.3 136.6 80.9 135.5 78 135.9 C73.4 136.6 70.4 139.4 66 140.9 C61.8 142.3 58.4 143.5 54 143.9 C46.8 144.6 41.2 144.1 34 143.9 C26.8 143.7 21.2 143.6 14 142.9 C5.3 142.1 -10 139.9 -10 139.9 C-10 139.9 -10 84.9 -10 84.9 Z" fill="#c5e8fa"/>
<path d="M322 311.9 C322 311.9 321 297.2 324 289.9 C325.7 285.8 329.9 284.6 334 282.9 C338.1 281.2 341.6 281.3 346 280.9 C352.5 280.3 364 279.9 364 279.9 C364 279.9 364 311.9 364 311.9 C364 311.9 322 311.9 322 311.9 Z" fill="#c5e8fa"/>
<path d="M-10 23.9 C-10 23.9 5.4 22.7 14 21.9 C21.2 21.2 26.8 19.9 34 19.9 C39.8 19.9 44.8 19.3 50 21.9 C51.8 22.8 44.6 24.5 46 25.9 C49.9 29.8 54.8 30.1 60 31.9 C66.4 34.1 73 32.4 78 36.9 C80.4 39.1 73.1 40.1 70 40.9 C64.4 42.3 59.7 41.8 54 42.9 C46.7 44.3 41.1 45.6 34 47.9 C26.6 50.3 21.4 53.5 14 55.9 C5.5 58.7 -10 62.3 -10 62.3 C-10 62.3 -10 23.9 -10 23.9 Z" fill="#4ba483"/>
<path d="M-10 27.9 C-10 27.9 5.4 26.7 14 26.9 C21.2 27.1 27.1 26.6 34 28.9 C40.4 31 50 32.1 50 38.9 C50 44.9 39.7 41.9 34 43.9 C26.7 46.5 21.3 49.3 14 51.9 C5.5 54.9 -10 59.3 -10 59.3 C-10 59.3 -10 27.9 -10 27.9 Z" fill="#6bc04b"/>
<path d="M-10 33.9 C-10 33.9 0.3 33.8 6 34.9 C11.2 35.9 15 38 20 39.9 C23.6 41.3 32 40.6 30 43.9 C26.8 49.2 19.8 47.9 14 49.9 C5.4 52.8 -10 57.3 -10 57.3 C-10 57.3 -10 33.9 -10 33.9 Z" fill="#dbdf5a"/>
<path d="M136 121.9 C135.6 118 137.8 115.1 140 111.9 C142.3 108.5 144.5 106 148 103.9 C151.9 101.6 156.1 102.2 160 99.9 C163.5 97.8 165.3 94.9 168 91.9 C171.8 87.7 175.2 84.8 178 79.9 C180.3 76 181.6 72.4 182 67.9 C182.4 63.5 179.1 60.2 180 55.9 C180.7 52.4 184.7 51.2 186 47.9 C187.6 43.8 184.8 38.9 188 35.9 C191.8 32.4 196.9 33.9 202 32.9 C207.7 31.8 212.3 31.2 218 29.9 C223.8 28.6 228.2 27.3 234 25.9 C239.8 24.5 244.3 23.5 250 21.9 C254.4 20.6 258.2 20.4 262 17.9 C265 15.9 266.1 13 268 9.9 C271.9 3.6 278 -8.1 278 -8.1 C278 -8.1 364 -8.1 364 -8.1 C364 -8.1 364 99.9 364 99.9 C364 99.9 351.1 103.4 344 105.9 C338.8 107.7 335 109.6 330 111.9 C324.2 114.6 319.4 116.4 314 119.9 C309.3 122.9 306.4 126.3 302 129.9 C298.4 132.8 296.1 135.8 292 137.9 C289.4 139.2 286.9 138.6 284 138.9 C280.4 139.3 277.6 140.1 274 139.9 C269.6 139.7 266.3 137 262 137.9 C258.5 138.6 256.5 141.4 254 143.9 C251.5 146.4 249.9 148.8 248 151.9 C245.5 156 244.6 159.8 242 163.9 C239.5 167.8 237.8 171.3 234 173.9 C230.3 176.5 226.5 177.5 222 177.9 C217.6 178.3 214.2 177 210 175.9 C205.6 174.8 202.4 173.1 198 171.9 C194.5 170.9 190.6 172.5 188 169.9 C186 167.9 186.9 164.5 188 161.9 C189.2 159.1 193 158.8 194 155.9 C194.7 153.7 192.6 152.1 192 149.9 C191.2 147 191.9 144.2 190 141.9 C187.9 139.4 185.2 138.3 182 137.9 C178.4 137.5 175.6 139.2 172 139.9 C167.7 140.7 164.4 141.9 160 141.9 C156.3 141.9 153.2 141.7 150 139.9 C146.4 137.9 144.5 135.1 142 131.9 C139.4 128.6 136.4 126.1 136 121.9 Z" fill="#4ba483"/>
<path d="M186 117.9 C188.7 115.5 192.7 115.5 196 116.9 C198.1 117.8 199.7 121.4 198 122.9 C195.3 125.3 191.3 125.3 188 123.9 C185.9 123 184.3 119.4 186 117.9 Z" fill="#5196d0"/>
<path d="M208 159.9 C208.6 158.2 211.6 157.7 213 158.9 C215 160.6 215.8 163.4 215 165.9 C214.4 167.7 211.5 169.2 210 167.9 C207.7 166 207.1 162.7 208 159.9 Z" fill="#5196d0"/>
<path d="M224 152.9 C224.7 151.6 226.8 151 228 151.9 C229.4 153 229.8 155.3 229 156.9 C228.3 158.2 226.2 158.8 225 157.9 C223.6 156.8 223.2 154.5 224 152.9 Z" fill="#5196d0"/>
<path d="M332 23.9 C335.1 20.5 339.5 20.2 344 19.9 C351.2 19.4 364 21.9 364 21.9 C364 21.9 364 33.9 364 33.9 C364 33.9 351.2 35.4 344 34.9 C339.9 34.6 336 34.7 333 31.9 C330.9 29.9 330 26 332 23.9 Z" fill="#5196d0"/>
<path d="M179 84.9 C182 81.3 186.5 81 190 77.9 C193.4 74.8 195.8 71.9 198 67.9 C200.2 63.9 199.5 59.7 202 55.9 C204 52.9 207.1 52 210 49.9 C214.3 46.9 217.5 44.5 222 41.9 C227.6 38.7 232.1 36.5 238 33.9 C243.6 31.4 248.2 30.1 254 27.9 C259.8 25.7 264.9 25.3 270 21.9 C273.8 19.3 275.8 16 278 11.9 C281.6 5.1 286 -8.1 286 -8.1 C286 -8.1 336 -8.1 336 -8.1 C336 -8.1 334.3 7.5 332 15.9 C330.7 20.6 325.6 23.1 326 27.9 C326.4 33.1 331.2 35.5 334 39.9 C336.3 43.4 339.6 45.7 340 49.9 C340.4 53.8 338.6 57 336 59.9 C332.6 63.8 327.8 64.4 324 67.9 C319.8 71.7 317 75.2 314 79.9 C310.5 85.3 308.9 90.1 306 95.9 C303.8 100.2 302.5 103.8 300 107.9 C298.1 111 296.7 113.6 294 115.9 C291.6 118 289.2 119.3 286 119.9 C281.8 120.7 278.3 119.2 274 119.9 C269.5 120.6 265.9 121.6 262 123.9 C258.5 126 257.4 129.6 254 131.9 C250.8 134.1 247.9 136.3 244 135.9 C239.8 135.5 238.1 130.8 234 129.9 C231.1 129.3 228.5 130.3 226 131.9 C223.8 133.3 224.6 137.5 222 137.9 C218.8 138.4 216.7 135.6 214 133.9 C210.9 132 208.1 130.8 206 127.9 C204.3 125.5 204 122.9 204 119.9 C204 116.2 207.4 113.3 206 109.9 C204.7 106.9 200.8 107.5 198 105.9 C194.3 103.9 191.6 102.1 188 99.9 C185.8 98.5 181.4 98.4 182 95.9 C182.8 92.8 191 95 190 91.9 C188.8 88.4 183.1 91.9 180 89.9 C178.5 88.9 177.8 86.3 179 84.9 Z" fill="#6bc04b"/>
<path d="M141 121.9 C140.6 117.9 143.3 114.9 146 111.9 C148.9 108.6 152 106.7 156 104.9 C159.3 103.4 162.4 102.4 166 102.9 C170 103.5 173.3 104.9 176 107.9 C178 110.1 178.3 112.9 178 115.9 C177.6 119.8 175.7 122.4 174 125.9 C172.1 129.7 171.3 133.3 168 135.9 C165.1 138.3 161.7 139.3 158 138.9 C154 138.5 150.8 136.7 148 133.9 C144.5 130.4 141.5 126.9 141 121.9 Z" fill="#6bc04b"/>
<path d="M144 121.9 C143.8 118.5 146.5 116.2 149 113.9 C151.4 111.7 153.8 110.3 157 109.9 C159.9 109.5 162.8 109.9 165 111.9 C167.3 114 168 116.8 168 119.9 C168 123.7 167.1 126.8 165 129.9 C163.3 132.5 161.1 134.5 158 134.9 C155 135.3 152.3 134 150 131.9 C146.9 129 144.2 126.1 144 121.9 Z" fill="#dbdf5a"/>
<path d="M189 84.9 C190 80.3 196.4 80.9 200 77.9 C204 74.7 206.6 71.7 210 67.9 C213.1 64.5 214.7 61.2 218 57.9 C221.3 54.6 224.3 52.7 228 49.9 C233 46.2 236.6 43 242 39.9 C247.5 36.8 252.1 35.1 258 32.9 C263.7 30.8 268.5 30.4 274 27.9 C278.7 25.7 281.7 22.8 286 19.9 C290.3 17 293.2 13.8 298 11.9 C302.8 10.1 307 8.9 312 9.9 C315 10.5 317.3 12.9 318 15.9 C318.9 19.5 317.3 22.5 316 25.9 C315.1 28.3 312.3 29.3 312 31.9 C311.5 35.5 312.4 38.6 314 41.9 C316.1 46 320.7 47.5 322 51.9 C323.1 55.4 321.9 58.8 320 61.9 C317.4 66.3 313.2 68 310 71.9 C306.7 75.9 304.3 79.3 302 83.9 C299.2 89.4 298.6 94.3 296 99.9 C294.2 103.7 293.5 107.6 290 109.9 C286.4 112.3 282.4 112.1 278 111.9 C273.6 111.7 270.4 109.6 266 108.9 C261.7 108.2 258.3 107.7 254 107.9 C249.6 108.1 246.1 108.3 242 109.9 C238.7 111.2 237.4 114.6 234 115.9 C230.6 117.2 227.6 117.1 224 116.9 C221 116.7 218.2 116.9 216 114.9 C213.4 112.5 214.2 108.7 212 105.9 C209.8 103.1 206.3 102.7 204 99.9 C202.5 98.2 201.3 96.1 202 93.9 C203 91 209.5 90.6 208 87.9 C206.2 84.8 201.6 87.5 198 86.9 C194.7 86.4 188.3 88.1 189 84.9 Z" fill="#dbdf5a"/>
<path d="M208 80.9 C210.1 77.4 214.9 78.4 218 75.9 C220.8 73.6 222.4 71.1 224 67.9 C226 63.8 226.1 60 228 55.9 C229.7 52.1 230.9 48.8 234 45.9 C237.6 42.5 241.3 40.7 246 38.9 C251.5 36.7 256.2 36.2 262 34.9 C267 33.7 271.1 33.6 276 31.9 C280.6 30.3 283.5 27.8 288 25.9 C292.2 24.1 295.5 22.2 300 21.9 C302.4 21.8 305.5 22.5 306 24.9 C306.6 27.7 303.8 29.6 302 31.9 C299.5 35.1 296.2 36.4 294 39.9 C292.4 42.4 291.4 45 292 47.9 C292.9 52 298.5 53.7 298 57.9 C297.6 61.5 292.3 61.2 290 63.9 C287.9 66.3 286.9 68.8 286 71.9 C284.7 76.1 285.1 79.7 284 83.9 C282.9 88.3 281.2 91.5 280 95.9 C279 99.4 281.2 104.1 278 105.9 C274.2 108.1 270.3 104.8 266 103.9 C261.6 103 258.4 101.5 254 100.9 C249.7 100.4 246.3 100.9 242 100.9 C237.7 100.9 234.3 101.5 230 100.9 C227 100.4 224.9 98.9 222 97.9 C219.9 97.1 217 97.9 216 95.9 C215 93.9 218.8 92 218 89.9 C217 87.5 213.9 87.6 212 85.9 C210.3 84.4 206.8 82.9 208 80.9 Z" fill="#f9b146"/>
<path d="M215 81.9 C214.4 79.1 219.9 79.9 222 77.9 C224.6 75.5 226.8 73.3 228 69.9 C229.4 65.8 227.8 62.1 229 57.9 C230 54.3 231.3 51.4 234 48.9 C237.6 45.5 241.4 43.8 246 41.9 C250.8 39.9 254.8 38.8 260 37.9 C265 37 269.1 38 274 36.9 C278.6 35.8 281.5 33.2 286 31.9 C288.8 31.1 292.7 28.3 294 30.9 C295.6 34.1 291.9 36.9 290 39.9 C287.5 43.8 284.9 46.3 282 49.9 C279.1 53.5 277.6 57 274 59.9 C270.2 62.9 265.8 62.9 262 65.9 C259.2 68.1 257.6 70.7 256 73.9 C254.7 76.6 255.9 79.6 254 81.9 C251.9 84.4 249.1 85 246 85.9 C241.8 87.2 238.4 87.7 234 87.9 C230.4 88.1 227.5 88 224 86.9 C220.5 85.8 215.8 85.5 215 81.9 Z" fill="#f3672c"/>
<path d="M231 61.9 C231 58.3 230 54.9 232 51.9 C234.4 48.2 238.1 47 242 44.9 C246.1 42.7 249.4 40.9 254 39.9 C258.2 39 261.8 38.9 266 39.9 C268 40.4 270.8 42 270 43.9 C268.7 47.2 264.3 47.2 262 49.9 C259.9 52.3 259.4 55 258 57.9 C256.6 60.8 256.2 63.5 254 65.9 C251.7 68.4 249.1 69.5 246 70.9 C243.3 72.1 241 73.1 238 72.9 C235.6 72.7 233.3 71.9 232 69.9 C230.4 67.5 231 64.8 231 61.9 Z" fill="#e03828"/>
<use href="#coast"/>
</g>
<rect x="0" y="0" width="354.8" height="302.5" fill="none" stroke="#000" stroke-width="2.15"/>
<text transform="translate(-61.65 293.20) scale(1.0100 1)" font-size="18.70">10°N</text>
<text transform="translate(-61.65 252.30) scale(1.0100 1)" font-size="18.70">15°N</text>
<text transform="translate(-61.65 211.40) scale(1.0100 1)" font-size="18.70">20°N</text>
<text transform="translate(-61.65 170.50) scale(1.0100 1)" font-size="18.70">25°N</text>
<text transform="translate(-61.65 129.60) scale(1.0100 1)" font-size="18.70">30°N</text>
<text transform="translate(-61.65 88.70) scale(1.0100 1)" font-size="18.70">35°N</text>
<text transform="translate(-61.65 47.80) scale(1.0100 1)" font-size="18.70">40°N</text>
<text transform="translate(-61.65 6.90) scale(1.0100 1)" font-size="18.70">45°N</text>
<text transform="translate(18.72 338.90) scale(1.0100 1)" font-size="18.70">90°E</text>
<text transform="translate(91.92 338.90) scale(1.0100 1)" font-size="18.70">100°E</text>
<text transform="translate(171.30 338.90) scale(1.0100 1)" font-size="18.70">110°E</text>
<text transform="translate(249.32 338.90) scale(1.0100 1)" font-size="18.70">120°E</text>
<text transform="translate(328.02 338.90) scale(1.0100 1)" font-size="18.70">130°E</text>
<path d="M-9.2 286.3 H0 M-9.2 245.4 H0 M-9.2 204.5 H0 M-9.2 163.6 H0 M-9.2 122.7 H0 M-9.2 81.8 H0 M-9.2 40.9 H0 M-9.2 0 H0 M39.4 302.5 v9.2 M118 302.5 v9.2 M196.8 302.5 v9.2 M275.4 302.5 v9.2 M354.1 302.5 v9.2" stroke="#000" stroke-width="1.95" fill="none"/>
<text transform="translate(8.42 -22.10) scale(1.0009 1)" font-size="39.60">(e)</text>
<text transform="translate(156.60 -22.10) scale(0.9790 1)" font-size="40.60">Jul</text>
</g>
<g transform="translate(966 469.1)">
<g clip-path="url(#pc)">
<rect x="0" y="0" width="354.8" height="302.5" fill="#86c5eb"/>
<path d="M-10 -8.1 C-10 -8.1 364 -8.1 364 -8.1 C364 -8.1 364 157.9 364 157.9 C364 157.9 351 162.6 344 165.9 C340.2 167.7 337 168.9 334 171.9 C331.7 174.2 332.8 178.2 330 179.9 C324.9 183 319.4 181.4 314 183.9 C308.4 186.5 305.4 190.8 300 193.9 C295.2 196.6 291.1 197.9 286 199.9 C281.7 201.5 278.2 202.1 274 203.9 C269.5 205.8 266.4 207.9 262 209.9 C257.7 211.8 254.6 214.3 250 214.9 C241.4 216.1 234.6 214.9 226 214.9 C218.8 214.9 213.2 214.7 206 214.9 C198.8 215.1 193.2 215.7 186 215.9 C180.2 216.1 175.7 216.8 170 215.9 C166.8 215.4 164.5 214 162 211.9 C160 210.2 159.6 208 158 205.9 C155.2 202.2 152.7 199.6 150 195.9 C146.9 191.7 143.9 188.7 142 183.9 C140.2 179.1 141.7 174.7 140 169.9 C138.8 166.5 135.7 165 134 161.9 C132.1 158.5 130.4 155.8 130 151.9 C129.7 148.9 130.1 146.2 132 143.9 C133.4 142.1 136.6 143.7 138 141.9 C140.3 138.9 141 135.7 141 131.9 C141 128.1 137.8 125.7 138 121.9 C138.2 118 140.3 115.4 142 111.9 C143.9 108.1 146.3 105.7 148 101.9 C149.9 97.8 151.6 94.4 152 89.9 C152.3 86.2 151.8 83.1 150 79.9 C148 76.3 145.2 74.4 142 71.9 C138.7 69.3 133.6 69.8 132 65.9 C131 63.5 138.5 64.4 138 61.9 C137.3 58.4 133.1 57.7 130 55.9 C124.4 52.7 120.1 50.1 114 47.9 C107 45.4 101.4 43.7 94 42.9 C88.3 42.3 83.7 42.7 78 43.9 C73.1 44.9 67 44.3 65 48.9 C63.4 52.7 69.3 54.8 72 57.9 C74.7 61 78 62.3 80 65.9 C80.6 67 79.3 69 78 68.9 C71.4 68.6 66.4 66.6 60 64.9 C54.2 63.4 49.9 61.1 44 59.9 C37.6 58.6 32.5 57.5 26 57.9 C20.1 58.2 15.8 60.5 10 61.9 C2.8 63.7 -10 66.9 -10 66.9 C-10 66.9 -10 -8.1 -10 -8.1 Z" fill="#5196d0"/>
<path d="M40 -8.1 C40 -8.1 40.5 0.3 38 3.9 C35 8.2 23.9 7.2 26 11.9 C28.3 17.2 36.2 12.6 42 12.9 C48.5 13.3 53.5 13.2 60 13.9 C66.5 14.6 71.5 17.8 78 16.9 C80.6 16.5 79.4 11.2 82 10.9 C84.8 10.6 85.3 15.3 88 15.9 C97.2 17.9 104.6 17.1 114 17.9 C121.2 18.5 126.8 19.2 134 19.9 C141.2 20.6 146.8 22.4 154 21.9 C161.4 21.3 166.7 18.2 174 16.9 C181.1 15.7 186.9 16.3 194 14.9 C199.9 13.7 204.1 11.2 210 9.9 C215.7 8.7 220.2 8.5 226 7.9 C233.2 7.1 238.8 6.7 246 5.9 C251.8 5.3 257.1 7 262 3.9 C266.1 1.3 268 -8.1 268 -8.1 C268 -8.1 40 -8.1 40 -8.1 Z" fill="#86c5eb"/>
<path d="M-10 7.9 C-10 7.9 0.4 9.2 6 10.9 C10.2 12.1 17 11.6 17 15.9 C17 20 10.1 18.3 6 18.9 C0.3 19.7 -10 19.9 -10 19.9 C-10 19.9 -10 7.9 -10 7.9 Z" fill="#86c5eb"/>
<path d="M-10 143.9 C-10 143.9 5.4 145.7 14 146.9 C21.2 147.9 26.8 149.1 34 149.9 C42.6 150.9 50.5 147.6 58 151.9 C61.6 154 49 153.8 48 157.9 C47 162 53.1 163.8 54 167.9 C55 172.1 51.9 175.7 53 179.9 C54.2 184.8 57.1 187.8 60 191.9 C63.3 196.5 66.7 199.4 70 203.9 C72.5 207.3 73.8 210.3 76 213.9 C78.2 217.5 81.1 219.8 82 223.9 C82.6 226.8 80 228.9 80 231.9 C80 235.6 82.4 238.2 82 241.9 C81.6 245.8 78.9 248.1 78 251.9 C76.7 257.6 76.8 262.2 76 267.9 C75.4 272.2 75.4 275.7 74 279.9 C72.5 284.5 71 288.1 68 291.9 C65.1 295.5 60.6 296.1 58 299.9 C55.4 303.6 54 311.9 54 311.9 C54 311.9 -10 311.9 -10 311.9 C-10 311.9 -10 143.9 -10 143.9 Z" fill="#5196d0"/>
<path d="M-10 147.9 C-10 147.9 5.5 149.1 14 150.9 C19.2 152 24.2 152.1 28 155.9 C31.1 159 30.5 163.5 31 167.9 C31.6 172.9 31.2 176.9 31 181.9 C30.8 186.9 30.5 190.9 30 195.9 C29.4 201.7 28 206.1 28 211.9 C28 216.3 30.4 219.5 30 223.9 C29.6 228.4 28.4 232.1 26 235.9 C23.3 240.2 20.1 242.9 16 245.9 C12.1 248.7 8.6 250.4 4 251.9 C-0.9 253.5 -10 254.3 -10 254.3 C-10 254.3 -10 147.9 -10 147.9 Z" fill="#4ba483"/>
<path d="M-10 83.9 C-10 83.9 5.3 80.9 14 79.9 C21.2 79.1 26.8 78.9 34 78.9 C41.2 78.9 46.8 79.9 54 79.9 C61.2 79.9 66.8 79.4 74 78.9 C81.2 78.4 86.9 78.4 94 76.9 C99.2 75.8 102.6 71.9 108 71.9 C112 71.9 114.3 75.4 118 76.9 C122.2 78.6 126.7 77.8 130 80.9 C133.1 83.8 133.7 87.7 134 91.9 C134.4 97 132.8 100.9 132 105.9 C131.3 110.2 130.7 113.6 130 117.9 C129.3 122.2 130.3 126.1 128 129.9 C125.6 133.9 121.7 135.1 118 137.9 C114.5 140.5 112.3 143.9 108 144.9 C105 145.6 103 142.6 100 141.9 C97.2 141.2 94.7 142 92 140.9 C87.4 139 85 134.6 80 133.9 C76.2 133.4 73.5 136.3 70 137.9 C65.6 139.9 62.7 143 58 143.9 C49.5 145.6 42.6 145 34 144.9 C26.8 144.8 21.2 144.4 14 143.5 C5.3 142.4 -10 139.3 -10 139.3 C-10 139.3 -10 83.9 -10 83.9 Z" fill="#c5e8fa"/>
<path d="M-10 21.9 C-10 21.9 5.4 22.3 14 21.9 C21.2 21.6 26.8 19.9 34 19.9 C37 19.9 39.7 20 42 21.9 C43.8 23.3 42.2 26.5 44 27.9 C48.4 31.2 53 31.6 58 33.9 C62.4 35.9 72 35.5 70 39.9 C67.6 45.3 59.7 41.6 54 42.9 C46.8 44.5 41.1 45.6 34 47.9 C26.6 50.3 21.3 53.2 14 55.9 C5.4 59.1 -10 64.3 -10 64.3 C-10 64.3 -10 21.9 -10 21.9 Z" fill="#4ba483"/>
<path d="M-10 26.9 C-10 26.9 5.5 26.5 14 27.9 C21.4 29.1 27 31.3 34 33.9 C38.5 35.6 47.7 35.4 46 39.9 C43.9 45.6 35.7 42.8 30 44.9 C24.1 47.1 19.8 49.5 14 51.9 C5.4 55.4 -10 61.3 -10 61.3 C-10 61.3 -10 26.9 -10 26.9 Z" fill="#6bc04b"/>
<path d="M-10 30.9 C-10 30.9 0.4 31.4 6 32.9 C11.3 34.3 15 36.6 20 38.9 C23.7 40.6 32.1 40.4 30 43.9 C26.9 49.1 19.7 46.9 14 48.9 C5.3 52 -10 58.3 -10 58.3 C-10 58.3 -10 30.9 -10 30.9 Z" fill="#dbdf5a"/>
<path d="M131 147.9 C127.8 145.5 134.7 141.7 136 137.9 C137.2 134.4 138 131.6 138 127.9 C138 124.9 135.4 122.8 136 119.9 C136.9 115.8 139.4 113.2 142 109.9 C144.5 106.7 146.8 104.4 150 101.9 C153.3 99.3 156.9 98.7 160 95.9 C164.2 92.1 168.2 89.2 170 83.9 C171.4 79.7 169.8 75.9 168 71.9 C166.1 67.7 162.4 65.8 160 61.9 C158.4 59.3 155.5 56.6 157 53.9 C159.2 50 163.8 49.6 168 47.9 C172.9 46 177.6 46.8 182 43.9 C184.7 42.1 183.1 37.2 186 35.9 C191.3 33.5 196.3 35.5 202 34.9 C209.2 34.1 214.9 33.3 222 31.9 C227.8 30.8 232.2 29.3 238 27.9 C243.8 26.5 248.2 25.3 254 23.9 C259.8 22.5 264.5 22 270 19.9 C273.9 18.4 276.7 16.5 280 13.9 C283.2 11.4 285.8 9.3 288 5.9 C290.9 1.3 294 -8.1 294 -8.1 C294 -8.1 338 -8.1 338 -8.1 C338 -8.1 336.4 5 334 11.9 C332.1 17.4 327.3 20.2 326 25.9 C325 30.2 326.2 33.9 328 37.9 C329.9 42.1 333.6 43.9 336 47.9 C338 51.2 338.6 54.3 340 57.9 C341.4 61.5 344.7 64.1 344 67.9 C343.1 73 339.5 76.1 336 79.9 C331.5 84.8 327.1 87.7 322 91.9 C318.5 94.9 314.9 96.3 312 99.9 C309 103.7 307.9 107.5 306 111.9 C303.6 117.6 302.8 122.4 300 127.9 C297 134 294 138.4 290 143.9 C286.1 149.3 282.3 152.9 278 157.9 C273.7 162.9 270.5 167 266 171.9 C261.9 176.4 258.7 180 254 183.9 C250 187.2 246.8 189.9 242 191.9 C236.5 194.2 231.8 194.8 226 195.9 C220.3 197 215.8 197.9 210 197.9 C204.2 197.9 199.8 196.3 194 195.9 C189 195.6 185 195.9 180 195.9 C175.7 195.9 172.1 197.4 168 195.9 C163.7 194.3 158.6 192.5 158 187.9 C157.5 183.9 164.8 183.8 166 179.9 C167.3 175.7 164 172.3 164 167.9 C164 164.2 164.7 161.3 166 157.9 C166.9 155.5 171.3 154.1 170 151.9 C168 148.6 163.5 149.6 160 147.9 C157.7 146.7 156.5 144.5 154 143.9 C150.5 143 147.5 143.3 144 143.9 C139.2 144.7 134.9 150.8 131 147.9 Z" fill="#4ba483"/>
<path d="M334 43.9 C335.4 40.5 340.5 40.9 344 41.9 C346.5 42.6 349 45.5 348 47.9 C346.8 50.9 343.1 52.8 340 51.9 C336.5 50.9 332.7 47.2 334 43.9 Z" fill="#6bc04b"/>
<path d="M172 83.9 C173 80.4 175 77.9 178 75.9 C181.8 73.4 186.8 75.1 190 71.9 C193.2 68.7 191.8 63.9 194 59.9 C196.2 55.9 197.9 52 202 49.9 C205.9 48 209.7 49.5 214 49.9 C217 50.2 219.3 53.1 222 51.9 C225.3 50.5 225.3 46.3 228 43.9 C231.2 41.1 234.1 39.5 238 37.9 C243.6 35.5 248.1 34 254 32.9 C259.7 31.8 264.4 33.3 270 31.9 C274.7 30.7 277.8 28.3 282 25.9 C286.5 23.3 289.3 20.1 294 17.9 C298 16 301.7 13.9 306 14.9 C309.2 15.6 311.6 18.6 312 21.9 C312.5 25.8 308 28 308 31.9 C308 35.1 312.4 36.7 312 39.9 C311.5 44.1 308 46.2 306 49.9 C303.7 54.1 302 57.5 300 61.9 C298.4 65.4 297 68.2 296 71.9 C294.8 76.1 294.3 79.5 294 83.9 C293.6 88.9 294.4 92.9 294 97.9 C293.6 103 293.5 107 292 111.9 C290.6 116.5 288.8 119.9 286 123.9 C283.7 127.2 281.6 130.1 278 131.9 C274.1 133.9 270.1 132.3 266 133.9 C262.7 135.2 260.9 137.7 258 139.9 C255.1 142.1 252.7 143.6 250 145.9 C247.7 147.9 245.4 149.2 244 151.9 C242.4 155.2 243.1 158.4 242 161.9 C240.9 165.6 240.7 169.2 238 171.9 C234.6 175.3 230.5 176.2 226 177.9 C221.8 179.5 218.5 180.9 214 180.9 C209.5 180.9 206.4 178.8 202 177.9 C197.7 177 193.8 178.1 190 175.9 C187.1 174.2 185.4 171.3 185 167.9 C184.6 164.2 186.5 161.3 188 157.9 C189 155.5 191.6 154.5 192 151.9 C192.4 149 190.9 146.7 190 143.9 C188.8 140.2 186 137.8 186 133.9 C186 131.3 187.9 129.4 190 127.9 C193.2 125.6 197.3 126.6 200 123.9 C202.1 121.8 202 118.9 202 115.9 C202 112.9 202.1 110 200 107.9 C197.3 105.2 193.8 104.5 190 103.9 C186.4 103.4 183.5 105.8 180 104.9 C177.3 104.2 176.6 101 174 99.9 C170.6 98.4 164 101.6 164 97.9 C164 93.3 171.7 93.9 174 89.9 C175.1 87.9 171.4 86.1 172 83.9 Z" fill="#6bc04b"/>
<path d="M141 121.9 C140.8 118.1 141.8 114.9 144 111.9 C146.7 108.2 149.8 105.8 154 103.9 C158 102.1 161.6 101.5 166 101.9 C170.5 102.3 174.3 103.3 178 105.9 C180.8 107.9 183 110.5 183 113.9 C183 117.9 179.9 120.4 178 123.9 C176 127.6 174.9 130.8 172 133.9 C169.7 136.4 167.3 138.2 164 138.9 C159.7 139.8 156.1 139.4 152 137.9 C148.9 136.8 146.9 134.6 145 131.9 C142.8 128.7 141.2 125.8 141 121.9 Z" fill="#6bc04b"/>
<path d="M143 121.9 C143.4 118.7 144.8 116.3 147 113.9 C149.6 111 152.4 109.3 156 107.9 C159 106.7 162 105.7 165 106.9 C168.1 108.1 169.9 110.8 171 113.9 C172.2 117.3 171.9 120.4 171 123.9 C170.1 127.5 168.6 130.3 166 132.9 C163.7 135.2 161.2 136.7 158 136.9 C154.9 137.1 152.6 135.5 150 133.9 C147.8 132.6 146.3 131.1 145 128.9 C143.7 126.6 142.7 124.5 143 121.9 Z" fill="#dbdf5a"/>
<path d="M145 121.9 C145.2 119.6 147 118 149 116.9 C151.2 115.7 153.6 115.1 156 115.9 C158.4 116.7 160.3 118.5 161 120.9 C161.9 124 161.6 127.1 160 129.9 C158.8 132 156.4 132.9 154 132.9 C151.6 132.9 149.5 131.8 148 129.9 C146.1 127.5 144.8 125 145 121.9 Z" fill="#f9b146"/>
<path d="M224 153.9 C225.1 152.3 227.2 151.2 229 151.9 C231 152.6 232.2 154.8 232 156.9 C231.8 158.9 230 160.4 228 160.9 C226.4 161.3 224.8 160.3 224 158.9 C223.1 157.3 223 155.4 224 153.9 Z" fill="#4ba483"/>
<path d="M210 164.9 C211.6 163.3 213.9 162.1 216 162.9 C217.4 163.5 216 165.9 215 166.9 C214 167.9 212.4 168.5 211 167.9 C209.9 167.5 209.2 165.7 210 164.9 Z" fill="#4ba483"/>
<path d="M194 152.9 C195.1 151.5 197.4 151.1 199 151.9 C200.3 152.6 200.9 154.7 200 155.9 C198.9 157.3 196.6 157.7 195 156.9 C193.7 156.2 193.1 154.1 194 152.9 Z" fill="#4ba483"/>
<path d="M180 84.9 C182.4 81.7 186.4 81.7 190 79.9 C192.9 78.5 195.3 77.7 198 75.9 C201.8 73.3 204.4 70.8 208 67.9 C211.6 65 215.9 64 218 59.9 C219.3 57.2 213.6 53.7 216 51.9 C218.9 49.7 222.6 55.3 226 53.9 C229 52.6 227.9 48.3 230 45.9 C232.3 43.2 234.8 41.5 238 39.9 C242.1 37.9 245.5 36.8 250 35.9 C254.2 35 257.7 34.5 262 34.9 C266.4 35.3 269.6 38.1 274 37.9 C277.9 37.7 280.1 34.1 284 33.9 C286.4 33.7 289.6 34.5 290 36.9 C290.6 40.4 288 42.9 286 45.9 C284.3 48.4 280 48.8 280 51.9 C280 55 286 54.8 286 57.9 C286 61.5 282.2 63.1 280 65.9 C277.2 69.5 273.9 71.7 272 75.9 C270.8 78.5 270.9 81.2 272 83.9 C273.9 88.7 277.4 91.4 280 95.9 C282.4 100.1 283.8 103.6 286 107.9 C287.4 110.8 291 112.8 290 115.9 C289 119 285.2 119.6 282 119.9 C277.6 120.3 274.4 117.9 270 117.9 C266.3 117.9 263.4 118.4 260 119.9 C256.7 121.4 255.4 124.7 252 125.9 C247.2 127.6 243 127.1 238 127.9 C234.4 128.5 230.9 127.7 228 129.9 C224.6 132.4 224.7 136.7 222 139.9 C220.3 141.9 218.6 144.3 216 143.9 C213 143.4 212.2 140.1 210 137.9 C207.8 135.7 205.1 134.8 204 131.9 C202.7 128.5 203.3 125.4 204 121.9 C204.8 118.1 208 115.8 208 111.9 C208 108.7 205.3 106.8 204 103.9 C202.4 100.4 202.3 97.1 200 93.9 C198.5 91.8 196.4 90.8 194 89.9 C190.6 88.6 187.5 89.1 184 87.9 C182.3 87.3 178.9 86.3 180 84.9 Z" fill="#dbdf5a"/>
<path d="M239 112.9 C239.7 111.5 241.4 110.7 243 110.9 C245.1 111.1 247.7 111.8 248 113.9 C248.3 115.9 245.9 117.2 244 117.9 C242.6 118.4 241 117.9 240 116.9 C239 115.9 238.3 114.2 239 112.9 Z" fill="#6bc04b"/>
<path d="M197 79.9 C198.6 76.3 202.4 75.3 206 73.9 C210.1 72.3 214.1 73.9 218 71.9 C221.6 70.1 223.9 67.4 226 63.9 C228.3 60 227.7 55.8 230 51.9 C232.1 48.4 234.6 46.1 238 43.9 C241.9 41.3 245.4 39.9 250 38.9 C254.2 38 257.8 37.9 262 38.9 C265.9 39.8 269.6 40.6 272 43.9 C273.3 45.7 271.6 48.3 270 49.9 C267 52.9 263 52.9 260 55.9 C257 58.9 254.4 61.7 254 65.9 C253.6 69.8 256.3 72.4 258 75.9 C259.9 79.7 263.2 81.8 264 85.9 C264.7 89.5 264 92.8 262 95.9 C260.1 98.7 257.2 99.8 254 100.9 C249.9 102.3 246.3 102.4 242 102.9 C237.7 103.4 234.2 102.7 230 103.9 C225.4 105.3 222.8 109.4 218 109.9 C214.8 110.2 212.6 107.8 210 105.9 C207.5 104.1 204.4 102.9 204 99.9 C203.5 96.7 205.9 94.4 208 91.9 C209.7 89.9 213.4 90.4 214 87.9 C214.5 85.9 211.9 84.7 210 83.9 C207.3 82.8 204.8 83.8 202 82.9 C200 82.3 196.1 81.8 197 79.9 Z" fill="#f9b146"/>
<path d="M214 81.9 C215.2 78.9 219.4 79.8 222 77.9 C224.5 76.1 226.6 74.6 228 71.9 C229.6 68.6 229.3 65.5 230 61.9 C230.7 58.3 230.1 55 232 51.9 C233.9 48.8 236.9 47.8 240 45.9 C243.4 43.8 246 41.4 250 40.9 C252.7 40.6 255.9 41.4 257 43.9 C258.5 47.2 257 50.4 256 53.9 C255.1 57 253.3 59 252 61.9 C250.4 65.4 249.2 68.2 248 71.9 C247.1 74.7 247.6 77.4 246 79.9 C243.8 83.4 241.1 85.2 238 87.9 C235.3 90.3 233.4 92.6 230 93.9 C227.3 94.9 224.6 95.2 222 93.9 C219.7 92.7 219.4 90.1 218 87.9 C216.6 85.7 213 84.3 214 81.9 Z" fill="#f3672c"/>
<use href="#coast"/>
</g>
<rect x="0" y="0" width="354.8" height="302.5" fill="none" stroke="#000" stroke-width="2.15"/>
<text transform="translate(-61.65 293.20) scale(1.0100 1)" font-size="18.70">10°N</text>
<text transform="translate(-61.65 252.30) scale(1.0100 1)" font-size="18.70">15°N</text>
<text transform="translate(-61.65 211.40) scale(1.0100 1)" font-size="18.70">20°N</text>
<text transform="translate(-61.65 170.50) scale(1.0100 1)" font-size="18.70">25°N</text>
<text transform="translate(-61.65 129.60) scale(1.0100 1)" font-size="18.70">30°N</text>
<text transform="translate(-61.65 88.70) scale(1.0100 1)" font-size="18.70">35°N</text>
<text transform="translate(-61.65 47.80) scale(1.0100 1)" font-size="18.70">40°N</text>
<text transform="translate(-61.65 6.90) scale(1.0100 1)" font-size="18.70">45°N</text>
<text transform="translate(18.72 338.90) scale(1.0100 1)" font-size="18.70">90°E</text>
<text transform="translate(91.92 338.90) scale(1.0100 1)" font-size="18.70">100°E</text>
<text transform="translate(171.30 338.90) scale(1.0100 1)" font-size="18.70">110°E</text>
<text transform="translate(249.32 338.90) scale(1.0100 1)" font-size="18.70">120°E</text>
<text transform="translate(328.02 338.90) scale(1.0100 1)" font-size="18.70">130°E</text>
<path d="M-9.2 286.3 H0 M-9.2 245.4 H0 M-9.2 204.5 H0 M-9.2 163.6 H0 M-9.2 122.7 H0 M-9.2 81.8 H0 M-9.2 40.9 H0 M-9.2 0 H0 M39.4 302.5 v9.2 M118 302.5 v9.2 M196.8 302.5 v9.2 M275.4 302.5 v9.2 M354.1 302.5 v9.2" stroke="#000" stroke-width="1.95" fill="none"/>
<text transform="translate(3.65 -22.10) scale(0.9885 1)" font-size="39.60">(f)</text>
<text transform="translate(154.80 -22.10) scale(0.9636 1)" font-size="40.60">Aug</text>
</g>
<rect x="274" y="834.2" width="66.5" height="19.5" fill="#ffffff" stroke="#222" stroke-width="1.15"/>
<rect x="340.4" y="834.2" width="66.5" height="19.5" fill="#c5e8fa" stroke="#222" stroke-width="1.15"/>
<rect x="406.9" y="834.2" width="66.5" height="19.5" fill="#86c5eb" stroke="#222" stroke-width="1.15"/>
<rect x="473.4" y="834.2" width="66.5" height="19.5" fill="#5196d0" stroke="#222" stroke-width="1.15"/>
<rect x="539.8" y="834.2" width="66.5" height="19.5" fill="#4ba483" stroke="#222" stroke-width="1.15"/>
<rect x="606.2" y="834.2" width="66.5" height="19.5" fill="#6bc04b" stroke="#222" stroke-width="1.15"/>
<rect x="672.7" y="834.2" width="66.5" height="19.5" fill="#dbdf5a" stroke="#222" stroke-width="1.15"/>
<rect x="739.2" y="834.2" width="66.5" height="19.5" fill="#f9b146" stroke="#222" stroke-width="1.15"/>
<rect x="805.6" y="834.2" width="66.5" height="19.5" fill="#f3672c" stroke="#222" stroke-width="1.15"/>
<rect x="872.1" y="834.2" width="66.5" height="19.5" fill="#e03828" stroke="#222" stroke-width="1.15"/>
<rect x="938.5" y="834.2" width="66.5" height="19.5" fill="#be1b26" stroke="#222" stroke-width="1.15"/>
<rect x="1005" y="834.2" width="66.5" height="19.5" fill="#8f161b" stroke="#222" stroke-width="1.15"/>
<text transform="translate(331.08 883.40) scale(1.0000 1)" font-size="33.60">0</text>
<text transform="translate(385.37 883.40) scale(0.9400 1)" font-size="33.60">0.1</text>
<text transform="translate(451.86 883.40) scale(0.9400 1)" font-size="33.60">0.2</text>
<text transform="translate(518.19 883.40) scale(0.9400 1)" font-size="33.60">0.3</text>
<text transform="translate(584.40 883.40) scale(0.9400 1)" font-size="33.60">0.4</text>
<text transform="translate(651.05 883.40) scale(0.9400 1)" font-size="33.60">0.5</text>
<text transform="translate(717.54 883.40) scale(0.9400 1)" font-size="33.60">0.6</text>
<text transform="translate(784.11 883.40) scale(0.9400 1)" font-size="33.60">0.7</text>
<text transform="translate(850.44 883.40) scale(0.9400 1)" font-size="33.60">0.8</text>
<text transform="translate(916.93 883.40) scale(0.9400 1)" font-size="33.60">0.9</text>
<text transform="translate(995.16 883.40) scale(1.0000 1)" font-size="33.60">1</text>
<text transform="translate(134.22 951.70) scale(0.9666 1)" font-size="44.40">(g)</text>
<text transform="translate(209.97 951.70) scale(0.9563 1)" font-size="44.40">Indochina mean (2004)</text>
<text transform="translate(32 1235.01) rotate(-90) scale(0.9250 1)" font-size="46">AOD</text>
<clipPath id="lc"><rect x="127.9" y="973.9" width="1194.1" height="421.7"/></clipPath>
<g clip-path="url(#lc)" fill="none" stroke-width="3.0" stroke-linejoin="round">
<path d="M128.3 1341.8 L134.8 1351.6 L141.3 1319.6 L147.9 1322.9 L154.4 1308.2 L160.9 1309 L167.4 1285.2 L173.9 1294.2 L180.5 1300.8 L187 1304.1 L193.5 1294.2 L200 1272.9 L206.6 1306.5 L213.1 1280.3 L219.6 1280.3 L226.1 1287.7 L232.6 1287.7 L239.2 1295 L245.7 1258.9 L252.2 1270.4 L258.7 1271.2 L265.2 1295 L271.8 1297.5 L278.3 1295 L284.8 1310.6 L291.3 1307.3 L297.8 1300 L304.4 1309 L310.9 1304.1 L317.4 1291.8 L323.9 1298.3 L330.5 1297.5 L337 1325.4 L343.5 1322.1 L350 1303.2 L356.5 1314.7 L363.1 1301.6 L369.6 1310.6 L376.1 1332.8 L382.6 1336.9 L389.1 1345.9 L395.7 1341 L402.2 1354.9 L408.7 1346.7 L415.2 1341 L421.7 1341 L428.3 1337.7 L434.8 1343.4 L441.3 1332.8 L447.8 1345.1 L454.4 1342.6 L460.9 1340.1 L467.4 1341 L473.9 1348.4 L480.4 1345.1 L487 1347.5 L493.5 1330.3 L500 1341 L506.5 1354.9 L513 1354.9 L519.6 1346.7 L526.1 1359.8 L532.6 1358.2 L539.1 1363.9 L545.6 1363.9 L552.2 1336.9 L558.7 1341 L565.2 1349.2 L571.7 1353.3 L578.2 1345.1 L584.8 1342.6 L591.3 1331.1 L597.8 1330.3 L604.3 1335.2 L610.9 1353.3 L617.4 1360.7 L623.9 1367.2 L630.4 1325.4 L636.9 1313.9 L643.5 1305.7 L650 1222 L656.5 1254.8 L663 1262.2 L669.5 1271.2 L676.1 1259.8 L682.6 1254.8 L689.1 1313.9 L695.6 1310.6 L702.1 1351.6 L708.7 1292.6 L715.2 1297.5 L721.7 1330.3 L728.2 1330.3 L734.8 1323.7 L741.3 1336.9 L747.8 1342.6 L754.3 1322.1 L760.8 1277.8 L767.4 1233.5 L773.9 1289.3 L780.4 1219.6 L786.9 1249.9 L793.4 1179.4 L800 1261.4 L806.5 1263 L813 1336.9 L819.5 1334.4 L826 1342.6 L832.6 1332.8 L839.1 1298.3 L845.6 1281.9 L852.1 1271.2 L858.7 1271.2 L865.2 1295 L871.7 1280.3 L878.2 1288.5 L884.7 1258.9 L891.3 1247.5 L897.8 1240.1 L904.3 1338.5 L910.8 1328.7 L917.3 1341 L923.9 1322.1 L930.4 1294.2 L936.9 1302.4 L943.4 1291.8 L949.9 1261.4 L956.5 1310.6 L963 1311.4 L969.5 1324.6 L976 1320.5 L982.6 1359.8 L989.1 1289.3 L995.6 1318.8 L1002.1 1327 L1008.6 1335.2 L1015.2 1350.8 L1021.7 1330.3 L1028.2 1349.2 L1034.7 1331.1 L1041.2 1336.9 L1047.8 1320.5 L1054.3 1278.6 L1060.8 1331.9 L1067.3 1313.9 L1073.8 1320.5 L1080.4 1275.3 L1086.9 1310.6 L1093.4 1292.6 L1099.9 1290.9 L1106.5 1318.8 L1113 1322.1 L1119.5 1357.4 L1126 1350 L1132.5 1369.7 L1139.1 1335.2 L1145.6 1338.5 L1152.1 1336 L1158.6 1333.6 L1165.1 1320.5 L1171.7 1266.3 L1178.2 1353.3 L1184.7 1345.1 L1191.2 1343.4 L1197.7 1287.7 L1204.3 1264.7 L1210.8 1254.8 L1217.3 1297.5 L1223.8 1320.5 L1230.3 1287.7 L1236.9 1304.1 L1243.4 1304.1 L1249.9 1282.7 L1256.4 1288.5 L1263 1320.5 L1269.5 1222 L1276 1336 L1282.5 1304.1 L1289 1295.9 L1295.6 1295.9 L1302.1 1287.7 L1308.6 1289.3 L1315.1 1312.3" stroke="#ff0000" stroke-dasharray="19.5 6 7 5.5"/>
<path d="M128.3 1345.1 L134.8 1354.1 L141.3 1323.7 L147.9 1310.6 L154.4 1323.7 L160.9 1313.9 L167.4 1288.5 L173.9 1298.3 L180.5 1305.7 L187 1308.2 L193.5 1301.6 L200 1280.3 L206.6 1287.7 L213.1 1285.2 L219.6 1270.4 L226.1 1292.6 L232.6 1291.8 L239.2 1299.1 L245.7 1262.2 L252.2 1274.5 L258.7 1275.3 L265.2 1295 L271.8 1307.3 L278.3 1306.5 L284.8 1321.3 L291.3 1310.6 L297.8 1313.9 L304.4 1272.9 L310.9 1302.4 L317.4 1298.3 L323.9 1301.6 L330.5 1301.6 L337 1328.7 L343.5 1325.4 L350 1303.2 L356.5 1318 L363.1 1307.3 L369.6 1310.6 L376.1 1334.4 L382.6 1339.3 L389.1 1349.2 L395.7 1344.3 L402.2 1355.7 L408.7 1339.3 L415.2 1345.1 L421.7 1345.1 L428.3 1350 L434.8 1351.6 L441.3 1344.3 L447.8 1349.2 L454.4 1350.8 L460.9 1348.4 L467.4 1346.7 L473.9 1354.9 L480.4 1351.6 L487 1355.7 L493.5 1336 L500 1346.7 L506.5 1360.7 L513 1359.8 L519.6 1358.2 L526.1 1344.3 L532.6 1369.7 L539.1 1366.4 L545.6 1356.6 L552.2 1336 L558.7 1341 L565.2 1347.5 L571.7 1355.7 L578.2 1356.2 L584.8 1340.1 L591.3 1331.9 L597.8 1331.1 L604.3 1335.2 L610.9 1351.6 L617.4 1354.9 L623.9 1351.6 L630.4 1333.6 L636.9 1316.4 L643.5 1325.4 L650 1231.1 L656.5 1284.4 L663 1300 L669.5 1294.2 L676.1 1269.6 L682.6 1258.1 L689.1 1318.8 L695.6 1310.6 L702.1 1350 L708.7 1310.6 L715.2 1316.4 L721.7 1350 L728.2 1328.7 L734.8 1322.9 L741.3 1342.6 L747.8 1350.8 L754.3 1336 L760.8 1288.5 L767.4 1244.2 L773.9 1298.3 L780.4 1230.2 L786.9 1261.4 L793.4 1194.1 L800 1269.6 L806.5 1331.9 L813 1310.6 L819.5 1339.3 L826 1331.1 L832.6 1331.1 L839.1 1295 L845.6 1287.7 L852.1 1276.2 L858.7 1271.2 L865.2 1287.7 L871.7 1276.2 L878.2 1294.2 L884.7 1264.7 L891.3 1251.6 L897.8 1276.2 L904.3 1317.2 L910.8 1348.4 L917.3 1328.7 L923.9 1320.5 L930.4 1297.5 L936.9 1310.6 L943.4 1266.3 L949.9 1264.7 L956.5 1343.4 L963 1334.4 L969.5 1349.2 L976 1343.4 L982.6 1376.2 L989.1 1320.5 L995.6 1343.4 L1002.1 1353.3 L1008.6 1361.5 L1015.2 1373 L1021.7 1350 L1028.2 1374.6 L1034.7 1351.6 L1041.2 1351.6 L1047.8 1336.9 L1054.3 1292.6 L1060.8 1345.1 L1067.3 1328.7 L1073.8 1333.6 L1080.4 1297.5 L1086.9 1317.2 L1093.4 1302.4 L1099.9 1300.8 L1106.5 1327 L1113 1331.9 L1119.5 1362.3 L1126 1358.2 L1132.5 1377.1 L1139.1 1335.2 L1145.6 1338.5 L1152.1 1336 L1158.6 1333.6 L1165.1 1346.7 L1171.7 1351.6 L1178.2 1368.9 L1184.7 1351.6 L1191.2 1345.1 L1197.7 1290.9 L1204.3 1271.2 L1210.8 1256.5 L1217.3 1312.3 L1223.8 1323.7 L1230.3 1294.2 L1236.9 1335.2 L1243.4 1304.1 L1249.9 1320.5 L1256.4 1328.7 L1263 1295.9 L1269.5 1225.3 L1276 1312.3 L1282.5 1302.4 L1289 1323.7 L1295.6 1310.6 L1302.1 1287.7 L1308.6 1294.2 L1315.1 1330.3" stroke="#0000ff" stroke-dasharray="19.5 6 7 5.5"/>
<path d="M128.3 1240.1 L134.8 1265.5 L141.3 1178.2 L147.9 1139.6 L154.4 1135.5 L160.9 1127.3 L167.4 1056.8 L173.9 1096.2 L180.5 1130.6 L187 1134.7 L193.5 1110.1 L200 1045.6 L206.6 1071.6 L213.1 1063.4 L219.6 1059.3 L226.1 1090.4 L232.6 1088 L239.2 1106 L245.7 1000.2 L252.2 1022.3 L258.7 1026.4 L265.2 1030.5 L271.8 1084.7 L278.3 1076.5 L284.8 1125.7 L291.3 1096.2 L297.8 1111.8 L304.4 980.5 L310.9 1087.1 L317.4 1058.4 L323.9 1085.4 L330.5 1082.1 L337 1165.8 L343.5 1155.2 L350 1088.7 L356.5 1151.9 L363.1 1110 L369.6 1125.6 L376.1 1194.5 L382.6 1210.1 L389.1 1235.5 L395.7 1221.6 L402.2 1252.8 L408.7 1206 L415.2 1224.1 L421.7 1229 L428.3 1244.6 L434.8 1251.9 L441.3 1227.7 L447.8 1238 L454.4 1248.7 L460.9 1239.6 L467.4 1231.4 L473.9 1258.5 L480.4 1248.7 L487 1264.3 L493.5 1204.4 L500 1230.6 L506.5 1280.7 L513 1279.8 L519.6 1288 L526.1 1278.2 L532.6 1286 L539.1 1294.2 L545.6 1256.5 L552.2 1255.7 L558.7 1267.1 L565.2 1300 L571.7 1303.2 L578.2 1295 L584.8 1276.2 L591.3 1254.8 L597.8 1252.9 L604.3 1260.6 L610.9 1296.7 L617.4 1295 L623.9 1289.3 L630.4 1267.1 L636.9 1302.4 L643.5 1184 L650 1195 L656.5 1253.2 L663 1262.2 L669.5 1257.3 L676.1 1228.6 L682.6 1231.9 L689.1 1284.4 L695.6 1277 L702.1 1320.5 L708.7 1289 L715.2 1295 L721.7 1328.7 L728.2 1329.5 L734.8 1322.1 L741.3 1335.2 L747.8 1341 L754.3 1320.5 L760.8 1276.2 L767.4 1231.9 L773.9 1287.7 L780.4 1217.9 L786.9 1248.3 L793.4 1151.5 L800 1238.4 L806.5 1333.6 L813 1306.5 L819.5 1331.9 L826 1341.8 L832.6 1331.9 L839.1 1297.5 L845.6 1281.1 L852.1 1270.4 L858.7 1270.4 L865.2 1294.2 L871.7 1279.4 L878.2 1287.7 L884.7 1258.1 L891.3 1246.6 L897.8 1254.8 L904.3 1337.7 L910.8 1341.8 L917.3 1317.2 L923.9 1310.6 L930.4 1284.4 L936.9 1304.1 L943.4 1290.9 L949.9 1259.8 L956.5 1312.3 L963 1304.9 L969.5 1318 L976 1313.9 L982.6 1353.3 L989.1 1282.7 L995.6 1312.3 L1002.1 1320.5 L1008.6 1328.7 L1015.2 1344.3 L1021.7 1323.7 L1028.2 1342.6 L1034.7 1324.6 L1041.2 1330.3 L1047.8 1313.9 L1054.3 1272.1 L1060.8 1325.4 L1067.3 1307.3 L1073.8 1313.9 L1080.4 1268.8 L1086.9 1304.1 L1093.4 1286 L1099.9 1284.4 L1106.5 1312.3 L1113 1315.5 L1119.5 1350.8 L1126 1343.4 L1132.5 1363.1 L1139.1 1318 L1145.6 1321.3 L1152.1 1318.8 L1158.6 1315.2 L1165.1 1328.7 L1171.7 1336.9 L1178.2 1354.1 L1184.7 1336 L1191.2 1334.4 L1197.7 1281.1 L1204.3 1254.8 L1210.8 1243.4 L1217.3 1290.9 L1223.8 1318.8 L1230.3 1271.2 L1236.9 1297.5 L1243.4 1300 L1249.9 1284.4 L1256.4 1287.7 L1263 1324.6 L1269.5 1266.3 L1276 1310.6 L1282.5 1272.9 L1289 1293.4 L1295.6 1288.5 L1302.1 1259.8 L1308.6 1268 L1315.1 1309" stroke="#ff0000"/>
<path d="M128.3 1243.4 L134.8 1268 L141.3 1179.8 L147.9 1143.7 L154.4 1183.9 L160.9 1145.4 L167.4 1065 L173.9 1102.7 L180.5 1125.7 L187 1132.3 L193.5 1112.6 L200 1133.1 L206.6 1045.3 L213.1 1074.8 L219.6 1069.1 L226.1 1096.2 L232.6 1091.2 L239.2 1113.4 L245.7 1006.8 L252.2 1024.8 L258.7 1014.1 L265.2 1028.1 L271.8 1099.4 L278.3 1091.2 L284.8 1134.7 L291.3 1110.9 L297.8 1118.3 L304.4 994.5 L310.9 1101.9 L317.4 1076.5 L323.9 1107.6 L330.5 1105.1 L337 1186.3 L343.5 1175.7 L350 1111.7 L356.5 1159.3 L363.1 1118.2 L369.6 1135.5 L376.1 1202.7 L382.6 1217.5 L389.1 1251.9 L395.7 1238 L402.2 1268.4 L408.7 1223.2 L415.2 1240.5 L421.7 1246.2 L428.3 1262.6 L434.8 1270.8 L441.3 1247 L447.8 1255.2 L454.4 1255.6 L460.9 1254.9 L467.4 1238.8 L473.9 1265.9 L480.4 1264.3 L487 1260.5 L493.5 1192.9 L500 1224.1 L506.5 1276.6 L513 1275.2 L519.6 1281.5 L526.1 1272.9 L532.6 1279.4 L539.1 1285.2 L545.6 1247.9 L552.2 1247 L558.7 1271.2 L565.2 1301.6 L571.7 1317.2 L578.2 1297.5 L584.8 1292.6 L591.3 1271.2 L597.8 1269.6 L604.3 1277 L610.9 1313.1 L617.4 1310.6 L623.9 1305.7 L630.4 1283.5 L636.9 1318 L643.5 1200.7 L650 1220.4 L656.5 1191.7 L663 1266.3 L669.5 1273.7 L676.1 1242.5 L682.6 1246.6 L689.1 1301.6 L695.6 1295 L702.1 1341.8 L708.7 1308.2 L715.2 1313.9 L721.7 1349.2 L728.2 1327 L734.8 1321.3 L741.3 1341 L747.8 1349.2 L754.3 1335.2 L760.8 1287.7 L767.4 1243.4 L773.9 1297.5 L780.4 1229.4 L786.9 1260.6 L793.4 1175.3 L800 1158 L806.5 1333.6 L813 1318.8 L819.5 1316.4 L826 1349.2 L832.6 1339.8 L839.1 1339.8 L845.6 1299.1 L852.1 1281.9 L858.7 1271.2 L865.2 1271.2 L871.7 1297.5 L878.2 1269.6 L884.7 1308.2 L891.3 1284.4 L897.8 1264.7 L904.3 1287.7 L910.8 1336.9 L917.3 1358.2 L923.9 1341 L930.4 1334.4 L936.9 1305.7 L943.4 1330.3 L949.9 1263 L956.5 1335.2 L963 1331.9 L969.5 1344.3 L976 1341 L982.6 1381.2 L989.1 1305.7 L995.6 1336 L1002.1 1343.4 L1008.6 1351.6 L1015.2 1367.2 L1021.7 1345.9 L1028.2 1364.8 L1034.7 1346.7 L1041.2 1350 L1047.8 1334.4 L1054.3 1286 L1060.8 1354.1 L1067.3 1320.5 L1073.8 1330.3 L1080.4 1289.3 L1086.9 1332.8 L1093.4 1342.6 L1099.9 1311.4 L1106.5 1307.3 L1113 1309.8 L1119.5 1344.3 L1126 1338.5 L1132.5 1358.2 L1139.1 1314.7 L1145.6 1317.2 L1152.1 1315.5 L1158.6 1311.4 L1165.1 1325.4 L1171.7 1329.5 L1178.2 1350 L1184.7 1331.9 L1191.2 1331.1 L1197.7 1282.7 L1204.3 1269.6 L1210.8 1254.8 L1217.3 1305.7 L1223.8 1294.2 L1230.3 1322.1 L1236.9 1285.2 L1243.4 1279.4 L1249.9 1310.6 L1256.4 1330.3 L1263 1294.2 L1269.5 1214.6 L1276 1304.1 L1282.5 1284.4 L1289 1324.6 L1295.6 1301.6 L1302.1 1270.4 L1308.6 1270.4 L1315.1 1330.3" stroke="#0000ff"/>
<path d="M128.3 1234.3 L134.8 1181 L141.3 1170.8 L147.9 1154.4 L154.4 1117.5 L160.9 1044 L167.4 1056.8 L173.9 1148.7 L180.5 1137.2 L187 1102.7 L193.5 1082.2 L200 1091.2 L206.6 1067.8 L213.1 1067.5 L219.6 1122.9 L226.1 1104.4 L232.6 1086.3 L239.2 1066.6 L245.7 1058.9 L252.2 1069.1 L258.7 1115.9 L265.2 1145.4 L271.8 1148.7 L278.3 1140.5 L284.8 1150.3 L291.3 1116.7 L297.8 1126.5 L304.4 1118.3 L310.9 1104.4 L317.4 1111.8 L323.9 1109.2 L330.5 1147.8 L337 1160.9 L343.5 1135.5 L350 1149.4 L356.5 1155.2 L363.1 1126.4 L369.6 1165 L376.1 1207.7 L382.6 1250.3 L389.1 1256.9 L395.7 1253.6 L402.2 1232.3 L408.7 1231.4 L415.2 1226.5 L421.7 1238.8 L428.3 1263.4 L434.8 1251.1 L441.3 1242.9 L447.8 1262.6 L454.4 1258.8 L460.9 1261 L467.4 1272.5 L473.9 1263.4 L480.4 1274.1 L487 1277.9 L493.5 1243.7 L500 1261 L506.5 1306.9 L513 1296.2 L519.6 1291.3 L526.1 1293.8 L532.6 1299.1 L539.1 1294.2 L545.6 1294.2 L552.2 1299.1 L558.7 1305.7 L565.2 1321.8 L571.7 1323.4 L578.2 1318 L584.8 1305.7 L591.3 1295.9 L597.8 1288.5 L604.3 1289.6 L610.9 1299.1 L617.4 1298.8 L623.9 1313.9 L630.4 1318 L636.9 1304.1 L643.5 1276.2 L650 1252.4 L656.5 1280.3 L663 1290.9 L669.5 1281.9 L676.1 1284.4 L682.6 1310.6 L689.1 1324.6 L695.6 1330.3 L702.1 1334.7 L708.7 1318 L715.2 1309.3 L721.7 1318 L728.2 1326.2 L734.8 1330.3 L741.3 1332.3 L747.8 1330.3 L754.3 1315.5 L760.8 1309 L767.4 1301.6 L773.9 1293.4 L780.4 1287.7 L786.9 1289.6 L793.4 1281.4 L800 1312.3 L806.5 1340.1 L813 1346.4 L819.5 1341.8 L826 1336.9 L832.6 1333.6 L839.1 1305.7 L845.6 1286 L852.1 1273.7 L858.7 1282.7 L865.2 1284 L871.7 1267.6 L878.2 1266.7 L884.7 1264.7 L891.3 1268 L897.8 1287.7 L904.3 1310.6 L910.8 1319.6 L917.3 1313.9 L923.9 1300.8 L930.4 1292.6 L936.9 1300 L943.4 1311.4 L949.9 1321.3 L956.5 1315.5 L963 1326.2 L969.5 1338.5 L976 1336 L982.6 1335.2 L989.1 1329.5 L995.6 1331.9 L1002.1 1332.3 L1008.6 1334.9 L1015.2 1330.3 L1021.7 1326.7 L1028.2 1334.1 L1034.7 1331.9 L1041.2 1339.3 L1047.8 1350 L1054.3 1355.2 L1060.8 1352.9 L1067.3 1346.7 L1073.8 1336.9 L1080.4 1330 L1086.9 1329.5 L1093.4 1327.4 L1099.9 1326.2 L1106.5 1315.5 L1113 1318.8 L1119.5 1323.7 L1126 1330.8 L1132.5 1329.5 L1139.1 1330 L1145.6 1332.3 L1152.1 1326.2 L1158.6 1324.6 L1165.1 1331.9 L1171.7 1330 L1178.2 1337.7 L1184.7 1327 L1191.2 1307.3 L1197.7 1282.7 L1204.3 1270.4 L1210.8 1275.3 L1217.3 1302.4 L1223.8 1311.4 L1230.3 1318 L1236.9 1325.9 L1243.4 1312.3 L1249.9 1300 L1256.4 1304.1 L1263 1309 L1269.5 1315.2 L1276 1310.6 L1282.5 1307.3 L1289 1310.6 L1295.6 1319.6 L1302.1 1322.4 L1308.6 1319.6 L1315.1 1320.5" stroke="#000"/>
</g>
<rect x="127.9" y="973.9" width="1194.1" height="421.7" fill="none" stroke="#000" stroke-width="2.2"/>
<text transform="translate(46.46 1406.80) scale(0.9250 1)" font-size="33.20">0.0</text>
<text transform="translate(46.85 1322.46) scale(0.9250 1)" font-size="33.20">0.2</text>
<text transform="translate(46.16 1238.12) scale(0.9250 1)" font-size="33.20">0.4</text>
<text transform="translate(46.62 1153.78) scale(0.9250 1)" font-size="33.20">0.6</text>
<text transform="translate(46.62 1069.44) scale(0.9250 1)" font-size="33.20">0.8</text>
<text transform="translate(46.46 985.10) scale(0.9250 1)" font-size="33.20">1.0</text>
<text transform="translate(97.12 1466.10) scale(0.9300 1)" font-size="33.80">3-01</text>
<text transform="translate(188.31 1466.10) scale(0.9300 1)" font-size="33.80">3-15</text>
<text transform="translate(299.66 1466.10) scale(0.9300 1)" font-size="33.80">4-01</text>
<text transform="translate(390.64 1466.10) scale(0.9300 1)" font-size="33.80">4-15</text>
<text transform="translate(495.18 1466.10) scale(0.9300 1)" font-size="33.80">5-01</text>
<text transform="translate(586.37 1466.10) scale(0.9300 1)" font-size="33.80">5-15</text>
<text transform="translate(697.03 1466.10) scale(0.9300 1)" font-size="33.80">6-01</text>
<text transform="translate(795.21 1466.10) scale(0.9300 1)" font-size="33.80">6-15</text>
<text transform="translate(899.69 1466.10) scale(0.9300 1)" font-size="33.80">7-01</text>
<text transform="translate(990.87 1466.10) scale(0.9300 1)" font-size="33.80">7-15</text>
<text transform="translate(1102.14 1466.10) scale(0.9300 1)" font-size="33.80">8-01</text>
<text transform="translate(1193.03 1466.10) scale(0.9300 1)" font-size="33.80">8-15</text>
<text transform="translate(1291.14 1466.10) scale(0.9300 1)" font-size="33.80">8-31</text>
<path d="M100.3 1395.6 H127.9 M100.3 1311.3 H127.9 M100.3 1226.9 H127.9 M100.3 1142.6 H127.9 M100.3 1058.2 H127.9 M100.3 973.9 H127.9 M127.9 1395.6 v27.6 M219.2 1395.6 v27.6 M330.2 1395.6 v27.6 M421.3 1395.6 v27.6 M526 1395.6 v27.6 M617.3 1395.6 v27.6 M728 1395.6 v27.6 M826.3 1395.6 v27.6 M930.7 1395.6 v27.6 M1022 1395.6 v27.6 M1133 1395.6 v27.6 M1224 1395.6 v27.6 M1322 1395.6 v27.6" stroke="#000" stroke-width="2.2" fill="none"/>
<path d="M114.1 1374.5 H127.9 M114.1 1353.4 H127.9 M114.1 1332.3 H127.9 M114.1 1290.2 H127.9 M114.1 1269.1 H127.9 M114.1 1248 H127.9 M114.1 1205.8 H127.9 M114.1 1184.8 H127.9 M114.1 1163.7 H127.9 M114.1 1121.5 H127.9 M114.1 1100.4 H127.9 M114.1 1079.3 H127.9 M114.1 1037.2 H127.9 M114.1 1016.1 H127.9 M114.1 995 H127.9" stroke="#222" stroke-width="1" fill="none"/>
<path d="M144 1508.3 H288.3" stroke="#000" stroke-width="3.2" fill="none"/>
<text transform="translate(304.37 1521.00) scale(0.8644 1)" font-size="36.90">MERRA-2</text>
<path d="M546 1508 H690.7" stroke="#ff0000" stroke-width="3.2" fill="none"/>
<text transform="translate(702.05 1521.00) scale(0.9686 1)" font-size="36.90">Dry_BB</text>
<path d="M937.7 1508.3 H1083.3" stroke="#0000ff" stroke-width="3.2" fill="none"/>
<text transform="translate(1098.82 1521.00) scale(0.9633 1)" font-size="36.90">Wet_BB</text>
<path d="M144 1567 H288.3" stroke="#ff0000" stroke-width="3.2" fill="none" stroke-dasharray="19.5 6 7 5.5"/>
<text transform="translate(303.35 1576.90) scale(0.9689 1)" font-size="36.90">Dry_NoBB</text>
<path d="M546 1567.5 H690.7" stroke="#0000ff" stroke-width="3.2" fill="none" stroke-dasharray="19.5 6 7 5.5"/>
<text transform="translate(706.52 1576.90) scale(0.9639 1)" font-size="36.90">Wet_NoBB</text>
</g>
</svg></body></html>
